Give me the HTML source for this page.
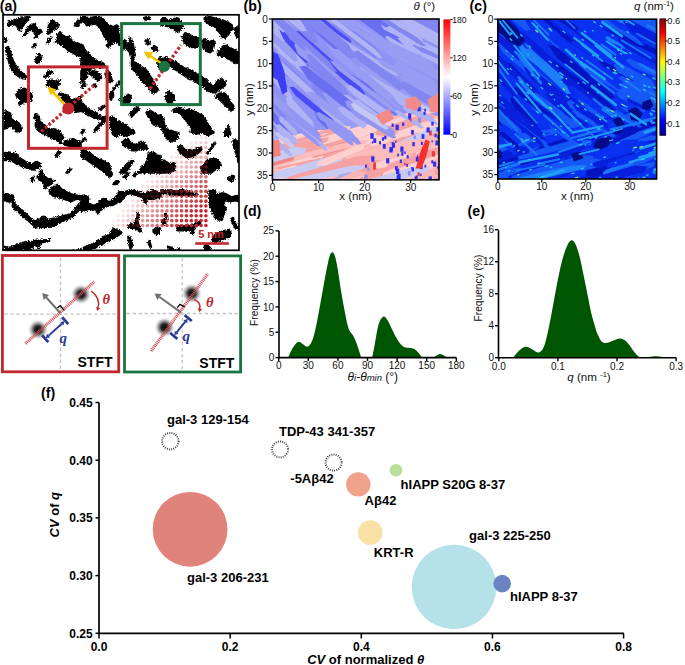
<!DOCTYPE html>
<html><head><meta charset="utf-8"><style>
html,body{margin:0;padding:0;background:#fff;width:685px;height:665px;overflow:hidden}
svg{display:block}

</style></head><body>
<svg width="685" height="665" viewBox="0 0 685 665" font-family="Liberation Sans, sans-serif"><text x="-0.30" y="10.60" font-size="14.2" text-anchor="start" font-weight="bold" font-style="normal" fill="#000" >(a)</text>
<g id="pa">
<rect x="3" y="14.7" width="236" height="235.6" fill="#fff"/>
<clipPath id="clipa"><rect x="3" y="14.7" width="236" height="235.6"/></clipPath><filter id="jag" x="0" y="0" width="100%" height="100%"><feTurbulence type="turbulence" baseFrequency="0.45" numOctaves="1" seed="3" result="t"/><feDisplacementMap in="SourceGraphic" in2="t" scale="3.2" xChannelSelector="R" yChannelSelector="G"/></filter><g clip-path="url(#clipa)"><g filter="url(#jag)" fill="#000" stroke="#000" stroke-width="1.6" stroke-linejoin="round">
<polygon points="6.6,24.0 7.5,21.6 9.6,19.8 12.0,19.2 14.4,18.6 16.8,17.4 19.2,16.2 29.5,15.8 26.5,19.2 23.5,23.4 20.5,27.6 19.2,29.8 17.4,28.8 16.2,25.8 14.4,24.0 12.0,23.4 9.6,24.0 7.8,25.2"/>
<polygon points="22.3,34.3 24.1,31.2 26.5,27.6 29.5,24.0 31.9,22.8 34.3,23.4 34.9,25.8 36.7,27.6 39.7,28.8 40.9,30.6 38.5,32.5 36.7,34.9 35.5,37.3 34.3,36.1 33.1,31.8 31.0,29.4 28.9,28.8 25.9,31.8 24.1,34.3"/>
<polygon points="45.7,32.5 47.9,28.2 47.2,25.2 49.3,21.6 51.7,18.6 53.5,20.4 54.1,22.8 57.1,22.8 58.0,24.6 54.7,27.0 51.7,28.8 49.9,31.2 47.5,33.1"/>
<polygon points="45.5,41.5 48.1,37.3 50.5,36.1 50.3,38.5 47.5,41.8"/>
<polygon points="31.0,46.3 33.4,42.7 35.1,43.0 32.7,46.9"/>
<polygon points="33.9,58.9 36.1,54.7 38.3,52.7 40.7,56.8 39.1,60.1 37.3,62.5 35.5,61.3"/>
<polygon points="54.4,40.9 56.5,34.3 58.9,30.6 61.4,33.7 65.0,36.1 68.0,35.5 71.0,39.4 75.2,42.1 80.0,43.0 80.0,55.3 75.2,54.1 71.6,51.7 68.0,50.5 65.0,47.5 60.8,43.9 57.1,42.7"/>
<polygon points="73.4,24.6 77.0,19.2 80.0,16.8 80.0,20.4 76.4,25.2"/>
<polygon points="3.6,36.7 5.4,37.3 5.8,39.7 4.2,40.9 3.6,40.9"/>
<polygon points="4.8,46.9 6.6,45.7 9.0,48.1 10.2,52.9 12.0,58.9 14.4,63.7 18.0,68.5 21.7,72.2 25.3,75.2 24.7,77.6 21.7,77.6 18.0,75.8 14.4,73.4 11.4,69.7 9.0,64.9 7.2,58.9 6.0,52.9 4.6,49.3"/>
<polygon points="15.6,92.0 17.4,89.0 21.1,87.8 24.1,87.2 25.9,89.0 25.3,92.0"/>
<polygon points="42.7,75.8 46.3,70.9 49.3,69.5 51.7,70.9 47.5,74.6 44.5,76.4"/>
<polygon points="45.1,84.2 47.5,80.0 49.9,78.2 52.9,80.6 56.5,79.4 59.5,78.8 57.7,84.2 55.9,87.2 54.1,89.0 51.7,86.6 48.1,85.4"/>
<polygon points="80.0,15.6 83.6,15.6 87.2,16.8 90.8,16.2 95.6,15.6 100.5,16.2 103.5,19.2 105.3,22.8 108.9,24.6 112.5,25.8 115.5,24.0 117.9,25.8 116.7,29.4 117.9,32.5 119.7,36.1 120.9,40.9 119.7,43.9 117.3,42.7 115.5,40.9 112.5,41.5 110.1,44.5 107.1,46.3 105.3,44.5 107.7,40.9 105.9,38.5 103.5,36.1 101.7,32.5 99.8,28.8 97.4,25.2 94.4,22.8 91.4,23.4 88.4,24.0 85.4,24.6 84.8,22.8 82.4,21.0 80.0,20.4"/>
<polygon points="80.0,44.5 81.8,43.9 83.6,48.1 86.6,51.7 89.6,54.1 93.2,57.7 96.8,60.1 100.5,61.3 102.9,62.5 104.1,66.1 101.7,66.7 98.0,66.1 94.4,65.5 92.0,66.1 89.6,68.5 86.0,69.7 82.4,68.5 80.0,67.3"/>
<polygon points="142.6,16.8 146.2,15.6 149.8,16.8 147.4,19.2 143.8,18.6"/>
<polygon points="125.7,48.1 127.5,40.9 129.3,36.7 131.1,39.7 132.3,44.5 133.5,49.3 134.1,54.1 132.9,57.7 131.7,60.1 134.1,61.3 137.7,63.7 141.4,66.1 145.0,68.5 147.4,72.2 149.8,75.8 152.2,79.4 154.6,84.2 157.0,89.0 154.6,92.0 151.0,92.0 148.6,87.8 145.0,84.2 141.4,80.6 138.9,77.0 136.5,73.4 134.1,70.9 131.7,68.5 130.5,64.9 130.5,60.1 130.5,55.3 129.3,51.7 127.5,50.5"/>
<polygon points="143.8,40.3 146.2,37.9 148.6,39.7 149.2,42.1 146.8,43.9"/>
<polygon points="150.4,46.9 152.8,44.5 155.8,46.3 156.4,48.7 153.4,49.9"/>
<polygon points="120.9,40.3 123.3,38.5 125.7,40.9 125.1,45.7 123.3,48.1 120.9,46.9"/>
<polygon points="80.0,69.7 84.8,68.5 87.2,72.2 86.0,75.8 83.6,79.4 81.2,81.8 80.0,81.8"/>
<polygon points="88.4,70.9 92.0,69.7 96.8,70.9 99.2,73.4 100.5,77.0 98.0,79.4 95.6,79.4 93.2,77.0 90.8,74.6 89.0,73.4"/>
<polygon points="104.1,72.2 106.5,69.7 108.9,70.9 110.1,75.8 111.3,79.4 108.9,81.8 106.5,79.4 104.7,75.8"/>
<polygon points="80.0,85.4 83.6,81.8 84.8,83.6 81.2,87.2"/>
<polygon points="92.0,84.2 93.8,83.0 95.6,85.4 93.8,86.6"/>
<polygon points="108.9,92.0 118.5,79.4 119.7,80.6 110.3,92.0"/>
<polygon points="157.0,57.7 160.0,56.5 160.0,68.5 157.0,67.3"/>
<polygon points="160.0,16.8 163.6,16.8 167.2,19.2 172.0,18.0 175.6,16.8 178.6,18.0 181.1,22.8 182.3,26.4 179.2,28.8 176.8,31.2 173.2,28.8 169.6,26.4 166.0,25.2 162.4,24.0 160.0,23.4"/>
<polygon points="181.1,36.1 184.1,31.8 187.7,33.1 191.3,34.9 194.9,36.1 198.5,37.3 199.7,42.1 197.3,44.5 194.9,46.9 190.1,46.3 186.5,44.5 183.5,43.3 182.3,39.7"/>
<polygon points="203.3,16.8 208.1,15.6 212.9,16.8 217.7,18.0 222.6,19.2 227.4,21.6 231.0,24.0 232.2,27.6 229.8,30.0 227.4,33.7 225.0,36.1 222.6,37.3 220.2,34.9 217.7,31.2 215.3,27.6 212.9,25.2 209.3,24.0 205.7,21.6 203.3,19.2"/>
<polygon points="233.4,27.6 237.0,25.2 238.8,26.4 238.8,36.1 235.8,36.1 234.0,32.5"/>
<polygon points="200.9,38.5 204.5,37.9 208.1,40.9 211.7,39.1 214.1,40.9 212.9,45.7 211.7,49.3 209.3,51.7 205.7,50.5 203.3,48.1 201.5,44.5"/>
<polygon points="216.5,50.5 220.2,46.9 223.8,43.3 227.4,45.7 232.2,48.1 235.8,50.5 238.8,51.7 238.8,60.1 234.6,62.5 231.0,60.1 227.4,57.7 223.8,55.3 220.2,55.3 216.5,54.1"/>
<polygon points="160.0,57.7 164.8,56.5 169.6,58.3 173.2,60.1 176.8,62.5 180.5,64.9 184.1,67.3 187.7,68.5 191.3,69.7 194.9,72.2 198.5,73.4 202.1,75.8 205.7,79.4 209.3,83.0 212.9,85.4 216.5,79.4 220.2,77.0 223.8,80.6 225.0,84.2 221.4,86.6 217.7,89.0 214.1,91.4 210.5,92.0 205.7,89.0 202.1,85.4 198.5,83.0 193.7,80.6 190.1,78.2 186.5,77.0 182.9,74.6 179.2,72.2 175.6,69.7 172.0,67.3 169.6,64.9 166.0,64.9 162.4,63.7 160.0,62.5"/>
<polygon points="164.8,92.0 167.2,89.0 169.6,92.0"/>
<polygon points="14.4,92.0 30.1,92.0 31.3,95.6 30.1,99.2 27.7,101.6 24.1,100.4 20.5,102.8 18.0,104.0 19.2,99.2 15.6,95.6"/>
<polygon points="3.6,110.0 7.2,110.0 9.6,112.5 9.6,116.1 12.0,119.7 15.6,120.3 18.0,122.1 21.1,126.9 19.2,130.5 16.8,131.7 14.4,129.3 12.0,126.9 9.6,124.5 6.0,126.9 3.6,128.1"/>
<polygon points="33.7,113.7 36.1,113.1 38.5,116.1 38.5,119.7 40.9,122.1 43.3,124.5 45.7,126.9 50.5,128.1 54.1,128.1 57.7,129.3 60.2,132.9 62.6,136.5 60.2,140.1 58.9,142.5 56.5,140.1 52.9,137.7 49.3,136.5 45.7,134.1 42.1,132.9 38.5,130.5 35.5,128.1 34.3,124.5 34.9,119.7 33.7,116.1"/>
<polygon points="57.7,92.0 67.4,94.4 69.8,99.2 73.4,98.0 77.0,96.8 80.0,95.6 80.0,110.0 74.6,111.2 71.0,107.6 67.4,105.2 65.0,101.6 61.4,98.0"/>
<polygon points="63.8,140.1 67.4,138.9 72.2,137.7 77.0,140.1 80.0,141.3 80.0,147.3 72.2,146.1 67.4,144.9 62.6,143.7"/>
<polygon points="54.1,154.6 57.7,149.7 59.5,150.9 55.9,155.8"/>
<polygon points="3.6,152.2 7.2,150.9 12.0,152.2 15.6,153.4 19.2,157.0 22.9,159.4 26.5,161.8 31.3,163.0 34.9,160.6 38.5,161.8 39.7,165.4 36.1,167.8 32.5,169.0 27.7,167.8 24.1,166.6 20.5,165.4 15.6,163.0 12.0,160.6 7.2,159.4 3.6,159.4"/>
<polygon points="65.0,172.0 68.6,167.2 70.4,168.4 66.8,172.0"/>
<polygon points="38.5,170.2 40.9,169.0 41.5,172.0 38.5,172.0"/>
<polygon points="80.0,101.6 82.4,102.8 84.8,106.4 88.4,108.8 92.0,110.0 95.6,112.5 99.2,114.9 102.9,116.1 105.3,114.9 104.1,119.7 100.5,118.5 96.8,117.3 93.2,117.3 89.6,114.9 86.0,113.7 82.4,111.2 80.0,110.0"/>
<polygon points="92.0,130.5 98.0,123.3 102.9,117.9 104.1,119.7 99.2,125.7 93.8,131.1"/>
<polygon points="80.0,131.7 82.4,128.1 83.6,129.3 81.2,132.9"/>
<polygon points="80.0,140.1 83.6,136.5 84.8,138.3 81.2,141.3"/>
<polygon points="98.0,107.6 102.9,104.0 104.1,105.2 99.2,110.0"/>
<polygon points="108.9,92.0 112.5,92.0 112.5,95.6 110.1,99.2 108.9,98.0"/>
<polygon points="118.5,98.0 123.3,95.6 128.1,93.2 130.5,96.8 128.1,101.6 124.5,102.8 120.9,101.6"/>
<polygon points="128.1,113.7 132.9,107.6 136.5,105.2 138.9,107.6 134.1,112.5 130.5,116.1"/>
<polygon points="108.9,116.1 111.3,114.9 113.7,117.3 116.1,119.7 118.5,120.9 122.1,122.1 125.7,124.5 128.1,126.9 130.5,128.1 132.9,129.3 134.1,131.7 130.5,132.9 128.1,134.1 125.7,135.3 123.3,134.1 120.9,132.9 118.5,134.1 116.1,135.3 113.7,135.3 111.3,132.9 110.1,128.1 108.9,123.3"/>
<polygon points="120.9,140.1 124.5,137.7 128.1,138.9 130.5,142.5 134.1,143.7 138.9,141.3 141.4,140.1 145.0,143.7 146.2,147.3 142.6,148.5 138.9,148.5 135.3,149.7 131.7,149.7 128.1,147.3 124.5,146.1 122.1,143.7"/>
<polygon points="145.0,111.2 148.6,108.8 152.2,111.2 155.8,113.7 160.0,114.9 160.0,125.7 155.8,124.5 152.2,123.3 149.8,119.7 147.4,116.1"/>
<polygon points="80.0,149.7 83.6,148.5 87.2,150.9 90.8,153.4 94.4,155.8 99.2,158.2 104.1,160.6 107.7,163.0 110.1,166.6 108.9,172.0 104.1,172.0 100.5,169.0 96.8,166.6 93.2,164.2 89.6,161.8 86.0,159.4 82.4,157.0 80.0,155.8"/>
<polygon points="118.5,172.0 123.3,165.4 126.9,161.8 130.5,159.4 132.9,160.6 128.1,166.6 124.5,172.0"/>
<polygon points="136.5,172.0 141.4,165.4 146.2,159.4 147.4,152.2 152.2,150.9 157.0,154.6 160.0,154.6 160.0,172.0"/>
<polygon points="163.6,95.6 167.2,93.2 170.8,92.0 173.2,94.4 173.2,99.2 170.8,101.6 167.2,101.6 164.8,99.2"/>
<polygon points="172.0,108.8 176.8,106.4 181.7,107.6 184.1,110.0 187.7,107.6 192.5,110.0 197.3,112.5 200.9,113.7 203.3,116.1 205.7,120.9 208.1,124.5 210.5,128.1 212.9,131.7 208.1,134.1 204.5,134.1 200.9,131.7 197.3,132.9 192.5,131.7 188.9,130.5 190.1,126.9 187.7,123.3 185.3,120.9 182.9,117.3 180.5,113.7 176.8,111.2 173.2,111.2"/>
<polygon points="214.1,94.4 218.9,92.0 223.8,92.0 227.4,96.8 229.8,101.6 232.2,104.0 233.4,107.6 231.0,110.0 228.6,108.8 225.0,105.2 221.4,101.6 217.7,98.0 215.3,96.8"/>
<polygon points="160.0,114.9 162.4,117.3 163.6,123.3 166.0,128.1 169.6,129.3 173.2,130.5 178.0,131.7 176.8,136.5 173.2,140.1 169.6,141.3 166.0,137.7 163.6,132.9 161.2,129.3 160.0,128.1"/>
<polygon points="176.8,146.1 179.2,143.7 182.9,147.3 185.3,149.7 188.9,148.5 192.5,149.7 196.1,147.3 199.7,146.1 200.9,148.5 197.3,152.2 193.7,154.6 190.1,155.8 186.5,157.0 182.9,154.6 179.2,152.2 178.0,149.7"/>
<polygon points="222.6,131.7 225.6,128.1 227.4,124.5 228.6,128.1 229.8,132.9 227.4,135.3 223.8,135.3"/>
<polygon points="232.2,137.7 237.0,140.1 238.8,142.5 238.8,159.4 237.0,160.6 235.8,154.6 233.4,148.5 232.2,143.7"/>
<polygon points="160.0,159.4 163.6,159.4 167.2,161.8 169.6,164.2 172.0,161.8 174.4,164.2 173.2,169.0 169.6,171.4 164.8,172.0 160.0,172.0"/>
<polygon points="199.7,166.6 203.3,163.0 205.7,159.4 208.1,158.2 211.7,157.0 215.3,158.2 217.7,159.4 220.2,164.2 217.7,167.8 214.1,169.0 210.5,172.0 200.9,172.0"/>
<polygon points="205.7,152.2 213.5,141.3 214.7,142.3 206.9,153.1"/>
<polygon points="36.1,175.6 39.7,172.0 42.1,173.2 45.7,176.8 50.5,178.0 53.5,180.4 50.5,182.8 46.9,185.2 44.5,187.6 42.7,186.4 43.3,182.8 40.9,180.4 37.3,178.6"/>
<polygon points="29.5,179.2 31.9,176.2 33.1,177.4 30.7,180.4"/>
<polygon points="48.1,190.0 52.9,185.2 56.5,183.4 60.2,187.6 63.8,190.0 68.6,192.5 73.4,193.7 80.0,194.9 80.0,197.9 74.6,198.5 69.8,200.9 65.0,198.5 60.2,197.3 55.3,196.1 51.7,194.9 49.3,192.5"/>
<polygon points="3.4,192.5 7.2,193.1 12.0,194.3 13.2,198.5 12.0,200.9 8.4,200.9 4.8,199.7 3.4,199.7"/>
<polygon points="12.0,200.9 14.4,203.3 18.0,206.9 22.9,210.5 26.5,214.1 30.1,217.7 33.7,220.1 38.5,217.7 43.3,215.3 45.7,218.9 50.5,217.7 55.3,216.5 60.2,215.3 65.0,214.1 69.8,212.9 74.6,206.9 80.0,200.9 80.0,206.9 77.0,210.5 72.2,215.3 67.4,217.7 62.6,220.1 57.7,222.5 52.9,224.9 48.1,226.1 43.3,226.1 38.5,226.1 34.9,227.3 31.3,223.7 27.7,220.1 24.1,217.7 20.5,214.1 16.8,210.5 13.2,208.1 11.4,204.5"/>
<polygon points="3.6,245.4 7.2,246.6 12.0,245.4 16.8,243.0 21.7,241.8 25.3,240.6 30.1,240.6 34.9,239.4 39.7,239.4 44.5,238.8 48.7,238.8 45.7,240.6 40.9,241.8 37.3,246.6 34.9,244.2 31.3,246.6 27.7,249.0 22.9,249.6 18.0,249.6 12.0,250.2 7.2,250.2 3.6,249.6"/>
<polygon points="72.2,250.8 77.0,249.0 80.0,247.8 80.0,250.8"/>
<polygon points="104.1,172.0 111.3,172.0 110.1,175.6 107.7,175.6 105.3,173.8"/>
<polygon points="122.1,176.8 125.7,172.0 128.1,172.0 124.5,177.4"/>
<polygon points="131.7,175.0 134.1,172.0 136.5,172.0 133.5,175.6"/>
<polygon points="111.9,183.4 114.9,179.8 118.5,179.8 116.1,183.4"/>
<polygon points="80.0,194.9 84.8,193.7 87.2,196.1 88.4,202.1 92.0,204.5 96.8,202.1 101.7,197.3 105.3,198.5 108.9,200.9 112.5,198.5 116.1,193.7 118.5,190.0 122.1,191.2 125.7,190.0 129.3,188.8 134.1,189.4 138.9,191.2 143.8,192.5 148.6,190.0 152.2,188.8 157.0,191.2 160.0,192.5 160.0,196.1 155.8,197.3 151.0,198.5 146.2,197.9 145.0,202.1 142.6,200.9 140.2,196.1 136.5,194.9 132.9,193.7 129.3,192.5 125.7,193.7 122.1,197.3 119.7,200.9 116.1,202.1 111.3,204.5 107.7,204.5 102.9,206.9 99.2,209.3 96.8,212.9 94.4,208.1 92.0,209.3 88.4,208.1 84.8,209.3 81.2,210.5 80.0,210.5"/>
<polygon points="82.4,246.6 87.2,244.2 92.0,243.0 96.8,239.4 101.7,235.8 106.5,234.6 110.1,230.9 112.5,227.3 116.1,228.5 119.7,229.7 120.9,232.2 117.3,234.6 113.7,237.0 110.1,238.2 105.3,240.6 101.7,243.0 96.8,245.4 93.2,247.8 89.6,249.6 83.6,249.6"/>
<polygon points="126.9,235.8 128.7,235.2 131.7,244.2 129.9,248.4 128.1,244.2"/>
<polygon points="146.8,240.6 148.6,240.0 150.4,245.4 148.6,246.0"/>
<polygon points="126.9,224.9 130.5,222.5 132.9,224.9 135.3,217.7 136.5,211.7 137.7,214.1 136.5,220.1 140.2,229.7 138.9,230.9 134.1,227.3 130.5,227.3 127.5,227.3"/>
<polygon points="152.2,228.5 155.8,226.1 159.4,227.3 158.2,232.2 154.6,233.4 152.2,230.9"/>
<polygon points="226.8,176.8 231.0,174.4 233.4,175.6 232.2,179.2 229.8,180.4 227.4,178.6"/>
<polygon points="208.1,190.0 212.9,188.8 216.5,193.1 221.4,191.8 225.6,193.1 231.0,196.1 235.8,194.3 238.8,196.1 238.8,200.9 234.6,199.7 228.6,200.9 225.6,199.7 222.6,200.9 225.0,208.1 222.6,214.1 221.4,218.9 217.7,218.9 214.1,217.7 211.7,211.7 209.3,206.9 208.1,202.1"/>
<polygon points="229.8,217.7 232.2,216.5 234.6,222.5 235.8,226.1 238.2,224.9 238.8,227.3 234.6,227.9 232.2,223.7"/>
<polygon points="216.5,232.2 222.6,229.7 227.4,228.5 229.8,230.9 228.6,235.8 225.0,237.0 220.2,239.4 216.5,240.6 212.9,241.2 210.5,239.4 212.9,234.6"/>
<polygon points="175.6,226.1 179.2,224.9 184.1,224.9 190.1,223.7 194.9,222.5 198.5,220.1 199.7,222.5 196.1,224.9 192.5,227.3 192.5,232.2 191.3,233.4 188.9,229.7 185.3,229.7 180.5,229.7 176.8,229.7"/>
<polygon points="160.0,188.8 164.8,188.8 169.6,189.4 174.4,190.0 179.2,188.8 184.1,189.4 188.9,191.2 193.7,192.5 196.1,193.7 190.1,194.9 184.1,193.7 180.5,194.9 175.6,193.7 169.6,193.7 164.8,192.5 160.0,192.5"/>
<polygon points="167.2,245.4 170.8,246.6 174.4,249.0 178.0,247.8 180.5,250.8 167.2,250.8"/>
<polygon points="203.3,244.8 208.1,244.2 209.3,249.0 206.9,250.8 204.5,250.2"/>
<polygon points="160.0,220.1 163.6,217.7 164.8,222.5 162.4,223.7"/>
<polygon points="163.6,212.9 165.4,212.3 166.6,216.5 164.8,217.7"/>
</g></g>
</g>
<rect x="3" y="14.8" width="236" height="235.5" fill="none" stroke="#000" stroke-width="1.7"/>
<g clip-path="url(#clipa)">
<circle cx="205.90" cy="225.50" r="1.8" fill="#c4242c" fill-opacity="1.00"/>
<circle cx="205.90" cy="220.63" r="1.8" fill="#c4242c" fill-opacity="1.00"/>
<circle cx="205.90" cy="215.76" r="1.8" fill="#c4242c" fill-opacity="1.00"/>
<circle cx="205.90" cy="210.89" r="1.8" fill="#c4242c" fill-opacity="1.00"/>
<circle cx="205.90" cy="206.02" r="1.8" fill="#c4242c" fill-opacity="1.00"/>
<circle cx="205.90" cy="201.15" r="1.8" fill="#c4242c" fill-opacity="0.98"/>
<circle cx="205.90" cy="196.28" r="1.8" fill="#c4242c" fill-opacity="0.92"/>
<circle cx="205.90" cy="191.41" r="1.8" fill="#c4242c" fill-opacity="0.86"/>
<circle cx="205.90" cy="186.54" r="1.8" fill="#c4242c" fill-opacity="0.79"/>
<circle cx="205.90" cy="181.67" r="1.8" fill="#c4242c" fill-opacity="0.73"/>
<circle cx="205.90" cy="176.80" r="1.8" fill="#c4242c" fill-opacity="0.67"/>
<circle cx="205.90" cy="171.93" r="1.8" fill="#c4242c" fill-opacity="0.60"/>
<circle cx="205.90" cy="167.06" r="1.8" fill="#c4242c" fill-opacity="0.54"/>
<circle cx="205.90" cy="162.19" r="1.8" fill="#c4242c" fill-opacity="0.48"/>
<circle cx="205.90" cy="157.32" r="1.8" fill="#c4242c" fill-opacity="0.41"/>
<circle cx="205.90" cy="152.45" r="1.8" fill="#c4242c" fill-opacity="0.35"/>
<circle cx="205.90" cy="147.58" r="1.8" fill="#c4242c" fill-opacity="0.29"/>
<circle cx="205.90" cy="142.71" r="1.8" fill="#c4242c" fill-opacity="0.22"/>
<circle cx="205.90" cy="137.84" r="1.8" fill="#c4242c" fill-opacity="0.16"/>
<circle cx="205.90" cy="132.97" r="1.8" fill="#c4242c" fill-opacity="0.10"/>
<circle cx="201.03" cy="225.50" r="1.8" fill="#c4242c" fill-opacity="1.00"/>
<circle cx="201.03" cy="220.63" r="1.8" fill="#c4242c" fill-opacity="1.00"/>
<circle cx="201.03" cy="215.76" r="1.8" fill="#c4242c" fill-opacity="1.00"/>
<circle cx="201.03" cy="210.89" r="1.8" fill="#c4242c" fill-opacity="1.00"/>
<circle cx="201.03" cy="206.02" r="1.8" fill="#c4242c" fill-opacity="1.00"/>
<circle cx="201.03" cy="201.15" r="1.8" fill="#c4242c" fill-opacity="0.94"/>
<circle cx="201.03" cy="196.28" r="1.8" fill="#c4242c" fill-opacity="0.88"/>
<circle cx="201.03" cy="191.41" r="1.8" fill="#c4242c" fill-opacity="0.82"/>
<circle cx="201.03" cy="186.54" r="1.8" fill="#c4242c" fill-opacity="0.75"/>
<circle cx="201.03" cy="181.67" r="1.8" fill="#c4242c" fill-opacity="0.69"/>
<circle cx="201.03" cy="176.80" r="1.8" fill="#c4242c" fill-opacity="0.63"/>
<circle cx="201.03" cy="171.93" r="1.8" fill="#c4242c" fill-opacity="0.57"/>
<circle cx="201.03" cy="167.06" r="1.8" fill="#c4242c" fill-opacity="0.50"/>
<circle cx="201.03" cy="162.19" r="1.8" fill="#c4242c" fill-opacity="0.44"/>
<circle cx="201.03" cy="157.32" r="1.8" fill="#c4242c" fill-opacity="0.38"/>
<circle cx="201.03" cy="152.45" r="1.8" fill="#c4242c" fill-opacity="0.31"/>
<circle cx="201.03" cy="147.58" r="1.8" fill="#c4242c" fill-opacity="0.25"/>
<circle cx="201.03" cy="142.71" r="1.8" fill="#c4242c" fill-opacity="0.19"/>
<circle cx="201.03" cy="137.84" r="1.8" fill="#c4242c" fill-opacity="0.12"/>
<circle cx="201.03" cy="132.97" r="1.8" fill="#c4242c" fill-opacity="0.06"/>
<circle cx="196.16" cy="225.50" r="1.8" fill="#c4242c" fill-opacity="1.00"/>
<circle cx="196.16" cy="220.63" r="1.8" fill="#c4242c" fill-opacity="1.00"/>
<circle cx="196.16" cy="215.76" r="1.8" fill="#c4242c" fill-opacity="1.00"/>
<circle cx="196.16" cy="210.89" r="1.8" fill="#c4242c" fill-opacity="1.00"/>
<circle cx="196.16" cy="206.02" r="1.8" fill="#c4242c" fill-opacity="0.95"/>
<circle cx="196.16" cy="201.15" r="1.8" fill="#c4242c" fill-opacity="0.89"/>
<circle cx="196.16" cy="196.28" r="1.8" fill="#c4242c" fill-opacity="0.83"/>
<circle cx="196.16" cy="191.41" r="1.8" fill="#c4242c" fill-opacity="0.77"/>
<circle cx="196.16" cy="186.54" r="1.8" fill="#c4242c" fill-opacity="0.71"/>
<circle cx="196.16" cy="181.67" r="1.8" fill="#c4242c" fill-opacity="0.64"/>
<circle cx="196.16" cy="176.80" r="1.8" fill="#c4242c" fill-opacity="0.58"/>
<circle cx="196.16" cy="171.93" r="1.8" fill="#c4242c" fill-opacity="0.52"/>
<circle cx="196.16" cy="167.06" r="1.8" fill="#c4242c" fill-opacity="0.46"/>
<circle cx="196.16" cy="162.19" r="1.8" fill="#c4242c" fill-opacity="0.39"/>
<circle cx="196.16" cy="157.32" r="1.8" fill="#c4242c" fill-opacity="0.33"/>
<circle cx="196.16" cy="152.45" r="1.8" fill="#c4242c" fill-opacity="0.27"/>
<circle cx="196.16" cy="147.58" r="1.8" fill="#c4242c" fill-opacity="0.21"/>
<circle cx="196.16" cy="142.71" r="1.8" fill="#c4242c" fill-opacity="0.14"/>
<circle cx="196.16" cy="137.84" r="1.8" fill="#c4242c" fill-opacity="0.08"/>
<circle cx="191.29" cy="225.50" r="1.8" fill="#c4242c" fill-opacity="1.00"/>
<circle cx="191.29" cy="220.63" r="1.8" fill="#c4242c" fill-opacity="1.00"/>
<circle cx="191.29" cy="215.76" r="1.8" fill="#c4242c" fill-opacity="1.00"/>
<circle cx="191.29" cy="210.89" r="1.8" fill="#c4242c" fill-opacity="0.95"/>
<circle cx="191.29" cy="206.02" r="1.8" fill="#c4242c" fill-opacity="0.89"/>
<circle cx="191.29" cy="201.15" r="1.8" fill="#c4242c" fill-opacity="0.84"/>
<circle cx="191.29" cy="196.28" r="1.8" fill="#c4242c" fill-opacity="0.78"/>
<circle cx="191.29" cy="191.41" r="1.8" fill="#c4242c" fill-opacity="0.71"/>
<circle cx="191.29" cy="186.54" r="1.8" fill="#c4242c" fill-opacity="0.65"/>
<circle cx="191.29" cy="181.67" r="1.8" fill="#c4242c" fill-opacity="0.59"/>
<circle cx="191.29" cy="176.80" r="1.8" fill="#c4242c" fill-opacity="0.53"/>
<circle cx="191.29" cy="171.93" r="1.8" fill="#c4242c" fill-opacity="0.47"/>
<circle cx="191.29" cy="167.06" r="1.8" fill="#c4242c" fill-opacity="0.41"/>
<circle cx="191.29" cy="162.19" r="1.8" fill="#c4242c" fill-opacity="0.35"/>
<circle cx="191.29" cy="157.32" r="1.8" fill="#c4242c" fill-opacity="0.28"/>
<circle cx="191.29" cy="152.45" r="1.8" fill="#c4242c" fill-opacity="0.22"/>
<circle cx="191.29" cy="147.58" r="1.8" fill="#c4242c" fill-opacity="0.16"/>
<circle cx="191.29" cy="142.71" r="1.8" fill="#c4242c" fill-opacity="0.10"/>
<circle cx="186.42" cy="225.50" r="1.8" fill="#c4242c" fill-opacity="1.00"/>
<circle cx="186.42" cy="220.63" r="1.8" fill="#c4242c" fill-opacity="1.00"/>
<circle cx="186.42" cy="215.76" r="1.8" fill="#c4242c" fill-opacity="0.95"/>
<circle cx="186.42" cy="210.89" r="1.8" fill="#c4242c" fill-opacity="0.89"/>
<circle cx="186.42" cy="206.02" r="1.8" fill="#c4242c" fill-opacity="0.84"/>
<circle cx="186.42" cy="201.15" r="1.8" fill="#c4242c" fill-opacity="0.78"/>
<circle cx="186.42" cy="196.28" r="1.8" fill="#c4242c" fill-opacity="0.72"/>
<circle cx="186.42" cy="191.41" r="1.8" fill="#c4242c" fill-opacity="0.66"/>
<circle cx="186.42" cy="186.54" r="1.8" fill="#c4242c" fill-opacity="0.60"/>
<circle cx="186.42" cy="181.67" r="1.8" fill="#c4242c" fill-opacity="0.54"/>
<circle cx="186.42" cy="176.80" r="1.8" fill="#c4242c" fill-opacity="0.48"/>
<circle cx="186.42" cy="171.93" r="1.8" fill="#c4242c" fill-opacity="0.42"/>
<circle cx="186.42" cy="167.06" r="1.8" fill="#c4242c" fill-opacity="0.36"/>
<circle cx="186.42" cy="162.19" r="1.8" fill="#c4242c" fill-opacity="0.30"/>
<circle cx="186.42" cy="157.32" r="1.8" fill="#c4242c" fill-opacity="0.23"/>
<circle cx="186.42" cy="152.45" r="1.8" fill="#c4242c" fill-opacity="0.17"/>
<circle cx="186.42" cy="147.58" r="1.8" fill="#c4242c" fill-opacity="0.11"/>
<circle cx="181.55" cy="225.50" r="1.8" fill="#c4242c" fill-opacity="0.98"/>
<circle cx="181.55" cy="220.63" r="1.8" fill="#c4242c" fill-opacity="0.94"/>
<circle cx="181.55" cy="215.76" r="1.8" fill="#c4242c" fill-opacity="0.89"/>
<circle cx="181.55" cy="210.89" r="1.8" fill="#c4242c" fill-opacity="0.84"/>
<circle cx="181.55" cy="206.02" r="1.8" fill="#c4242c" fill-opacity="0.78"/>
<circle cx="181.55" cy="201.15" r="1.8" fill="#c4242c" fill-opacity="0.72"/>
<circle cx="181.55" cy="196.28" r="1.8" fill="#c4242c" fill-opacity="0.66"/>
<circle cx="181.55" cy="191.41" r="1.8" fill="#c4242c" fill-opacity="0.60"/>
<circle cx="181.55" cy="186.54" r="1.8" fill="#c4242c" fill-opacity="0.55"/>
<circle cx="181.55" cy="181.67" r="1.8" fill="#c4242c" fill-opacity="0.49"/>
<circle cx="181.55" cy="176.80" r="1.8" fill="#c4242c" fill-opacity="0.43"/>
<circle cx="181.55" cy="171.93" r="1.8" fill="#c4242c" fill-opacity="0.36"/>
<circle cx="181.55" cy="167.06" r="1.8" fill="#c4242c" fill-opacity="0.30"/>
<circle cx="181.55" cy="162.19" r="1.8" fill="#c4242c" fill-opacity="0.24"/>
<circle cx="181.55" cy="157.32" r="1.8" fill="#c4242c" fill-opacity="0.18"/>
<circle cx="181.55" cy="152.45" r="1.8" fill="#c4242c" fill-opacity="0.12"/>
<circle cx="181.55" cy="147.58" r="1.8" fill="#c4242c" fill-opacity="0.06"/>
<circle cx="176.68" cy="225.50" r="1.8" fill="#c4242c" fill-opacity="0.92"/>
<circle cx="176.68" cy="220.63" r="1.8" fill="#c4242c" fill-opacity="0.88"/>
<circle cx="176.68" cy="215.76" r="1.8" fill="#c4242c" fill-opacity="0.83"/>
<circle cx="176.68" cy="210.89" r="1.8" fill="#c4242c" fill-opacity="0.78"/>
<circle cx="176.68" cy="206.02" r="1.8" fill="#c4242c" fill-opacity="0.72"/>
<circle cx="176.68" cy="201.15" r="1.8" fill="#c4242c" fill-opacity="0.66"/>
<circle cx="176.68" cy="196.28" r="1.8" fill="#c4242c" fill-opacity="0.61"/>
<circle cx="176.68" cy="191.41" r="1.8" fill="#c4242c" fill-opacity="0.55"/>
<circle cx="176.68" cy="186.54" r="1.8" fill="#c4242c" fill-opacity="0.49"/>
<circle cx="176.68" cy="181.67" r="1.8" fill="#c4242c" fill-opacity="0.43"/>
<circle cx="176.68" cy="176.80" r="1.8" fill="#c4242c" fill-opacity="0.37"/>
<circle cx="176.68" cy="171.93" r="1.8" fill="#c4242c" fill-opacity="0.31"/>
<circle cx="176.68" cy="167.06" r="1.8" fill="#c4242c" fill-opacity="0.25"/>
<circle cx="176.68" cy="162.19" r="1.8" fill="#c4242c" fill-opacity="0.19"/>
<circle cx="176.68" cy="157.32" r="1.8" fill="#c4242c" fill-opacity="0.13"/>
<circle cx="176.68" cy="152.45" r="1.8" fill="#c4242c" fill-opacity="0.07"/>
<circle cx="171.81" cy="225.50" r="1.8" fill="#c4242c" fill-opacity="0.86"/>
<circle cx="171.81" cy="220.63" r="1.8" fill="#c4242c" fill-opacity="0.82"/>
<circle cx="171.81" cy="215.76" r="1.8" fill="#c4242c" fill-opacity="0.77"/>
<circle cx="171.81" cy="210.89" r="1.8" fill="#c4242c" fill-opacity="0.71"/>
<circle cx="171.81" cy="206.02" r="1.8" fill="#c4242c" fill-opacity="0.66"/>
<circle cx="171.81" cy="201.15" r="1.8" fill="#c4242c" fill-opacity="0.60"/>
<circle cx="171.81" cy="196.28" r="1.8" fill="#c4242c" fill-opacity="0.55"/>
<circle cx="171.81" cy="191.41" r="1.8" fill="#c4242c" fill-opacity="0.49"/>
<circle cx="171.81" cy="186.54" r="1.8" fill="#c4242c" fill-opacity="0.43"/>
<circle cx="171.81" cy="181.67" r="1.8" fill="#c4242c" fill-opacity="0.37"/>
<circle cx="171.81" cy="176.80" r="1.8" fill="#c4242c" fill-opacity="0.31"/>
<circle cx="171.81" cy="171.93" r="1.8" fill="#c4242c" fill-opacity="0.26"/>
<circle cx="171.81" cy="167.06" r="1.8" fill="#c4242c" fill-opacity="0.20"/>
<circle cx="171.81" cy="162.19" r="1.8" fill="#c4242c" fill-opacity="0.14"/>
<circle cx="171.81" cy="157.32" r="1.8" fill="#c4242c" fill-opacity="0.08"/>
<circle cx="166.94" cy="225.50" r="1.8" fill="#c4242c" fill-opacity="0.79"/>
<circle cx="166.94" cy="220.63" r="1.8" fill="#c4242c" fill-opacity="0.75"/>
<circle cx="166.94" cy="215.76" r="1.8" fill="#c4242c" fill-opacity="0.71"/>
<circle cx="166.94" cy="210.89" r="1.8" fill="#c4242c" fill-opacity="0.65"/>
<circle cx="166.94" cy="206.02" r="1.8" fill="#c4242c" fill-opacity="0.60"/>
<circle cx="166.94" cy="201.15" r="1.8" fill="#c4242c" fill-opacity="0.55"/>
<circle cx="166.94" cy="196.28" r="1.8" fill="#c4242c" fill-opacity="0.49"/>
<circle cx="166.94" cy="191.41" r="1.8" fill="#c4242c" fill-opacity="0.43"/>
<circle cx="166.94" cy="186.54" r="1.8" fill="#c4242c" fill-opacity="0.37"/>
<circle cx="166.94" cy="181.67" r="1.8" fill="#c4242c" fill-opacity="0.32"/>
<circle cx="166.94" cy="176.80" r="1.8" fill="#c4242c" fill-opacity="0.26"/>
<circle cx="166.94" cy="171.93" r="1.8" fill="#c4242c" fill-opacity="0.20"/>
<circle cx="166.94" cy="167.06" r="1.8" fill="#c4242c" fill-opacity="0.14"/>
<circle cx="166.94" cy="162.19" r="1.8" fill="#c4242c" fill-opacity="0.08"/>
<circle cx="162.07" cy="225.50" r="1.8" fill="#c4242c" fill-opacity="0.73"/>
<circle cx="162.07" cy="220.63" r="1.8" fill="#c4242c" fill-opacity="0.69"/>
<circle cx="162.07" cy="215.76" r="1.8" fill="#c4242c" fill-opacity="0.64"/>
<circle cx="162.07" cy="210.89" r="1.8" fill="#c4242c" fill-opacity="0.59"/>
<circle cx="162.07" cy="206.02" r="1.8" fill="#c4242c" fill-opacity="0.54"/>
<circle cx="162.07" cy="201.15" r="1.8" fill="#c4242c" fill-opacity="0.49"/>
<circle cx="162.07" cy="196.28" r="1.8" fill="#c4242c" fill-opacity="0.43"/>
<circle cx="162.07" cy="191.41" r="1.8" fill="#c4242c" fill-opacity="0.37"/>
<circle cx="162.07" cy="186.54" r="1.8" fill="#c4242c" fill-opacity="0.32"/>
<circle cx="162.07" cy="181.67" r="1.8" fill="#c4242c" fill-opacity="0.26"/>
<circle cx="162.07" cy="176.80" r="1.8" fill="#c4242c" fill-opacity="0.20"/>
<circle cx="162.07" cy="171.93" r="1.8" fill="#c4242c" fill-opacity="0.14"/>
<circle cx="162.07" cy="167.06" r="1.8" fill="#c4242c" fill-opacity="0.08"/>
<circle cx="157.20" cy="225.50" r="1.8" fill="#c4242c" fill-opacity="0.67"/>
<circle cx="157.20" cy="220.63" r="1.8" fill="#c4242c" fill-opacity="0.63"/>
<circle cx="157.20" cy="215.76" r="1.8" fill="#c4242c" fill-opacity="0.58"/>
<circle cx="157.20" cy="210.89" r="1.8" fill="#c4242c" fill-opacity="0.53"/>
<circle cx="157.20" cy="206.02" r="1.8" fill="#c4242c" fill-opacity="0.48"/>
<circle cx="157.20" cy="201.15" r="1.8" fill="#c4242c" fill-opacity="0.43"/>
<circle cx="157.20" cy="196.28" r="1.8" fill="#c4242c" fill-opacity="0.37"/>
<circle cx="157.20" cy="191.41" r="1.8" fill="#c4242c" fill-opacity="0.31"/>
<circle cx="157.20" cy="186.54" r="1.8" fill="#c4242c" fill-opacity="0.26"/>
<circle cx="157.20" cy="181.67" r="1.8" fill="#c4242c" fill-opacity="0.20"/>
<circle cx="157.20" cy="176.80" r="1.8" fill="#c4242c" fill-opacity="0.14"/>
<circle cx="157.20" cy="171.93" r="1.8" fill="#c4242c" fill-opacity="0.09"/>
<circle cx="152.33" cy="225.50" r="1.8" fill="#c4242c" fill-opacity="0.60"/>
<circle cx="152.33" cy="220.63" r="1.8" fill="#c4242c" fill-opacity="0.57"/>
<circle cx="152.33" cy="215.76" r="1.8" fill="#c4242c" fill-opacity="0.52"/>
<circle cx="152.33" cy="210.89" r="1.8" fill="#c4242c" fill-opacity="0.47"/>
<circle cx="152.33" cy="206.02" r="1.8" fill="#c4242c" fill-opacity="0.42"/>
<circle cx="152.33" cy="201.15" r="1.8" fill="#c4242c" fill-opacity="0.36"/>
<circle cx="152.33" cy="196.28" r="1.8" fill="#c4242c" fill-opacity="0.31"/>
<circle cx="152.33" cy="191.41" r="1.8" fill="#c4242c" fill-opacity="0.26"/>
<circle cx="152.33" cy="186.54" r="1.8" fill="#c4242c" fill-opacity="0.20"/>
<circle cx="152.33" cy="181.67" r="1.8" fill="#c4242c" fill-opacity="0.14"/>
<circle cx="152.33" cy="176.80" r="1.8" fill="#c4242c" fill-opacity="0.09"/>
<circle cx="147.46" cy="225.50" r="1.8" fill="#c4242c" fill-opacity="0.54"/>
<circle cx="147.46" cy="220.63" r="1.8" fill="#c4242c" fill-opacity="0.50"/>
<circle cx="147.46" cy="215.76" r="1.8" fill="#c4242c" fill-opacity="0.46"/>
<circle cx="147.46" cy="210.89" r="1.8" fill="#c4242c" fill-opacity="0.41"/>
<circle cx="147.46" cy="206.02" r="1.8" fill="#c4242c" fill-opacity="0.36"/>
<circle cx="147.46" cy="201.15" r="1.8" fill="#c4242c" fill-opacity="0.30"/>
<circle cx="147.46" cy="196.28" r="1.8" fill="#c4242c" fill-opacity="0.25"/>
<circle cx="147.46" cy="191.41" r="1.8" fill="#c4242c" fill-opacity="0.20"/>
<circle cx="147.46" cy="186.54" r="1.8" fill="#c4242c" fill-opacity="0.14"/>
<circle cx="147.46" cy="181.67" r="1.8" fill="#c4242c" fill-opacity="0.08"/>
<circle cx="142.59" cy="225.50" r="1.8" fill="#c4242c" fill-opacity="0.48"/>
<circle cx="142.59" cy="220.63" r="1.8" fill="#c4242c" fill-opacity="0.44"/>
<circle cx="142.59" cy="215.76" r="1.8" fill="#c4242c" fill-opacity="0.39"/>
<circle cx="142.59" cy="210.89" r="1.8" fill="#c4242c" fill-opacity="0.35"/>
<circle cx="142.59" cy="206.02" r="1.8" fill="#c4242c" fill-opacity="0.30"/>
<circle cx="142.59" cy="201.15" r="1.8" fill="#c4242c" fill-opacity="0.24"/>
<circle cx="142.59" cy="196.28" r="1.8" fill="#c4242c" fill-opacity="0.19"/>
<circle cx="142.59" cy="191.41" r="1.8" fill="#c4242c" fill-opacity="0.14"/>
<circle cx="142.59" cy="186.54" r="1.8" fill="#c4242c" fill-opacity="0.08"/>
<circle cx="137.72" cy="225.50" r="1.8" fill="#c4242c" fill-opacity="0.41"/>
<circle cx="137.72" cy="220.63" r="1.8" fill="#c4242c" fill-opacity="0.38"/>
<circle cx="137.72" cy="215.76" r="1.8" fill="#c4242c" fill-opacity="0.33"/>
<circle cx="137.72" cy="210.89" r="1.8" fill="#c4242c" fill-opacity="0.28"/>
<circle cx="137.72" cy="206.02" r="1.8" fill="#c4242c" fill-opacity="0.23"/>
<circle cx="137.72" cy="201.15" r="1.8" fill="#c4242c" fill-opacity="0.18"/>
<circle cx="137.72" cy="196.28" r="1.8" fill="#c4242c" fill-opacity="0.13"/>
<circle cx="137.72" cy="191.41" r="1.8" fill="#c4242c" fill-opacity="0.08"/>
<circle cx="132.85" cy="225.50" r="1.8" fill="#c4242c" fill-opacity="0.35"/>
<circle cx="132.85" cy="220.63" r="1.8" fill="#c4242c" fill-opacity="0.31"/>
<circle cx="132.85" cy="215.76" r="1.8" fill="#c4242c" fill-opacity="0.27"/>
<circle cx="132.85" cy="210.89" r="1.8" fill="#c4242c" fill-opacity="0.22"/>
<circle cx="132.85" cy="206.02" r="1.8" fill="#c4242c" fill-opacity="0.17"/>
<circle cx="132.85" cy="201.15" r="1.8" fill="#c4242c" fill-opacity="0.12"/>
<circle cx="132.85" cy="196.28" r="1.8" fill="#c4242c" fill-opacity="0.07"/>
<circle cx="127.98" cy="225.50" r="1.8" fill="#c4242c" fill-opacity="0.29"/>
<circle cx="127.98" cy="220.63" r="1.8" fill="#c4242c" fill-opacity="0.25"/>
<circle cx="127.98" cy="215.76" r="1.8" fill="#c4242c" fill-opacity="0.21"/>
<circle cx="127.98" cy="210.89" r="1.8" fill="#c4242c" fill-opacity="0.16"/>
<circle cx="127.98" cy="206.02" r="1.8" fill="#c4242c" fill-opacity="0.11"/>
<circle cx="127.98" cy="201.15" r="1.8" fill="#c4242c" fill-opacity="0.06"/>
<circle cx="123.11" cy="225.50" r="1.8" fill="#c4242c" fill-opacity="0.22"/>
<circle cx="123.11" cy="220.63" r="1.8" fill="#c4242c" fill-opacity="0.19"/>
<circle cx="123.11" cy="215.76" r="1.8" fill="#c4242c" fill-opacity="0.14"/>
<circle cx="123.11" cy="210.89" r="1.8" fill="#c4242c" fill-opacity="0.10"/>
<circle cx="118.24" cy="225.50" r="1.8" fill="#c4242c" fill-opacity="0.16"/>
<circle cx="118.24" cy="220.63" r="1.8" fill="#c4242c" fill-opacity="0.12"/>
<circle cx="118.24" cy="215.76" r="1.8" fill="#c4242c" fill-opacity="0.08"/>
<circle cx="113.37" cy="225.50" r="1.8" fill="#c4242c" fill-opacity="0.10"/>
<circle cx="113.37" cy="220.63" r="1.8" fill="#c4242c" fill-opacity="0.06"/>
</g>
<rect x="28.5" y="66.9" width="78.6" height="81.4" fill="none" stroke="#c1272d" stroke-width="3"/>
<line x1="41.4" y1="131.4" x2="95" y2="84.3" stroke="#c1272d" stroke-width="3.3" stroke-dasharray="2.7 2.1"/>
<line x1="66" y1="106" x2="51" y2="90" stroke="#f4c400" stroke-width="2.6"/>
<path d="M47.1,86.4 L56.5,89.6 L50.5,95.3 Z" fill="#f4c400"/>
<circle cx="68.3" cy="108.6" r="6" fill="#c1272d"/>
<rect x="121.6" y="23.6" width="78.7" height="81" fill="none" stroke="#1a7540" stroke-width="3"/>
<line x1="150" y1="88.6" x2="181" y2="45" stroke="#c1272d" stroke-width="3.3" stroke-dasharray="2.7 2.1"/>
<line x1="161" y1="63" x2="148" y2="54.5" stroke="#f4c400" stroke-width="2.6"/>
<path d="M143.6,51.4 L153.3,52.2 L148.4,59.5 Z" fill="#f4c400"/>
<circle cx="164.3" cy="66.4" r="5.6" fill="#1a7540"/>
<rect x="195.2" y="242.2" width="33.7" height="2.6" fill="#c1272d"/>
<text x="198.20" y="238.00" font-size="11" text-anchor="start" font-weight="bold" font-style="normal" fill="#c1272d" >5 nm</text>
<defs><radialGradient id="blob"><stop offset="0" stop-color="#000" stop-opacity="0.97"/><stop offset="0.33" stop-color="#080808" stop-opacity="0.88"/><stop offset="0.62" stop-color="#202020" stop-opacity="0.4"/><stop offset="0.85" stop-color="#444" stop-opacity="0.08"/><stop offset="1" stop-color="#666" stop-opacity="0"/></radialGradient></defs>
<circle cx="81" cy="294.3" r="10.5" fill="url(#blob)"/>
<circle cx="38" cy="329.6" r="10.5" fill="url(#blob)"/>
<line x1="60.5" y1="257.5" x2="60.5" y2="369.8" stroke="#c4c4c4" stroke-width="1.3" stroke-dasharray="3.4 2.6"/>
<line x1="4.4" y1="314.1" x2="116.7" y2="314.1" stroke="#c4c4c4" stroke-width="1.3" stroke-dasharray="3.4 2.6"/>
<line x1="25.5" y1="343.5" x2="94.2" y2="281.8" stroke="#d4545e" stroke-width="3.2" stroke-dasharray="1.05 0.75"/>
<path d="M42.20,292.90 L49.02,295.12 L43.65,299.92 Z" fill="#707070"/>
<line x1="60.2" y1="313" x2="46.34" y2="297.52" stroke="#707070" stroke-width="2"/>
<polyline points="57.4,308.1 60.2,305.6 64.3,310.4" fill="none" stroke="#000" stroke-width="1.3"/>
<path d="M45.94,338.03 L47.01,333.84 L50.22,337.41 Z" fill="#2b3a96"/>
<path d="M64.46,321.37 L63.39,325.56 L60.18,321.99 Z" fill="#2b3a96"/>
<line x1="48.62" y1="335.62" x2="61.78" y2="323.78" stroke="#2b3a96" stroke-width="2"/>
<line x1="48.28" y1="342.12" x2="42.12" y2="335.28" stroke="#2b3a96" stroke-width="2.8"/>
<line x1="68.28" y1="324.12" x2="62.12" y2="317.28" stroke="#2b3a96" stroke-width="2.8"/>
<text x="59.60" y="343.30" font-size="15" text-anchor="start" font-weight="bold" font-style="italic" fill="#2b3a96" style="font-family:Liberation Serif,serif">q</text>
<path d="M91.2,291 Q101.5,299 97.6,308.5" fill="none" stroke="#c1272d" stroke-width="1.5"/>
<path d="M97.20,311.00 L96.09,306.93 L100.32,308.16 Z" fill="#c1272d"/>
<text x="102.60" y="303.60" font-size="14.5" text-anchor="start" font-weight="bold" font-style="italic" fill="#c1272d" style="font-family:Liberation Serif,serif">θ</text>
<text x="77.50" y="366.80" font-size="14" text-anchor="start" font-weight="bold" font-style="normal" fill="#000" >STFT</text>
<rect x="2.4" y="255.5" width="116.3" height="116.30000000000001" fill="none" stroke="#c1272d" stroke-width="2.8"/>
<circle cx="191.7" cy="293.4" r="10.5" fill="url(#blob)"/>
<circle cx="164.6" cy="327.3" r="10.5" fill="url(#blob)"/>
<line x1="182.2" y1="257.9" x2="182.2" y2="370" stroke="#c4c4c4" stroke-width="1.3" stroke-dasharray="3.4 2.6"/>
<line x1="126.5" y1="313.5" x2="238.6" y2="313.5" stroke="#c4c4c4" stroke-width="1.3" stroke-dasharray="3.4 2.6"/>
<line x1="151.1" y1="351" x2="207.9" y2="273.8" stroke="#d4545e" stroke-width="3.2" stroke-dasharray="1.05 0.75"/>
<path d="M154.50,293.40 L161.64,294.10 L157.43,299.94 Z" fill="#707070"/>
<line x1="180.9" y1="312.4" x2="159.53" y2="297.02" stroke="#707070" stroke-width="2"/>
<polyline points="177.3,307.6 179.9,304.4 184.6,306.6" fill="none" stroke="#000" stroke-width="1.3"/>
<path d="M174.43,335.12 L174.83,330.81 L178.56,333.83 Z" fill="#2b3a96"/>
<path d="M187.57,318.88 L187.17,323.19 L183.44,320.17 Z" fill="#2b3a96"/>
<line x1="176.69" y1="332.32" x2="185.31" y2="321.68" stroke="#2b3a96" stroke-width="2"/>
<line x1="177.38" y1="338.79" x2="170.22" y2="333.01" stroke="#2b3a96" stroke-width="2.8"/>
<line x1="191.78" y1="320.99" x2="184.62" y2="315.21" stroke="#2b3a96" stroke-width="2.8"/>
<text x="182.40" y="340.60" font-size="15" text-anchor="start" font-weight="bold" font-style="italic" fill="#2b3a96" style="font-family:Liberation Serif,serif">q</text>
<path d="M194.2,299.6 Q201.5,302.5 199.6,309" fill="none" stroke="#c1272d" stroke-width="1.5"/>
<path d="M199.50,312.20 L197.73,308.37 L202.10,308.88 Z" fill="#c1272d"/>
<text x="206.00" y="306.50" font-size="14.5" text-anchor="start" font-weight="bold" font-style="italic" fill="#c1272d" style="font-family:Liberation Serif,serif">θ</text>
<text x="199.30" y="367.90" font-size="14" text-anchor="start" font-weight="bold" font-style="normal" fill="#000" >STFT</text>
<rect x="124.5" y="255.9" width="116.1" height="116.1" fill="none" stroke="#1a7540" stroke-width="2.8"/>
<text x="243.60" y="10.50" font-size="14.2" text-anchor="start" font-weight="bold" font-style="normal" fill="#000" >(b)</text>
<rect x="272.4" y="19" width="166.60000000000002" height="160.8" fill="#8f93f3"/>
<clipPath id="clipb"><rect x="272.4" y="19" width="166.60000000000002" height="160.8"/></clipPath><g clip-path="url(#clipb)">
<polygon points="330.9,67.7 339.5,80.1 400.2,128.1 406.7,127.6 398.0,115.2 337.4,67.3" fill="#6a6ef0"/>
<polygon points="301.0,97.9 309.9,109.1 366.0,159.5 371.1,160.9 362.1,149.6 306.1,99.3" fill="#989cf3"/>
<polygon points="329.2,63.8 334.6,70.5 371.6,93.4 375.4,92.3 370.0,85.6 333.1,62.7" fill="#6a6ef0"/>
<polygon points="244.5,92.5 251.1,102.4 295.7,145.6 300.2,146.6 293.5,136.8 248.9,93.5" fill="#b0b4f5"/>
<polygon points="251.8,-0.4 258.9,11.9 308.3,67.0 313.6,68.5 306.5,56.2 257.1,1.0" fill="#4a4cf4"/>
<polygon points="347.0,4.6 354.0,16.0 407.1,54.3 413.5,52.6 406.5,41.3 353.3,2.9" fill="#6a6ef0"/>
<polygon points="295.8,12.6 299.6,19.0 329.2,40.2 332.8,39.1 329.0,32.7 299.4,11.5" fill="#8286f1"/>
<polygon points="341.6,22.9 351.4,32.7 413.3,68.6 418.9,67.8 409.1,58.0 347.3,22.1" fill="#989cf3"/>
<polygon points="368.2,-2.3 371.0,5.1 399.2,24.7 403.5,22.3 400.7,15.0 372.5,-4.7" fill="#8286f1"/>
<polygon points="384.9,36.7 389.3,41.7 418.5,58.7 421.4,57.9 417.0,52.8 387.8,35.9" fill="#b0b4f5"/>
<polygon points="249.5,74.9 256.3,88.1 305.0,148.1 310.5,149.9 303.8,136.6 255.0,76.7" fill="#989cf3"/>
<polygon points="362.8,-6.6 371.7,4.3 432.1,40.6 438.4,38.7 429.5,27.8 369.1,-8.5" fill="#b0b4f5"/>
<polygon points="225.2,18.3 232.8,30.8 285.4,85.9 290.9,87.2 283.3,74.8 230.8,19.6" fill="#6a6ef0"/>
<polygon points="285.9,33.1 289.9,39.3 319.0,62.1 322.3,61.6 318.4,55.3 289.3,32.6" fill="#8286f1"/>
<polygon points="248.6,-17.2 253.4,-6.9 291.9,36.7 296.8,37.3 292.1,26.9 253.5,-16.7" fill="#b0b4f5"/>
<polygon points="391.3,46.9 395.0,54.4 426.7,71.3 431.0,67.9 427.4,60.4 395.6,43.5" fill="#b0b4f5"/>
<polygon points="371.4,-5.3 382.1,5.3 449.8,43.4 456.0,42.2 445.3,31.6 377.6,-6.4" fill="#8286f1"/>
<polygon points="307.3,3.9 311.7,12.3 347.4,43.0 351.9,42.3 347.4,33.9 311.8,3.2" fill="#4a4cf4"/>
<polygon points="404.3,36.8 414.2,45.4 475.1,74.1 480.4,72.6 470.5,64.0 409.6,35.3" fill="#b0b4f5"/>
<polygon points="238.4,20.5 244.7,34.4 294.5,94.5 300.7,95.7 294.5,81.8 244.7,21.7" fill="#989cf3"/>
<polygon points="226.6,8.7 233.6,21.0 283.2,75.6 288.7,76.9 281.7,64.5 232.1,9.9" fill="#8286f1"/>
<polygon points="358.2,67.5 363.4,76.4 404.2,105.8 409.2,104.2 404.1,95.2 363.3,65.8" fill="#b0b4f5"/>
<polygon points="357.2,63.4 367.8,74.1 435.4,111.9 441.6,110.7 430.9,100.0 363.4,62.2" fill="#989cf3"/>
<polygon points="325.5,15.2 331.0,25.1 375.0,57.9 380.5,56.2 375.0,46.3 331.0,13.5" fill="#8286f1"/>
<polygon points="279.4,60.8 286.8,72.5 338.2,122.9 343.6,123.8 336.2,112.1 284.8,61.7" fill="#8286f1"/>
<polygon points="354.6,102.3 360.6,112.0 405.1,148.4 410.2,147.8 404.2,138.1 359.8,101.7" fill="#b0b4f5"/>
<polygon points="397.4,38.3 406.4,48.0 465.5,79.3 471.2,77.4 462.2,67.7 403.1,36.4" fill="#b0b4f5"/>
<polygon points="328.2,66.5 335.2,76.9 386.1,113.0 391.9,111.6 384.9,101.2 334.0,65.1" fill="#8286f1"/>
<polygon points="216.1,-1.1 222.8,9.1 268.8,53.0 273.6,53.8 266.8,43.6 220.8,-0.4" fill="#8286f1"/>
<polygon points="231.5,56.6 234.7,63.0 260.8,87.5 264.1,87.3 260.9,80.9 234.8,56.3" fill="#989cf3"/>
<polygon points="255.8,-13.4 260.2,-4.0 297.9,30.4 302.9,29.6 298.5,20.2 260.8,-14.2" fill="#989cf3"/>
<polygon points="400.7,-8.7 407.3,-2.2 449.6,16.6 453.6,14.7 447.0,8.2 404.7,-10.6" fill="#b0b4f5"/>
<polygon points="298.7,-7.1 301.8,0.3 331.0,24.3 335.2,22.9 332.1,15.5 302.9,-8.5" fill="#989cf3"/>
<polygon points="398.7,76.8 408.9,86.4 472.8,117.7 478.6,116.0 468.4,106.5 404.5,75.1" fill="#989cf3"/>
<polygon points="325.5,44.2 334.3,56.6 394.6,106.8 400.9,106.9 392.1,94.5 331.8,44.3" fill="#989cf3"/>
<polygon points="211.7,-8.5 218.2,1.4 262.4,45.0 266.9,45.9 260.3,36.0 216.2,-7.6" fill="#8286f1"/>
<polygon points="294.1,44.5 297.9,53.9 335.2,82.5 340.6,80.2 336.8,70.8 299.5,42.2" fill="#989cf3"/>
<polygon points="384.5,51.4 396.4,60.8 468.3,93.9 474.3,92.7 462.3,83.3 390.5,50.2" fill="#989cf3"/>
<polygon points="412.2,45.3 420.8,51.6 471.8,73.7 475.9,72.8 467.3,66.5 416.3,44.5" fill="#8286f1"/>
<polygon points="285.8,97.5 287.3,104.7 310.3,129.7 314.5,128.7 312.9,121.5 290.0,96.5" fill="#b0b4f5"/>
<polygon points="379.3,21.4 383.7,29.4 420.0,47.6 424.6,44.1 420.1,36.0 383.9,17.9" fill="#b0b4f5"/>
<polygon points="305.3,61.9 313.5,71.9 365.8,115.4 370.6,116.3 362.3,106.3 310.1,62.8" fill="#8286f1"/>
<polygon points="320.0,26.9 327.1,35.9 375.4,68.1 380.4,67.2 373.3,58.2 325.0,26.0" fill="#989cf3"/>
<polygon points="332.7,-9.6 339.0,-0.2 386.1,27.4 391.6,24.8 385.2,15.4 338.1,-12.2" fill="#6a6ef0"/>
<polygon points="216.4,89.3 221.0,100.5 262.1,144.5 267.8,144.3 263.2,133.1 222.1,89.2" fill="#8286f1"/>
<polygon points="387.6,28.2 398.9,36.5 465.0,67.6 470.3,67.1 459.0,58.9 392.9,27.8" fill="#b0b4f5"/>
<polygon points="231.3,99.7 235.5,109.3 270.0,150.2 274.4,150.9 270.2,141.3 235.7,100.4" fill="#8286f1"/>
<polygon points="244.5,47.3 249.5,57.1 288.5,98.1 293.1,98.6 288.0,88.8 249.1,47.7" fill="#b0b4f5"/>
<polygon points="367.5,-7.6 377.8,2.2 442.8,32.1 448.8,29.8 438.5,20.1 373.5,-9.8" fill="#8286f1"/>
<polygon points="357.4,98.1 365.7,107.6 417.1,149.0 421.7,149.9 413.4,140.4 362.0,99.0" fill="#8286f1"/>
<polygon points="354.0,108.5 358.1,115.4 389.3,139.7 393.1,138.9 389.0,132.0 357.8,107.7" fill="#6a6ef0"/>
<polygon points="332.7,36.1 341.7,43.9 395.3,75.8 399.7,75.9 390.8,68.1 337.2,36.2" fill="#b0b4f5"/>
<polygon points="223.8,-18.4 229.5,-6.0 278.0,41.6 284.4,41.1 278.7,28.7 230.2,-18.9" fill="#b0b4f5"/>
<polygon points="269.1,54.4 277.6,66.6 334.4,118.7 340.1,119.6 331.6,107.5 274.8,55.3" fill="#b0b4f5"/>
<polygon points="238.2,60.7 245.1,73.7 296.9,129.0 302.9,129.9 296.0,116.9 244.2,61.6" fill="#8286f1"/>
<polygon points="325.4,14.3 332.5,22.8 378.2,57.7 382.5,57.9 375.4,49.4 329.8,14.6" fill="#b0b4f5"/>
<polygon points="358.6,3.9 367.6,12.2 421.8,45.9 426.4,46.1 417.4,37.8 363.2,4.1" fill="#8286f1"/>
<polygon points="231.7,57.6 239.2,69.8 292.6,121.4 298.4,122.1 290.9,109.8 237.5,58.3" fill="#989cf3"/>
<polygon points="226.7,91.8 228.8,100.7 258.4,128.2 263.7,126.2 261.6,117.3 232.0,89.8" fill="#8286f1"/>
<polygon points="234.7,110.8 241.4,122.7 287.1,177.8 291.8,179.7 285.1,167.8 239.5,112.7" fill="#8286f1"/>
<polygon points="265.9,29.0 270.3,37.8 305.7,72.5 310.1,72.4 305.8,63.6 270.4,28.8" fill="#b0b4f5"/>
<polygon points="336.3,79.1 345.5,89.9 405.9,131.1 411.7,130.6 402.5,119.9 342.1,78.7" fill="#989cf3"/>
<polygon points="373.7,41.8 378.4,47.1 409.5,62.8 412.7,61.4 408.0,56.0 376.9,40.4" fill="#b0b4f5"/>
<polygon points="310.7,85.0 316.5,94.8 362.2,125.9 367.8,123.8 362.0,113.9 316.3,82.9" fill="#8286f1"/>
<polygon points="314.6,2.5 319.3,9.3 353.6,31.4 357.4,30.1 352.8,23.2 318.5,1.2" fill="#989cf3"/>
<polygon points="252.0,22.8 255.6,30.2 285.7,57.8 289.6,57.4 285.9,50.0 255.8,22.4" fill="#b0b4f5"/>
<polygon points="213.0,102.9 219.7,116.4 272.2,172.9 278.5,173.5 271.8,160.0 219.4,103.6" fill="#8286f1"/>
<polygon points="409.6,3.6 415.7,11.2 457.9,31.8 462.3,29.3 456.2,21.7 414.1,1.1" fill="#8286f1"/>
<polygon points="263.2,-8.3 266.4,-1.3 294.8,22.4 298.7,21.3 295.5,14.3 267.1,-9.3" fill="#4a4cf4"/>
<polygon points="271.7,41.5 278.6,52.9 330.4,96.2 336.4,95.6 329.4,84.2 277.7,40.9" fill="#b0b4f5"/>
<polygon points="352.2,101.3 357.2,111.4 400.2,143.2 405.9,141.0 400.9,130.9 358.0,99.2" fill="#b0b4f5"/>
<polygon points="368.1,37.0 375.8,46.4 429.1,71.5 434.7,68.4 426.9,59.0 373.6,33.9" fill="#989cf3"/>
<polygon points="235.0,-12.7 238.4,-1.5 276.2,40.1 282.2,39.4 278.9,28.2 241.1,-13.5" fill="#b0b4f5"/>
<polygon points="228.3,42.4 232.5,50.5 266.6,80.3 270.9,79.7 266.7,71.6 232.6,41.8" fill="#989cf3"/>
<polygon points="221.9,119.7 227.1,129.6 267.0,170.3 271.9,170.5 266.8,160.6 226.8,119.9" fill="#989cf3"/>
<polygon points="268.2,-12.9 276.5,-0.7 334.5,48.9 340.7,49.0 332.4,36.8 274.4,-12.8" fill="#6a6ef0"/>
<polygon points="216.8,54.8 222.2,65.2 263.7,108.5 268.6,108.9 263.2,98.6 221.7,55.3" fill="#8286f1"/>
<polygon points="388.6,19.4 399.6,27.6 464.6,58.4 469.8,57.9 458.8,49.6 393.9,18.8" fill="#b0b4f5"/>
<polygon points="238.4,92.7 242.2,101.2 272.5,138.4 276.3,139.2 272.5,130.7 242.2,93.5" fill="#b0b4f5"/>
<polygon points="237.4,45.3 241.6,53.0 272.4,85.4 275.9,85.9 271.7,78.3 240.9,45.9" fill="#8286f1"/>
<polygon points="263.3,28.2 266.2,35.5 294.1,61.2 298.1,60.4 295.2,53.1 267.3,27.4" fill="#989cf3"/>
<polygon points="321.7,92.5 329.2,103.7 382.3,147.3 388.1,147.1 380.6,135.9 327.4,92.2" fill="#989cf3"/>
<polygon points="343.0,98.3 351.0,108.2 403.2,148.6 408.2,148.9 400.2,139.0 348.0,98.6" fill="#8286f1"/>
<polygon points="244.5,-5.9 248.3,2.8 283.0,32.4 287.9,31.0 284.1,22.3 249.4,-7.2" fill="#b0b4f5"/>
<polygon points="378.1,61.1 383.1,66.2 415.1,81.9 418.2,80.7 413.2,75.6 381.2,59.9" fill="#989cf3"/>
<polygon points="406.2,59.7 414.1,66.6 463.0,88.0 467.3,86.4 459.4,79.5 410.5,58.1" fill="#989cf3"/>
<polygon points="342.5,94.9 345.6,102.3 374.9,126.1 379.1,124.7 376.0,117.3 346.6,93.5" fill="#b0b4f5"/>
<polygon points="314.5,112.6 317.7,119.9 345.6,146.8 349.5,146.3 346.3,139.1 318.4,112.1" fill="#6a6ef0"/>
<polygon points="293.4,30.8 301.8,43.1 359.5,94.1 365.6,94.5 357.2,82.2 299.5,31.2" fill="#4a4cf4"/>
<polygon points="245.4,105.7 246.2,114.1 270.6,140.3 275.9,138.4 275.1,130.0 250.7,103.8" fill="#b0b4f5"/>
<polygon points="318.3,103.6 322.8,110.9 356.7,138.0 360.6,137.5 356.1,130.1 322.2,103.0" fill="#b0b4f5"/>
<polygon points="289.5,87.0 294.9,95.1 333.1,126.9 337.3,126.8 331.9,118.6 293.7,86.8" fill="#4a4cf4"/>
<polygon points="394.0,64.5 398.4,72.2 433.7,90.9 438.1,87.9 433.7,80.3 398.4,61.6" fill="#989cf3"/>
<polygon points="241.6,-16.5 249.5,-4.5 302.0,49.6 307.2,51.1 299.2,39.1 246.8,-14.9" fill="#8286f1"/>
<polygon points="345.4,85.4 354.3,95.7 411.7,136.8 417.2,136.8 408.3,126.4 350.9,85.3" fill="#b0b4f5"/>
<polygon points="335.9,10.6 342.4,17.2 383.0,43.1 386.6,42.9 380.1,36.3 339.6,10.5" fill="#989cf3"/>
<polygon points="299.2,66.5 308.1,79.2 370.5,128.0 377.2,127.4 368.4,114.6 306.0,65.8" fill="#6a6ef0"/>
<polygon points="353.3,51.9 358.6,60.6 399.2,90.3 404.0,89.0 398.7,80.3 358.1,50.6" fill="#8286f1"/>
<polygon points="273.2,-4.7 278.4,4.0 318.5,33.8 323.3,32.5 318.1,23.8 278.0,-5.9" fill="#8286f1"/>
<polygon points="272.1,105.3 279.9,115.4 329.2,160.3 333.8,161.5 326.1,151.4 276.7,106.5" fill="#8286f1"/>
<polygon points="398.8,83.4 408.6,93.8 471.8,129.1 477.9,127.5 468.2,117.1 404.9,81.8" fill="#8286f1"/>
<polygon points="307.0,92.1 316.7,103.8 380.2,150.5 386.4,150.3 376.7,138.6 313.2,91.9" fill="#989cf3"/>
<polygon points="284.3,-3.0 292.0,9.9 349.5,58.4 356.3,57.6 348.7,44.8 291.1,-3.7" fill="#8286f1"/>
<polygon points="233.7,72.9 239.7,84.3 284.6,133.6 289.8,134.5 283.8,123.1 238.9,73.8" fill="#6a6ef0"/>
<polygon points="268.0,8.8 276.7,20.2 332.2,70.9 337.4,72.2 328.7,60.8 273.2,10.1" fill="#8286f1"/>
<polygon points="252.8,-18.7 259.4,-5.9 312.3,43.0 318.9,42.5 312.3,29.8 259.4,-19.1" fill="#8286f1"/>
<polygon points="306.2,54.3 310.6,62.5 345.0,95.1 349.2,95.1 344.7,86.8 310.3,54.2" fill="#8286f1"/>
<polygon points="249.2,-16.1 255.3,-6.0 301.6,31.5 307.0,30.8 300.8,20.7 254.5,-16.8" fill="#b0b4f5"/>
<polygon points="329.5,60.6 338.2,70.0 391.6,111.0 396.2,111.9 387.6,102.4 334.2,61.4" fill="#989cf3"/>
<polygon points="403.5,20.5 411.6,30.5 467.4,60.6 473.3,58.1 465.2,48.1 409.4,18.0" fill="#b0b4f5"/>
<polygon points="272.4,150.4 284.3,148.1 296.2,137.2 308.1,135.1 320.0,140.1 331.9,136.8 343.8,133.9 355.7,128.1 367.6,128.7 379.5,126.4 391.4,123.8 403.3,117.5 415.2,117.8 427.1,115.1 439.0,116.0 439.0,179.8 272.4,179.8" fill="#f9b6b6"/>
<polygon points="400.0,158.5 407.3,158.0 441.2,143.1 442.3,140.0 435.0,140.5 401.1,155.4" fill="#ffd0d0"/>
<polygon points="332.7,141.0 345.7,141.9 409.3,124.7 412.2,119.5 399.1,118.6 335.5,135.8" fill="#f28484"/>
<polygon points="392.5,198.7 407.2,196.6 481.9,174.0 485.9,170.3 471.3,172.4 396.5,195.1" fill="#ffd0d0"/>
<polygon points="246.6,171.1 259.1,171.2 318.6,150.6 321.0,145.5 308.5,145.4 249.0,166.0" fill="#ffd0d0"/>
<polygon points="323.3,164.1 334.5,162.5 388.2,139.2 390.3,135.0 379.0,136.5 325.4,159.8" fill="#fbbcbc"/>
<polygon points="409.3,200.7 422.4,199.3 483.7,171.9 485.9,166.5 472.8,167.9 411.4,195.3" fill="#f7a2a2"/>
<polygon points="297.3,162.5 311.8,161.7 384.6,141.6 388.4,137.4 373.9,138.2 301.0,158.3" fill="#f7a2a2"/>
<polygon points="364.7,181.5 373.2,182.0 413.7,169.2 415.3,165.6 406.8,165.1 366.4,177.9" fill="#c8caf4"/>
<polygon points="213.9,176.3 225.6,174.0 283.3,150.8 286.0,147.3 274.4,149.6 216.7,172.8" fill="#ffd0d0"/>
<polygon points="314.4,196.0 324.3,197.7 369.2,183.2 370.6,177.8 360.7,176.2 315.8,190.7" fill="#ffd0d0"/>
<polygon points="387.0,123.2 395.8,122.9 440.1,111.0 442.4,108.3 433.5,108.5 389.2,120.4" fill="#ffd0d0"/>
<polygon points="300.2,171.3 308.7,172.7 343.6,156.9 343.8,151.6 335.3,150.2 300.4,166.0" fill="#f7a2a2"/>
<polygon points="219.0,164.0 231.3,164.8 293.1,151.0 296.2,146.8 283.8,146.0 222.1,159.8" fill="#ffd0d0"/>
<polygon points="363.1,161.5 377.6,161.0 449.0,138.8 452.3,133.7 437.8,134.3 366.4,156.5" fill="#fbbcbc"/>
<polygon points="201.1,192.8 215.5,192.3 284.5,167.7 287.4,162.1 273.0,162.6 204.0,187.2" fill="#c8caf4"/>
<polygon points="434.4,174.0 441.7,176.6 475.3,168.6 476.5,164.0 469.2,161.4 435.6,169.4" fill="#f7a2a2"/>
<polygon points="430.2,136.0 438.6,136.5 477.3,122.8 478.6,118.8 470.2,118.2 431.5,132.0" fill="#f7a2a2"/>
<polygon points="247.7,156.7 254.1,157.7 283.1,147.7 283.9,144.2 277.4,143.2 248.5,153.1" fill="#c8caf4"/>
<polygon points="234.5,153.9 249.5,153.9 325.0,134.7 328.8,129.9 313.8,129.9 238.3,149.1" fill="#ffd0d0"/>
<polygon points="417.6,192.5 425.2,192.6 458.4,177.4 459.1,173.5 451.6,173.5 418.4,188.7" fill="#ffd0d0"/>
<polygon points="288.6,188.9 299.9,189.3 349.8,168.1 351.1,162.4 339.9,162.0 289.9,183.2" fill="#fbbcbc"/>
<polygon points="235.9,181.7 245.2,181.9 288.7,166.0 290.3,161.8 281.0,161.7 237.5,177.6" fill="#fbbcbc"/>
<polygon points="258.9,179.7 270.1,179.6 321.9,159.1 323.6,154.0 312.4,154.1 260.6,174.6" fill="#ffd0d0"/>
<polygon points="362.4,128.2 372.1,129.1 419.4,116.5 421.5,112.4 411.8,111.4 364.4,124.1" fill="#fbbcbc"/>
<polygon points="224.4,177.6 233.7,176.6 276.6,157.1 278.1,153.1 268.8,154.1 225.8,173.7" fill="#ffd0d0"/>
<polygon points="308.3,174.5 317.5,176.0 362.8,165.6 364.8,161.5 355.5,160.1 310.3,170.5" fill="#fbbcbc"/>
<polygon points="424.0,194.9 431.9,196.8 465.1,184.0 465.5,178.9 457.6,177.0 424.4,189.8" fill="#ffd0d0"/>
<polygon points="353.9,171.3 368.3,169.2 439.7,143.3 443.1,139.0 428.8,141.1 357.4,167.0" fill="#fbbcbc"/>
<polygon points="235.3,169.9 246.2,169.0 300.1,150.9 302.6,147.3 291.7,148.2 237.8,166.3" fill="#f7a2a2"/>
<polygon points="213.2,177.4 227.7,174.2 299.7,143.5 303.1,139.0 288.5,142.2 216.6,173.0" fill="#ffd0d0"/>
<polygon points="363.2,145.7 374.9,146.0 433.1,131.2 436.0,127.3 424.3,127.0 366.1,141.8" fill="#fbbcbc"/>
<polygon points="252.2,197.1 266.2,194.9 336.5,170.2 340.1,166.3 326.1,168.6 255.7,193.2" fill="#ffd0d0"/>
<polygon points="382.9,165.0 389.6,166.6 415.9,154.4 415.7,149.7 409.0,148.1 382.7,160.3" fill="#f7a2a2"/>
<polygon points="210.4,185.5 223.1,184.1 282.8,158.2 285.0,153.1 272.3,154.6 212.6,180.5" fill="#fbbcbc"/>
<polygon points="408.6,135.4 420.4,132.6 477.9,106.8 480.6,103.1 468.9,105.8 411.3,131.7" fill="#ffd0d0"/>
<polygon points="361.3,185.9 367.9,188.0 397.1,179.8 397.9,175.6 391.4,173.5 362.1,181.7" fill="#c8caf4"/>
<polygon points="386.9,141.9 393.1,143.9 418.0,134.3 418.1,129.8 411.9,127.8 387.0,137.4" fill="#f7a2a2"/>
<polygon points="316.4,148.4 325.2,149.9 362.9,134.5 363.5,129.2 354.6,127.8 316.9,143.1" fill="#ffd0d0"/>
<polygon points="280.2,151.2 292.1,151.1 348.5,131.1 350.7,126.3 338.9,126.4 282.5,146.3" fill="#ffd0d0"/>
<polygon points="311.7,181.1 323.3,181.9 377.4,163.1 379.2,157.6 367.6,156.8 313.6,175.6" fill="#ffd0d0"/>
<polygon points="311.8,168.4 323.0,169.8 377.7,156.9 380.2,152.3 369.1,150.9 314.3,163.9" fill="#f7a2a2"/>
<polygon points="396.9,146.0 405.1,145.7 442.2,129.5 443.3,125.8 435.1,126.0 398.1,142.2" fill="#c8caf4"/>
<polygon points="355.3,169.0 362.3,171.7 394.3,164.6 395.4,160.0 388.5,157.3 356.4,164.5" fill="#f7a2a2"/>
<polygon points="358.5,183.2 365.2,186.1 393.1,177.3 393.4,172.2 386.8,169.4 358.8,178.1" fill="#f7a2a2"/>
<polygon points="369.9,146.2 378.4,145.6 420.1,130.7 421.9,127.6 413.3,128.3 371.7,143.2" fill="#ffd0d0"/>
<polygon points="303.6,191.5 312.0,190.5 350.9,173.0 352.4,169.6 344.0,170.6 305.0,188.1" fill="#a4a8f2"/>
<polygon points="405.2,162.5 414.7,161.3 459.4,141.7 461.2,138.0 451.7,139.3 407.0,158.9" fill="#ffd0d0"/>
<polygon points="256.6,157.6 271.6,157.6 344.1,133.5 347.2,127.6 332.1,127.6 259.6,151.7" fill="#f7a2a2"/>
<polygon points="387.1,131.2 394.1,134.0 423.7,124.4 424.1,119.2 417.0,116.5 387.4,126.1" fill="#fbbcbc"/>
<polygon points="267.8,172.0 277.4,172.6 325.8,162.0 328.2,158.8 318.6,158.2 270.3,168.8" fill="#f7a2a2"/>
<polygon points="295.0,174.1 304.0,176.4 346.9,166.5 348.6,161.7 339.6,159.3 296.7,169.3" fill="#f7a2a2"/>
<polygon points="221.0,195.3 231.4,196.6 278.9,180.3 280.4,174.9 270.0,173.6 222.4,189.9" fill="#fbbcbc"/>
<polygon points="270.6,186.9 281.1,187.1 329.2,168.0 330.7,163.0 320.1,162.7 272.0,181.8" fill="#fbbcbc"/>
<polygon points="263.6,178.9 270.7,181.9 301.7,173.3 302.3,168.1 295.2,165.1 264.3,173.7" fill="#ffd0d0"/>
<polygon points="215.3,176.1 229.0,174.5 298.2,153.4 301.8,149.7 288.1,151.3 218.9,172.4" fill="#fbbcbc"/>
<polygon points="347.5,147.2 354.1,149.1 381.7,138.8 382.0,134.4 375.5,132.5 347.8,142.8" fill="#ffd0d0"/>
<polygon points="280.4,175.8 291.1,177.2 341.6,162.1 343.5,156.9 332.8,155.4 282.3,170.6" fill="#c8caf4"/>
<polygon points="283.2,193.5 292.9,192.8 338.0,173.4 339.5,169.3 329.8,170.0 284.8,189.4" fill="#a4a8f2"/>
<polygon points="364.9,176.3 370.9,179.4 396.7,172.3 397.0,167.3 391.0,164.2 365.2,171.3" fill="#f7a2a2"/>
<polygon points="344.3,159.0 356.4,159.0 417.2,143.8 420.3,139.9 408.2,139.9 347.4,155.2" fill="#fbbcbc"/>
<polygon points="371.9,167.0 379.2,168.7 413.2,159.8 414.4,155.9 407.2,154.3 373.2,163.2" fill="#ffd0d0"/>
<polygon points="374.8,190.6 385.6,189.3 435.8,166.5 437.6,162.0 426.8,163.3 376.5,186.1" fill="#ffd0d0"/>
<polygon points="409.0,193.0 422.8,191.6 488.5,165.2 491.2,159.9 477.4,161.3 411.7,187.8" fill="#f7a2a2"/>
<polygon points="253.7,169.1 265.7,167.5 321.7,141.6 323.6,136.7 311.6,138.2 255.7,164.1" fill="#f28484"/>
<polygon points="305.2,156.2 314.6,157.4 359.5,145.1 361.3,140.7 351.9,139.5 307.1,151.9" fill="#f28484"/>
<polygon points="346.2,141.2 359.5,138.5 426.0,112.1 429.2,108.2 415.9,110.9 349.4,137.3" fill="#ffd0d0"/>
<polygon points="375.4,134.9 385.7,135.9 433.0,119.6 434.6,114.5 424.3,113.5 377.0,129.9" fill="#f7a2a2"/>
<polygon points="208.3,188.3 220.3,189.6 278.1,174.1 280.6,168.9 268.6,167.6 210.8,183.1" fill="#fbbcbc"/>
<polygon points="381.5,178.8 396.1,177.3 463.1,146.4 465.3,140.2 450.7,141.6 383.7,172.5" fill="#ffd0d0"/>
<polygon points="294.3,147.1 300.7,147.5 330.2,136.7 331.1,133.5 324.7,133.1 295.2,144.0" fill="#ffd0d0"/>
<polygon points="283.2,181.5 291.1,183.7 324.4,171.6 324.9,166.4 317.1,164.3 283.7,176.4" fill="#c8caf4"/>
<polygon points="257.5,169.3 266.7,168.3 312.5,152.4 314.7,149.4 305.4,150.4 259.7,166.3" fill="#f7a2a2"/>
<polygon points="348.8,190.1 362.2,190.9 426.9,172.2 429.7,166.7 416.3,165.9 351.6,184.6" fill="#c8caf4"/>
<polygon points="285.0,181.8 299.4,181.8 370.1,160.9 373.4,155.7 359.0,155.8 288.3,176.7" fill="#f7a2a2"/>
<polygon points="269.4,160.4 282.3,159.3 347.3,140.5 350.6,136.9 337.7,138.0 272.7,156.8" fill="#f7a2a2"/>
<polygon points="290.8,147.5 299.8,147.3 343.7,133.8 345.7,130.6 336.8,130.8 292.8,144.4" fill="#f7a2a2"/>
<polygon points="255.9,168.7 261.9,170.0 286.7,159.1 286.8,155.2 280.7,154.0 256.0,164.8" fill="#a4a8f2"/>
<polygon points="289.9,192.7 296.7,191.9 328.4,177.8 329.5,175.1 322.8,175.9 291.1,190.0" fill="#ffd0d0"/>
<polygon points="372.3,159.1 382.7,161.2 431.8,148.4 433.7,143.2 423.3,141.1 374.3,153.9" fill="#fbbcbc"/>
<polygon points="234.4,176.2 247.8,174.3 314.4,151.0 317.7,147.1 304.3,148.9 237.7,172.2" fill="#f7a2a2"/>
<polygon points="218.5,181.6 230.7,180.6 288.2,157.2 290.4,152.4 278.2,153.3 220.7,176.8" fill="#ffd0d0"/>
<polygon points="285.9,160.3 299.0,160.0 365.2,143.7 368.7,139.8 355.6,140.1 289.4,156.4" fill="#fbbcbc"/>
<polygon points="306.3,146.1 320.9,145.6 393.2,124.0 396.7,119.0 382.0,119.4 309.7,141.1" fill="#ffd0d0"/>
<polygon points="316.9,165.6 325.3,165.5 363.5,149.3 364.6,145.3 356.2,145.3 318.0,161.5" fill="#ffd0d0"/>
<polygon points="267.4,164.0 276.6,165.0 315.7,147.7 316.3,142.4 307.1,141.4 267.9,158.7" fill="#f7a2a2"/>
<polygon points="288.3,196.3 297.0,195.2 338.1,177.1 339.6,173.6 330.9,174.6 289.8,192.8" fill="#fbbcbc"/>
<polygon points="223.4,195.6 235.7,194.5 294.8,172.1 297.3,167.6 285.1,168.8 225.9,191.2" fill="#c8caf4"/>
<polygon points="247.5,169.6 261.1,168.0 326.6,142.1 329.4,137.3 315.9,138.9 250.3,164.8" fill="#f7a2a2"/>
<polygon points="385.8,168.7 398.0,168.4 456.3,148.2 458.7,143.4 446.5,143.6 388.3,163.9" fill="#f7a2a2"/>
<polygon points="241.5,168.9 250.0,169.9 291.8,159.9 293.7,156.3 285.2,155.2 243.4,165.3" fill="#fbbcbc"/>
<polygon points="259.7,167.2 265.5,168.0 293.3,160.3 294.4,157.6 288.6,156.8 260.8,164.5" fill="#f28484"/>
<polygon points="228.7,154.1 237.3,155.5 277.3,143.4 278.7,138.9 270.1,137.5 230.1,149.6" fill="#ffd0d0"/>
<polygon points="241.7,166.8 252.7,168.3 304.4,153.5 306.4,148.3 295.5,146.8 243.8,161.7" fill="#c8caf4"/>
<polygon points="396.8,135.8 405.8,136.7 447.1,122.6 448.5,118.1 439.5,117.2 398.2,131.3" fill="#ffd0d0"/>
<polygon points="272.5,186.7 287.2,186.6 362.1,169.6 366.1,165.6 351.4,165.7 276.5,182.6" fill="#c8caf4"/>
<polygon points="262.4,129.2 265.5,134.8 289.5,156.3 292.4,156.0 289.4,150.4 265.4,128.9" fill="#aeb2f5"/>
<polygon points="390.3,99.4 395.5,104.5 428.5,120.0 431.7,118.7 426.5,113.5 393.4,98.1" fill="#9296f2"/>
<polygon points="285.6,106.3 289.6,112.5 318.2,136.8 321.3,136.8 317.3,130.6 288.7,106.3" fill="#9296f2"/>
<polygon points="325.5,123.5 328.4,128.5 351.0,145.3 353.7,144.6 350.9,139.6 328.3,122.7" fill="#9296f2"/>
<polygon points="396.2,93.1 399.6,97.8 423.8,110.4 426.5,108.8 423.2,104.1 399.0,91.5" fill="#aeb2f5"/>
<polygon points="402.1,107.8 407.0,111.7 436.4,124.7 438.9,124.0 434.1,120.0 404.7,107.0" fill="#aeb2f5"/>
<polygon points="407.3,99.7 410.3,103.1 430.1,112.0 432.1,110.9 429.1,107.5 409.3,98.6" fill="#c4c6f4"/>
<polygon points="394.6,110.7 398.0,114.9 421.1,128.5 423.5,127.7 420.2,123.4 397.1,109.8" fill="#aeb2f5"/>
<polygon points="275.1,132.6 276.7,136.7 292.5,149.4 294.8,148.5 293.3,144.3 277.5,131.6" fill="#c4c6f4"/>
<polygon points="359.4,110.6 363.4,116.2 392.0,136.1 395.2,135.3 391.2,129.7 362.5,109.9" fill="#9296f2"/>
<polygon points="250.6,123.4 252.9,127.5 270.7,142.3 273.0,141.8 270.8,137.7 252.9,122.9" fill="#aeb2f5"/>
<polygon points="393.7,97.5 398.8,103.7 433.1,123.9 436.6,122.8 431.6,116.6 397.3,96.3" fill="#aeb2f5"/>
<polygon points="289.0,117.4 293.5,124.1 324.8,150.6 328.2,150.6 323.7,144.0 292.4,117.4" fill="#aeb2f5"/>
<polygon points="337.6,108.1 341.3,112.4 366.1,125.5 368.6,124.5 364.9,120.2 340.1,107.1" fill="#aeb2f5"/>
<polygon points="340.0,108.4 342.0,113.9 362.8,128.6 366.1,126.7 364.2,121.1 343.3,106.4" fill="#aeb2f5"/>
<polygon points="350.0,109.9 355.5,116.6 392.6,138.7 396.4,137.6 390.9,131.0 353.8,108.9" fill="#9296f2"/>
<polygon points="275.9,125.5 277.2,130.6 294.7,144.8 297.8,143.3 296.4,138.3 279.0,124.0" fill="#aeb2f5"/>
<polygon points="324.1,120.6 328.2,126.4 357.9,144.8 361.3,143.5 357.2,137.7 327.5,119.3" fill="#9296f2"/>
<polygon points="284.0,117.2 288.3,123.0 317.5,146.0 320.5,146.0 316.2,140.2 287.0,117.1" fill="#9296f2"/>
<polygon points="278.8,117.3 279.8,121.8 294.9,135.8 297.6,134.7 296.5,130.2 281.5,116.2" fill="#aeb2f5"/>
<polygon points="278.5,108.5 284.1,114.8 319.7,141.1 323.0,141.3 317.3,135.0 281.7,108.7" fill="#9296f2"/>
<polygon points="344.9,101.9 347.7,107.4 371.6,120.9 374.8,118.8 372.0,113.3 348.1,99.8" fill="#9296f2"/>
<polygon points="315.5,113.3 320.0,119.6 352.4,138.9 356.0,137.5 351.5,131.3 319.1,111.9" fill="#9296f2"/>
<polygon points="372.8,119.9 374.8,124.2 393.0,135.1 395.4,133.5 393.4,129.2 375.3,118.3" fill="#9296f2"/>
<polygon points="350.5,104.0 354.7,110.2 385.4,129.7 388.9,128.4 384.8,122.3 354.1,102.8" fill="#c4c6f4"/>
<polygon points="272.4,51.2 278.2,54.4 284.1,70.5 287.4,91.4 282.4,94.6 277.4,80.1 272.4,76.9" fill="#3c3ef6"/>
<rect x="381.9" y="137.3" width="2.1" height="3.4" fill="#2e2ef2"/>
<rect x="365.0" y="164.6" width="1.9" height="3.0" fill="#2e2ef2"/>
<rect x="438.7" y="130.4" width="3.1" height="5.1" fill="#2e2ef2"/>
<rect x="411.6" y="167.5" width="2.4" height="4.0" fill="#2e2ef2"/>
<rect x="420.9" y="141.7" width="2.0" height="3.2" fill="#2e2ef2"/>
<rect x="428.9" y="130.6" width="2.9" height="4.7" fill="#f03a3a"/>
<rect x="417.6" y="172.4" width="2.2" height="3.5" fill="#f03a3a"/>
<rect x="397.4" y="173.8" width="3.2" height="5.2" fill="#2e2ef2"/>
<rect x="436.4" y="127.2" width="2.7" height="4.3" fill="#2e2ef2"/>
<rect x="402.1" y="122.5" width="2.1" height="3.4" fill="#2e2ef2"/>
<rect x="407.8" y="170.9" width="2.8" height="4.5" fill="#8a8ef0"/>
<rect x="428.2" y="179.0" width="2.8" height="4.5" fill="#2e2ef2"/>
<rect x="428.6" y="176.5" width="3.3" height="5.3" fill="#2e2ef2"/>
<rect x="417.5" y="106.2" width="3.1" height="5.1" fill="#2e2ef2"/>
<rect x="428.1" y="178.8" width="1.5" height="2.4" fill="#f03a3a"/>
<rect x="386.1" y="158.2" width="3.2" height="5.2" fill="#2e2ef2"/>
<rect x="417.9" y="117.4" width="3.2" height="5.2" fill="#8a8ef0"/>
<rect x="401.9" y="179.7" width="2.0" height="3.2" fill="#2e2ef2"/>
<rect x="367.2" y="167.5" width="2.0" height="3.2" fill="#8a8ef0"/>
<rect x="431.3" y="121.8" width="2.3" height="3.8" fill="#2e2ef2"/>
<rect x="412.3" y="142.1" width="2.5" height="4.1" fill="#2e2ef2"/>
<rect x="434.5" y="133.8" width="2.2" height="3.6" fill="#2e2ef2"/>
<rect x="437.3" y="135.1" width="2.5" height="4.1" fill="#2e2ef2"/>
<rect x="395.2" y="140.6" width="1.3" height="2.2" fill="#2e2ef2"/>
<rect x="411.1" y="130.0" width="2.8" height="4.5" fill="#2e2ef2"/>
<rect x="417.0" y="155.4" width="1.3" height="2.2" fill="#2e2ef2"/>
<rect x="414.7" y="176.4" width="1.8" height="3.0" fill="#2e2ef2"/>
<rect x="408.5" y="116.4" width="2.1" height="3.4" fill="#2e2ef2"/>
<rect x="391.7" y="142.1" width="2.0" height="3.2" fill="#2e2ef2"/>
<rect x="406.7" y="155.1" width="2.0" height="3.2" fill="#2e2ef2"/>
<rect x="424.3" y="108.8" width="1.7" height="2.8" fill="#2e2ef2"/>
<rect x="426.5" y="127.4" width="3.2" height="5.1" fill="#2e2ef2"/>
<rect x="389.3" y="147.2" width="3.2" height="5.3" fill="#2e2ef2"/>
<rect x="424.5" y="164.7" width="1.7" height="2.8" fill="#2e2ef2"/>
<rect x="424.5" y="146.4" width="3.0" height="5.0" fill="#2e2ef2"/>
<rect x="423.5" y="111.8" width="2.0" height="3.3" fill="#2e2ef2"/>
<rect x="395.5" y="124.7" width="3.3" height="5.4" fill="#2e2ef2"/>
<rect x="364.4" y="174.5" width="3.2" height="5.2" fill="#8a8ef0"/>
<rect x="396.6" y="175.2" width="3.3" height="5.4" fill="#2e2ef2"/>
<rect x="419.9" y="164.6" width="2.7" height="4.5" fill="#2e2ef2"/>
<rect x="408.2" y="113.3" width="3.1" height="5.0" fill="#2e2ef2"/>
<rect x="431.8" y="151.2" width="3.3" height="5.4" fill="#f03a3a"/>
<rect x="431.5" y="140.3" width="1.3" height="2.2" fill="#2e2ef2"/>
<rect x="413.7" y="135.5" width="2.2" height="3.6" fill="#8a8ef0"/>
<rect x="409.9" y="118.4" width="1.8" height="3.0" fill="#f03a3a"/>
<rect x="399.8" y="159.5" width="2.1" height="3.4" fill="#2e2ef2"/>
<rect x="404.1" y="162.7" width="1.7" height="2.7" fill="#f03a3a"/>
<rect x="433.1" y="161.7" width="3.1" height="5.0" fill="#2e2ef2"/>
<rect x="411.2" y="167.0" width="1.4" height="2.3" fill="#2e2ef2"/>
<rect x="384.2" y="135.7" width="2.2" height="3.6" fill="#2e2ef2"/>
<rect x="437.1" y="166.2" width="1.5" height="2.4" fill="#2e2ef2"/>
<rect x="390.4" y="146.9" width="2.6" height="4.2" fill="#2e2ef2"/>
<rect x="373.3" y="138.3" width="2.9" height="4.7" fill="#2e2ef2"/>
<rect x="392.0" y="142.9" width="3.0" height="4.9" fill="#2e2ef2"/>
<rect x="424.1" y="144.6" width="2.2" height="3.6" fill="#2e2ef2"/>
<rect x="401.2" y="152.1" width="2.2" height="3.6" fill="#2e2ef2"/>
<rect x="404.2" y="151.4" width="1.5" height="2.4" fill="#2e2ef2"/>
<rect x="396.0" y="168.6" width="3.3" height="5.4" fill="#2e2ef2"/>
<rect x="431.3" y="160.3" width="1.9" height="3.1" fill="#2e2ef2"/>
<rect x="373.3" y="162.4" width="2.7" height="4.5" fill="#f03a3a"/>
<rect x="423.4" y="148.8" width="2.9" height="4.7" fill="#2e2ef2"/>
<rect x="371.8" y="141.4" width="1.3" height="2.1" fill="#2e2ef2"/>
<rect x="430.0" y="103.2" width="1.4" height="2.2" fill="#f03a3a"/>
<rect x="373.1" y="165.2" width="2.8" height="4.5" fill="#f03a3a"/>
<rect x="435.4" y="140.5" width="3.0" height="4.9" fill="#2e2ef2"/>
<rect x="421.6" y="134.2" width="2.8" height="4.7" fill="#2e2ef2"/>
<rect x="420.2" y="173.7" width="1.4" height="2.3" fill="#2e2ef2"/>
<rect x="406.3" y="163.8" width="1.8" height="3.0" fill="#2e2ef2"/>
<rect x="382.8" y="144.0" width="2.9" height="4.8" fill="#2e2ef2"/>
<rect x="391.6" y="123.5" width="2.1" height="3.4" fill="#2e2ef2"/>
<rect x="370.3" y="133.2" width="3.4" height="5.6" fill="#2e2ef2"/>
<rect x="415.8" y="157.1" width="2.8" height="4.5" fill="#2e2ef2"/>
<rect x="400.3" y="146.5" width="3.2" height="5.3" fill="#2e2ef2"/>
<rect x="371.2" y="156.3" width="3.3" height="5.4" fill="#2e2ef2"/>
<rect x="397.2" y="153.6" width="1.7" height="2.8" fill="#2e2ef2"/>
<rect x="379.0" y="141.2" width="2.0" height="3.2" fill="#2e2ef2"/>
<rect x="415.8" y="175.5" width="1.9" height="3.2" fill="#2e2ef2"/>
<rect x="395.0" y="166.1" width="2.6" height="4.2" fill="#2e2ef2"/>
<polygon points="405.7,99.4 415.7,96.2 422.3,104.2 415.7,110.7 405.7,107.4" fill="#f38a8a"/>
<polygon points="427.3,99.4 439.0,93.0 439.0,112.3 430.7,112.3" fill="#f38a8a"/>
<polygon points="375.7,115.5 389.0,109.0 394.0,118.7 382.4,125.1" fill="#f38a8a"/>
<polygon points="415.7,168.5 420.7,150.9 425.7,139.6 429.8,141.2 426.5,155.7 421.5,168.5" fill="#f53030"/>
<polygon points="272.4,141.2 279.1,139.6 280.7,155.7 272.4,157.3" fill="#f48080"/>
</g>
<rect x="272.4" y="19" width="166.60000000000002" height="160.8" fill="none" stroke="#000" stroke-width="1.6"/>
<line x1="268.9" y1="19.00" x2="272.4" y2="19.00" stroke="#000" stroke-width="1.2"/>
<text x="267.90" y="22.50" font-size="10" text-anchor="end" font-weight="normal" font-style="normal" fill="#111" >0</text>
<line x1="268.9" y1="41.33" x2="272.4" y2="41.33" stroke="#000" stroke-width="1.2"/>
<text x="267.90" y="44.83" font-size="10" text-anchor="end" font-weight="normal" font-style="normal" fill="#111" >5</text>
<line x1="268.9" y1="63.66" x2="272.4" y2="63.66" stroke="#000" stroke-width="1.2"/>
<text x="267.90" y="67.16" font-size="10" text-anchor="end" font-weight="normal" font-style="normal" fill="#111" >10</text>
<line x1="268.9" y1="85.99" x2="272.4" y2="85.99" stroke="#000" stroke-width="1.2"/>
<text x="267.90" y="89.49" font-size="10" text-anchor="end" font-weight="normal" font-style="normal" fill="#111" >15</text>
<line x1="268.9" y1="108.32" x2="272.4" y2="108.32" stroke="#000" stroke-width="1.2"/>
<text x="267.90" y="111.82" font-size="10" text-anchor="end" font-weight="normal" font-style="normal" fill="#111" >20</text>
<line x1="268.9" y1="130.65" x2="272.4" y2="130.65" stroke="#000" stroke-width="1.2"/>
<text x="267.90" y="134.15" font-size="10" text-anchor="end" font-weight="normal" font-style="normal" fill="#111" >25</text>
<line x1="268.9" y1="152.98" x2="272.4" y2="152.98" stroke="#000" stroke-width="1.2"/>
<text x="267.90" y="156.48" font-size="10" text-anchor="end" font-weight="normal" font-style="normal" fill="#111" >30</text>
<line x1="268.9" y1="175.31" x2="272.4" y2="175.31" stroke="#000" stroke-width="1.2"/>
<text x="267.90" y="178.81" font-size="10" text-anchor="end" font-weight="normal" font-style="normal" fill="#111" >35</text>
<line x1="272.60" y1="179.8" x2="272.60" y2="183.3" stroke="#000" stroke-width="1.2"/>
<text x="272.60" y="190.80" font-size="10" text-anchor="middle" font-weight="normal" font-style="normal" fill="#111" >0</text>
<line x1="318.63" y1="179.8" x2="318.63" y2="183.3" stroke="#000" stroke-width="1.2"/>
<text x="318.63" y="190.80" font-size="10" text-anchor="middle" font-weight="normal" font-style="normal" fill="#111" >10</text>
<line x1="364.66" y1="179.8" x2="364.66" y2="183.3" stroke="#000" stroke-width="1.2"/>
<text x="364.66" y="190.80" font-size="10" text-anchor="middle" font-weight="normal" font-style="normal" fill="#111" >20</text>
<line x1="410.69" y1="179.8" x2="410.69" y2="183.3" stroke="#000" stroke-width="1.2"/>
<text x="410.69" y="190.80" font-size="10" text-anchor="middle" font-weight="normal" font-style="normal" fill="#111" >30</text>
<text x="355.50" y="199.50" font-size="11.5" text-anchor="middle" font-weight="normal" font-style="normal" fill="#111" >x (nm)</text>
<text transform="translate(252.6,99.5) rotate(-90)" x="0" y="0" font-size="11.5" text-anchor="middle" fill="#111">y (nm)</text>
<defs><linearGradient id="gb" x1="0" y1="1" x2="0" y2="0"><stop offset="0" stop-color="#0000ff"/><stop offset="0.5" stop-color="#ffffff"/><stop offset="1" stop-color="#ff0000"/></linearGradient></defs>
<rect x="443.4" y="19.4" width="7" height="115.3" fill="url(#gb)"/>
<line x1="450.4" y1="134.70" x2="452.5" y2="134.70" stroke="#000" stroke-width="1"/>
<text x="452.30" y="137.90" font-size="8.6" text-anchor="start" font-weight="normal" font-style="normal" fill="#111" >0</text>
<line x1="450.4" y1="96.27" x2="452.5" y2="96.27" stroke="#000" stroke-width="1"/>
<text x="452.30" y="99.47" font-size="8.6" text-anchor="start" font-weight="normal" font-style="normal" fill="#111" >60</text>
<line x1="450.4" y1="57.83" x2="452.5" y2="57.83" stroke="#000" stroke-width="1"/>
<text x="452.30" y="61.03" font-size="8.6" text-anchor="start" font-weight="normal" font-style="normal" fill="#111" >120</text>
<line x1="450.4" y1="19.40" x2="452.5" y2="19.40" stroke="#000" stroke-width="1"/>
<text x="452.30" y="22.60" font-size="8.6" text-anchor="start" font-weight="normal" font-style="normal" fill="#111" >180</text>
<text x="413.50" y="9.80" font-size="11.5" text-anchor="start" font-weight="normal" font-style="normal" fill="#111" ><tspan font-style="italic">θ</tspan> (°)</text>
<text x="469.60" y="10.50" font-size="14.2" text-anchor="start" font-weight="bold" font-style="normal" fill="#000" >(c)</text>
<rect x="497.8" y="19.2" width="158.8" height="159.8" fill="#0a3cf0"/>
<clipPath id="clipc"><rect x="497.8" y="19.2" width="158.8" height="159.8"/></clipPath><g clip-path="url(#clipc)">
<rect x="497.8" y="19.2" width="158.8" height="159.8" fill="#0a30f0"/>
<polygon points="553.6,68.8 561.7,80.8 619.5,126.5 625.8,125.9 617.7,113.9 559.9,68.3" fill="#1658f6"/>
<polygon points="525.1,98.9 533.5,109.6 586.9,157.7 591.8,158.9 583.4,148.1 530.0,100.1" fill="#1658f6"/>
<polygon points="552.0,64.3 557.1,70.8 592.3,92.6 596.0,91.5 590.9,85.0 555.7,63.2" fill="#0820dc"/>
<polygon points="471.2,93.4 477.5,102.8 520.0,144.1 524.3,144.9 518.0,135.5 475.5,94.2" fill="#0414c0"/>
<polygon points="478.2,1.3 484.8,13.1 531.9,65.6 537.0,67.0 530.4,55.2 483.3,2.6" fill="#0a30f0"/>
<polygon points="568.9,5.9 575.5,16.9 626.1,53.5 632.2,51.6 625.7,40.6 575.1,4.1" fill="#0a30f0"/>
<polygon points="520.1,13.4 523.7,19.6 551.8,39.8 555.3,38.7 551.8,32.5 523.6,12.2" fill="#1658f6"/>
<polygon points="563.8,24.0 573.0,33.5 632.0,67.7 637.4,66.7 628.2,57.3 569.2,23.1" fill="#0a30f0"/>
<polygon points="589.1,-1.4 591.6,5.7 618.5,24.4 622.7,22.0 620.2,14.8 593.3,-3.9" fill="#1658f6"/>
<polygon points="605.0,37.2 609.2,42.1 637.0,58.2 639.8,57.4 635.7,52.5 607.8,36.3" fill="#1c80f8"/>
<polygon points="476.0,76.3 482.3,89.0 528.8,146.1 534.1,147.7 527.8,135.1 481.3,77.9" fill="#0a30f0"/>
<polygon points="584.0,-5.3 592.3,5.2 650.0,39.8 656.0,37.9 647.6,27.3 590.0,-7.3" fill="#1c80f8"/>
<polygon points="452.8,19.9 460.0,31.9 510.1,84.4 515.4,85.6 508.3,73.6 458.2,21.1" fill="#0a30f0"/>
<polygon points="510.7,33.8 514.4,39.8 542.2,61.5 545.4,60.9 541.7,54.9 514.0,33.2" fill="#1c80f8"/>
<polygon points="475.1,-15.7 479.5,-5.7 516.3,35.8 521.1,36.2 516.7,26.3 479.9,-15.3" fill="#0820dc"/>
<polygon points="611.2,47.3 614.5,54.7 644.8,70.7 649.0,67.4 645.6,60.0 615.4,44.0" fill="#0a30f0"/>
<polygon points="592.2,-4.0 602.3,6.3 666.8,42.6 672.8,41.3 662.7,31.0 598.2,-5.2" fill="#1658f6"/>
<polygon points="531.1,5.0 535.2,13.1 569.2,42.4 573.5,41.6 569.4,33.5 535.4,4.2" fill="#0414c0"/>
<polygon points="623.5,37.6 632.9,45.9 690.9,73.3 696.1,71.8 686.7,63.4 628.6,36.1" fill="#0a30f0"/>
<polygon points="465.4,22.2 471.3,35.5 518.8,92.8 524.8,93.9 519.0,80.6 471.5,23.3" fill="#0a30f0"/>
<polygon points="454.2,10.3 460.7,22.2 508.0,74.2 513.3,75.3 506.8,63.5 459.4,11.4" fill="#0820dc"/>
<polygon points="579.6,68.1 584.4,76.8 623.3,104.8 628.2,103.1 623.4,94.4 584.5,66.4" fill="#0a30f0"/>
<polygon points="578.6,64.3 588.7,74.6 653.1,110.7 659.1,109.4 649.0,99.1 584.6,63.0" fill="#1658f6"/>
<polygon points="548.4,16.3 553.5,25.8 595.5,57.1 600.9,55.3 595.7,45.8 553.8,14.5" fill="#0820dc"/>
<polygon points="504.5,62.0 511.5,73.3 560.5,121.3 565.7,122.0 558.7,110.8 509.7,62.8" fill="#0414c0"/>
<polygon points="576.2,102.9 581.8,112.2 624.2,146.9 629.2,146.3 623.6,136.9 581.2,102.2" fill="#0414c0"/>
<polygon points="616.9,39.1 625.4,48.6 681.8,78.4 687.3,76.5 678.8,67.0 622.5,37.2" fill="#0820dc"/>
<polygon points="551.0,67.3 557.5,77.4 606.1,111.8 611.7,110.3 605.2,100.2 556.6,65.8" fill="#0820dc"/>
<polygon points="444.1,0.3 450.5,10.1 494.3,52.0 498.9,52.7 492.6,42.9 448.7,1.0" fill="#0820dc"/>
<polygon points="458.8,57.2 461.8,63.3 486.7,86.7 489.9,86.4 486.9,80.3 462.0,56.9" fill="#1658f6"/>
<polygon points="482.0,-12.2 486.0,-3.1 522.0,29.7 526.9,28.9 522.8,19.8 486.9,-13.0" fill="#1658f6"/>
<polygon points="620.1,-7.9 626.3,-1.5 666.7,16.4 670.6,14.5 664.3,8.1 624.0,-9.8" fill="#0414c0"/>
<polygon points="522.9,-6.1 525.7,1.1 553.5,23.9 557.6,22.4 554.8,15.2 527.0,-7.6" fill="#0820dc"/>
<polygon points="618.2,77.5 627.8,86.7 688.8,116.6 694.4,114.8 684.7,105.6 623.7,75.7" fill="#1658f6"/>
<polygon points="548.4,45.5 556.7,57.5 614.1,105.3 620.3,105.3 612.0,93.3 554.5,45.4" fill="#0414c0"/>
<polygon points="439.9,-7.0 446.1,2.5 488.2,44.0 492.5,44.9 486.3,35.3 444.3,-6.2" fill="#0414c0"/>
<polygon points="518.5,45.3 522.0,54.4 557.5,81.6 562.8,79.3 559.3,70.1 523.8,42.9" fill="#1c80f8"/>
<polygon points="604.6,52.2 616.0,61.4 684.4,92.9 690.2,91.6 678.9,82.5 610.4,50.9" fill="#0a30f0"/>
<polygon points="631.0,45.9 639.2,52.0 687.8,73.0 691.8,72.1 683.6,66.0 635.0,45.0" fill="#0a30f0"/>
<polygon points="510.6,97.8 511.9,104.8 533.8,128.6 537.9,127.6 536.5,120.7 514.6,96.8" fill="#0414c0"/>
<polygon points="599.7,22.0 603.8,29.9 638.4,47.2 642.8,43.7 638.7,35.8 604.1,18.5" fill="#0820dc"/>
<polygon points="529.1,63.0 536.9,72.6 586.8,114.0 591.4,114.8 583.6,105.2 533.8,63.7" fill="#0a30f0"/>
<polygon points="543.2,27.9 549.9,36.6 595.9,67.2 600.7,66.3 594.0,57.6 548.0,26.9" fill="#0820dc"/>
<polygon points="555.3,-8.5 561.2,0.7 606.1,26.9 611.4,24.3 605.4,15.1 560.5,-11.1" fill="#0a30f0"/>
<polygon points="444.4,90.2 448.7,101.0 487.9,142.9 493.4,142.6 489.2,131.8 450.0,89.9" fill="#0a30f0"/>
<polygon points="607.6,29.2 618.3,37.1 681.3,66.8 686.4,66.2 675.7,58.3 612.7,28.6" fill="#0414c0"/>
<polygon points="458.6,100.4 462.6,109.6 495.4,148.7 499.7,149.2 495.7,140.0 462.9,101.0" fill="#0414c0"/>
<polygon points="471.2,48.4 475.9,57.8 513.0,96.9 517.5,97.2 512.8,87.8 475.7,48.7" fill="#0820dc"/>
<polygon points="588.5,-6.4 598.2,3.0 660.1,31.5 665.9,29.2 656.2,19.7 594.2,-8.8" fill="#1658f6"/>
<polygon points="578.8,98.9 586.7,108.0 635.7,147.4 640.1,148.2 632.3,139.1 583.2,99.7" fill="#1658f6"/>
<polygon points="575.6,108.7 579.4,115.4 609.2,138.6 612.8,137.7 609.1,131.0 579.3,107.9" fill="#1658f6"/>
<polygon points="555.3,37.0 563.8,44.5 614.9,74.9 619.2,74.9 610.7,67.4 559.6,37.0" fill="#0a30f0"/>
<polygon points="451.4,-16.8 456.7,-4.8 503.0,40.5 509.2,39.9 503.9,28.0 457.7,-17.4" fill="#0a30f0"/>
<polygon points="494.7,55.7 502.6,67.4 556.8,117.1 562.3,117.9 554.3,106.2 500.2,56.5" fill="#0820dc"/>
<polygon points="465.2,62.1 471.7,74.5 521.0,127.3 526.9,128.0 520.4,115.5 471.0,62.8" fill="#1658f6"/>
<polygon points="548.3,15.4 555.0,23.6 598.6,56.8 602.7,57.0 596.1,48.8 552.5,15.6" fill="#0a30f0"/>
<polygon points="580.0,5.0 588.5,13.0 640.1,45.2 644.6,45.3 636.1,37.3 584.4,5.1" fill="#1658f6"/>
<polygon points="459.0,58.9 466.1,70.6 517.0,119.8 522.6,120.3 515.5,108.6 464.7,59.4" fill="#0820dc"/>
<polygon points="454.3,92.3 456.1,100.9 484.3,127.1 489.5,125.0 487.6,116.4 459.5,90.2" fill="#1658f6"/>
<polygon points="461.9,111.8 468.2,123.2 511.7,175.8 516.3,177.5 510.0,166.1 466.5,113.5" fill="#0a30f0"/>
<polygon points="491.6,30.0 495.7,38.5 529.4,71.6 533.8,71.4 529.7,62.9 496.0,29.8" fill="#0414c0"/>
<polygon points="558.7,80.0 567.4,90.4 624.9,129.6 630.6,129.1 621.9,118.7 564.4,79.4" fill="#0820dc"/>
<polygon points="594.4,42.2 598.8,47.4 628.5,62.3 631.5,60.9 627.1,55.7 597.4,40.8" fill="#0414c0"/>
<polygon points="534.3,85.6 539.7,95.1 583.3,124.7 588.8,122.5 583.3,113.0 539.7,83.4" fill="#0a30f0"/>
<polygon points="538.1,3.4 542.4,10.0 575.1,31.0 578.9,29.7 574.5,23.0 541.8,2.0" fill="#0414c0"/>
<polygon points="478.3,23.7 481.7,30.8 510.4,57.1 514.2,56.6 510.8,49.5 482.1,23.2" fill="#0a30f0"/>
<polygon points="441.2,104.0 447.5,117.0 497.4,170.8 503.6,171.3 497.3,158.4 447.4,104.5" fill="#0a30f0"/>
<polygon points="628.6,4.4 634.3,11.8 674.5,31.4 678.8,28.9 673.1,21.5 632.9,1.9" fill="#1658f6"/>
<polygon points="489.0,-7.3 492.0,-0.5 519.1,22.0 522.9,20.9 519.9,14.2 492.8,-8.4" fill="#0a30f0"/>
<polygon points="497.1,42.7 503.6,53.7 553.0,94.9 558.8,94.2 552.3,83.2 502.9,41.9" fill="#1658f6"/>
<polygon points="573.9,101.8 578.5,111.6 619.5,141.9 625.1,139.6 620.4,129.9 579.5,99.6" fill="#1658f6"/>
<polygon points="589.0,37.8 596.3,46.9 647.1,70.8 652.5,67.7 645.1,58.5 594.4,34.6" fill="#0a30f0"/>
<polygon points="462.1,-11.2 465.2,-0.4 501.2,39.3 507.2,38.4 504.1,27.6 468.1,-12.1" fill="#1658f6"/>
<polygon points="455.8,43.3 459.7,51.1 492.1,79.4 496.3,78.7 492.4,70.9 460.0,42.5" fill="#1658f6"/>
<polygon points="449.7,120.3 454.5,129.8 492.6,168.6 497.3,168.8 492.5,159.2 454.4,120.4" fill="#1658f6"/>
<polygon points="493.8,-11.3 501.6,0.6 556.9,47.8 562.9,47.8 555.1,36.0 499.8,-11.3" fill="#1658f6"/>
<polygon points="444.8,55.9 449.9,65.9 489.4,107.1 494.2,107.5 489.1,97.5 449.6,56.3" fill="#0820dc"/>
<polygon points="608.6,20.3 619.0,28.3 680.9,57.7 685.9,57.1 675.5,49.1 613.6,19.7" fill="#0a30f0"/>
<polygon points="465.4,93.4 468.9,101.6 497.8,137.0 501.5,137.7 497.9,129.5 469.1,94.1" fill="#1658f6"/>
<polygon points="464.4,46.2 468.3,53.5 497.7,84.5 501.1,84.9 497.2,77.6 467.9,46.6" fill="#1658f6"/>
<polygon points="489.1,29.0 491.8,36.1 518.4,60.6 522.3,59.7 519.6,52.6 493.0,28.1" fill="#0820dc"/>
<polygon points="544.8,93.3 551.8,104.1 602.5,145.7 608.1,145.3 601.0,134.6 550.4,93.0" fill="#0820dc"/>
<polygon points="565.1,99.1 572.6,108.5 622.4,147.1 627.2,147.3 619.7,137.8 569.9,99.2" fill="#0a30f0"/>
<polygon points="471.2,-4.8 474.7,3.6 507.8,31.8 512.6,30.4 509.1,22.0 476.0,-6.2" fill="#1658f6"/>
<polygon points="598.6,61.5 603.2,66.4 633.8,81.4 636.7,80.2 632.1,75.2 601.5,60.2" fill="#0414c0"/>
<polygon points="625.3,60.2 632.8,66.9 679.4,87.3 683.6,85.6 676.1,78.9 629.5,58.6" fill="#1658f6"/>
<polygon points="564.6,95.3 567.5,102.4 595.4,125.1 599.5,123.6 596.6,116.5 568.6,93.8" fill="#0820dc"/>
<polygon points="537.9,112.9 540.9,119.9 567.5,145.6 571.3,145.0 568.4,138.0 541.7,112.4" fill="#0a30f0"/>
<polygon points="517.8,32.2 525.7,44.1 580.7,92.7 586.6,92.9 578.7,81.1 523.7,32.5" fill="#0820dc"/>
<polygon points="472.1,106.0 472.7,114.2 495.9,139.2 501.1,137.2 500.5,129.1 477.3,104.1" fill="#0820dc"/>
<polygon points="541.5,104.0 545.8,111.1 578.1,136.9 581.9,136.3 577.6,129.2 545.4,103.3" fill="#0820dc"/>
<polygon points="514.1,87.6 519.2,95.4 555.6,125.7 559.7,125.5 554.6,117.7 518.2,87.3" fill="#0414c0"/>
<polygon points="613.7,64.9 617.8,72.4 651.5,90.2 655.8,87.2 651.6,79.8 618.0,61.9" fill="#1658f6"/>
<polygon points="468.5,-14.7 475.9,-3.2 525.9,48.4 530.9,49.7 523.5,38.2 473.5,-13.3" fill="#0a30f0"/>
<polygon points="567.4,86.2 575.8,96.2 630.5,135.4 635.8,135.2 627.4,125.2 572.7,86.1" fill="#0a30f0"/>
<polygon points="558.3,11.5 564.5,17.9 603.1,42.6 606.7,42.3 600.5,36.0 561.9,11.3" fill="#0a30f0"/>
<polygon points="523.4,67.6 531.7,79.9 591.2,126.4 597.7,125.6 589.4,113.3 529.9,66.9" fill="#0820dc"/>
<polygon points="574.9,52.7 579.9,61.1 618.5,89.4 623.2,88.0 618.3,79.5 579.6,51.3" fill="#0a30f0"/>
<polygon points="498.6,-3.6 503.4,4.8 541.6,33.2 546.3,31.9 541.5,23.5 503.3,-4.9" fill="#0820dc"/>
<polygon points="497.6,106.1 504.9,115.8 551.9,158.6 556.3,159.7 549.0,150.0 502.0,107.1" fill="#0820dc"/>
<polygon points="618.3,84.1 627.5,94.2 687.8,127.9 693.7,126.2 684.5,116.0 624.2,82.4" fill="#1658f6"/>
<polygon points="530.8,93.0 539.9,104.3 600.4,148.8 606.4,148.5 597.3,137.2 536.8,92.8" fill="#1658f6"/>
<polygon points="509.2,-1.4 516.3,11.0 571.2,57.2 577.8,56.4 570.7,43.9 515.8,-2.3" fill="#0a30f0"/>
<polygon points="460.9,74.0 466.6,85.0 509.4,132.0 514.4,132.8 508.7,121.8 466.0,74.8" fill="#1658f6"/>
<polygon points="493.6,10.4 501.8,21.3 554.8,69.6 559.8,70.8 551.6,59.8 498.6,11.5" fill="#0820dc"/>
<polygon points="479.1,-17.0 485.3,-4.7 535.7,41.9 542.1,41.3 535.9,29.1 485.5,-17.6" fill="#0a30f0"/>
<polygon points="530.0,55.1 534.1,63.0 566.9,94.1 571.0,93.9 566.8,86.0 534.0,54.9" fill="#1c80f8"/>
<polygon points="475.6,-14.7 481.4,-5.0 525.5,30.8 530.8,30.0 525.0,20.2 480.9,-15.5" fill="#1658f6"/>
<polygon points="552.3,61.6 560.5,70.6 611.3,109.7 615.9,110.4 607.6,101.4 556.8,62.3" fill="#0414c0"/>
<polygon points="622.8,21.5 630.4,31.2 683.6,59.9 689.3,57.3 681.7,47.6 628.5,18.9" fill="#0820dc"/>
<polygon points="619.4,157.5 626.5,157.1 658.7,142.9 659.8,139.8 652.7,140.2 620.5,154.4" fill="#1658f6"/>
<polygon points="555.3,140.0 567.7,141.1 628.4,124.7 631.1,119.5 618.6,118.5 557.9,134.9" fill="#0820dc"/>
<polygon points="612.3,197.2 626.3,195.3 697.5,173.7 701.3,170.2 687.3,172.0 616.1,193.7" fill="#1658f6"/>
<polygon points="473.2,169.9 485.2,170.0 541.9,150.5 544.1,145.4 532.1,145.2 475.4,164.8" fill="#0a30f0"/>
<polygon points="546.3,162.8 557.1,161.4 608.2,139.2 610.2,135.0 599.4,136.4 548.3,158.6" fill="#0a30f0"/>
<polygon points="628.2,199.1 640.8,197.9 699.3,171.8 701.3,166.5 688.7,167.7 630.3,193.8" fill="#1658f6"/>
<polygon points="521.5,161.3 535.3,160.7 604.8,141.5 608.4,137.4 594.5,138.0 525.0,157.2" fill="#0a30f0"/>
<polygon points="585.8,180.4 593.9,180.9 632.5,168.7 634.0,165.2 625.9,164.7 587.3,176.8" fill="#0a30f0"/>
<polygon points="442.1,174.9 453.2,172.8 508.2,150.7 510.8,147.3 499.7,149.4 444.7,171.5" fill="#1658f6"/>
<polygon points="537.9,194.8 547.3,196.6 590.1,182.7 591.4,177.4 581.9,175.6 539.1,189.5" fill="#0a30f0"/>
<polygon points="607.0,122.4 615.5,122.3 657.7,110.9 659.8,108.2 651.4,108.4 609.1,119.7" fill="#0a30f0"/>
<polygon points="524.3,170.2 532.5,171.7 565.7,156.6 565.9,151.4 557.7,149.9 524.4,164.9" fill="#0a30f0"/>
<polygon points="446.9,163.0 458.6,163.8 517.5,150.7 520.5,146.5 508.7,145.6 449.8,158.8" fill="#0a30f0"/>
<polygon points="584.2,160.3 598.1,159.9 666.1,138.7 669.3,133.8 655.4,134.1 587.3,155.3" fill="#1658f6"/>
<polygon points="429.8,191.3 443.6,191.0 509.4,167.5 512.1,162.0 498.3,162.4 432.5,185.8" fill="#0a30f0"/>
<polygon points="652.3,173.1 659.2,175.7 691.3,168.1 692.3,163.5 685.3,160.9 653.3,168.5" fill="#1c80f8"/>
<polygon points="648.2,135.1 656.2,135.8 693.2,122.7 694.4,118.7 686.3,118.1 649.4,131.1" fill="#0820dc"/>
<polygon points="474.3,155.8 480.4,156.9 508.0,147.4 508.7,143.9 502.6,142.8 475.0,152.3" fill="#0414c0"/>
<polygon points="461.6,152.7 476.0,152.9 548.0,134.6 551.6,129.9 537.2,129.8 465.2,148.0" fill="#1658f6"/>
<polygon points="636.2,191.3 643.5,191.5 675.1,177.0 675.8,173.2 668.5,173.0 636.9,187.4" fill="#0820dc"/>
<polygon points="513.3,187.5 524.0,188.1 571.7,167.8 572.8,162.2 562.0,161.7 514.4,181.9" fill="#1658f6"/>
<polygon points="463.0,180.5 472.0,180.8 513.4,165.6 514.9,161.5 505.9,161.3 464.5,176.5" fill="#1c80f8"/>
<polygon points="484.9,178.3 495.7,178.4 545.0,158.9 546.6,153.9 535.9,153.8 486.5,173.4" fill="#0a30f0"/>
<polygon points="583.5,127.4 592.9,128.4 638.0,116.4 639.9,112.3 630.6,111.3 585.5,123.4" fill="#0820dc"/>
<polygon points="452.0,176.3 460.9,175.5 501.9,156.8 503.2,153.0 494.3,153.8 453.4,172.4" fill="#0a30f0"/>
<polygon points="532.0,173.5 540.9,175.0 584.0,165.1 585.9,161.1 577.0,159.6 533.9,169.5" fill="#0414c0"/>
<polygon points="642.3,193.7 649.9,195.7 681.5,183.5 681.8,178.5 674.3,176.4 642.7,188.6" fill="#0a30f0"/>
<polygon points="575.5,169.9 589.2,168.0 657.3,143.3 660.6,139.1 646.8,141.0 578.8,165.7" fill="#0820dc"/>
<polygon points="462.4,168.7 472.9,167.9 524.2,150.7 526.6,147.2 516.2,148.0 464.8,165.2" fill="#1658f6"/>
<polygon points="441.3,175.9 455.3,172.9 523.8,143.6 527.1,139.2 513.1,142.2 444.5,171.5" fill="#0820dc"/>
<polygon points="584.4,144.8 595.5,145.1 651.0,131.1 653.7,127.2 642.5,126.8 587.1,140.9" fill="#1658f6"/>
<polygon points="478.5,195.6 491.9,193.5 558.9,170.1 562.3,166.2 548.9,168.3 481.9,191.7" fill="#1658f6"/>
<polygon points="603.1,163.9 609.6,165.7 634.6,154.0 634.4,149.4 627.9,147.7 602.9,159.3" fill="#0414c0"/>
<polygon points="438.7,184.0 450.8,182.8 507.7,158.1 509.8,153.1 497.7,154.4 440.8,179.1" fill="#1658f6"/>
<polygon points="627.6,134.2 638.9,131.6 693.8,107.0 696.3,103.4 685.0,106.0 630.2,130.6" fill="#0a30f0"/>
<polygon points="582.6,184.8 588.8,187.0 616.7,179.2 617.4,175.1 611.2,172.9 583.3,180.7" fill="#1658f6"/>
<polygon points="606.9,141.1 612.9,143.2 636.7,134.0 636.7,129.6 630.7,127.5 606.9,136.6" fill="#0414c0"/>
<polygon points="539.7,147.4 548.2,149.0 584.1,134.3 584.6,129.1 576.1,127.6 540.2,142.2" fill="#1658f6"/>
<polygon points="505.3,150.1 516.6,150.1 570.4,131.1 572.4,126.3 561.1,126.3 507.4,145.3" fill="#1658f6"/>
<polygon points="535.3,179.8 546.4,180.7 597.9,162.8 599.6,157.4 588.5,156.5 537.0,174.4" fill="#1658f6"/>
<polygon points="535.4,167.4 546.0,168.8 598.2,156.5 600.6,152.0 589.9,150.5 537.7,162.9" fill="#0820dc"/>
<polygon points="616.5,145.0 624.3,144.9 659.7,129.4 660.7,125.7 652.9,125.9 617.5,141.3" fill="#1658f6"/>
<polygon points="576.9,168.1 583.5,170.8 614.1,164.0 615.1,159.5 608.4,156.8 577.9,163.6" fill="#1658f6"/>
<polygon points="579.9,182.2 586.3,185.1 612.9,176.7 613.2,171.7 606.8,168.8 580.1,177.1" fill="#0820dc"/>
<polygon points="590.7,145.3 598.9,144.7 638.6,130.5 640.3,127.5 632.1,128.1 592.4,142.3" fill="#0820dc"/>
<polygon points="527.6,190.2 535.6,189.4 572.7,172.7 574.0,169.3 566.0,170.2 528.9,186.9" fill="#0820dc"/>
<polygon points="624.4,161.3 633.5,160.3 676.1,141.6 677.7,138.0 668.7,139.1 626.0,157.8" fill="#0820dc"/>
<polygon points="482.7,156.4 497.1,156.5 566.2,133.5 569.1,127.7 554.7,127.6 485.6,150.5" fill="#1658f6"/>
<polygon points="607.1,130.5 613.9,133.3 642.1,124.1 642.4,119.0 635.6,116.2 607.4,125.4" fill="#0a30f0"/>
<polygon points="493.4,171.0 502.6,171.6 548.7,161.5 551.0,158.4 541.8,157.8 495.8,167.8" fill="#0414c0"/>
<polygon points="519.3,173.1 527.9,175.4 568.8,166.0 570.4,161.2 561.8,158.8 520.9,168.3" fill="#1658f6"/>
<polygon points="448.8,194.0 458.7,195.4 504.1,179.8 505.4,174.5 495.5,173.1 450.1,188.7" fill="#0a30f0"/>
<polygon points="496.1,185.5 506.2,186.0 552.0,167.7 553.3,162.8 543.2,162.4 497.4,180.6" fill="#1658f6"/>
<polygon points="489.4,177.8 496.3,180.9 525.8,172.7 526.3,167.6 519.5,164.5 490.0,172.7" fill="#1658f6"/>
<polygon points="443.3,174.8 456.4,173.4 522.4,153.3 525.8,149.7 512.7,151.1 446.7,171.2" fill="#1658f6"/>
<polygon points="569.4,146.4 575.7,148.3 602.1,138.5 602.3,134.2 596.0,132.2 569.7,142.0" fill="#0820dc"/>
<polygon points="505.4,174.6 515.7,176.2 563.8,161.8 565.6,156.6 555.3,155.1 507.2,169.5" fill="#0a30f0"/>
<polygon points="508.1,192.1 517.4,191.5 560.4,173.1 561.8,169.0 552.5,169.6 509.5,188.1" fill="#1658f6"/>
<polygon points="585.9,175.3 591.8,178.5 616.3,171.7 616.6,166.8 610.8,163.6 586.2,170.4" fill="#0414c0"/>
<polygon points="566.4,158.0 577.9,158.1 635.9,143.5 638.8,139.8 627.2,139.6 569.3,154.2" fill="#0a30f0"/>
<polygon points="592.7,166.1 599.6,167.8 632.0,159.3 633.2,155.5 626.3,153.8 593.8,162.3" fill="#0820dc"/>
<polygon points="595.4,189.1 605.7,188.1 653.6,166.3 655.2,161.9 644.9,163.0 597.0,184.7" fill="#1658f6"/>
<polygon points="628.0,191.4 641.2,190.3 703.9,165.1 706.4,159.9 693.2,161.1 630.5,186.3" fill="#0820dc"/>
<polygon points="480.0,167.7 491.5,166.3 544.8,141.6 546.6,136.8 535.1,138.1 481.8,162.8" fill="#0a30f0"/>
<polygon points="529.1,155.2 538.1,156.6 580.8,144.7 582.5,140.5 573.5,139.2 530.8,151.0" fill="#0a30f0"/>
<polygon points="568.1,139.9 580.9,137.5 644.2,112.4 647.3,108.6 634.5,111.0 571.2,136.1" fill="#1658f6"/>
<polygon points="596.0,134.0 605.9,135.1 650.9,119.5 652.4,114.5 642.5,113.5 597.5,129.0" fill="#0a30f0"/>
<polygon points="436.7,187.1 448.2,188.5 503.3,173.7 505.6,168.6 494.2,167.2 439.0,182.0" fill="#0820dc"/>
<polygon points="601.8,177.2 615.8,176.0 679.7,146.6 681.7,140.4 667.7,141.6 603.8,171.0" fill="#1658f6"/>
<polygon points="518.7,146.2 524.8,146.7 552.9,136.4 553.8,133.3 547.6,132.8 519.5,143.1" fill="#0a30f0"/>
<polygon points="508.1,180.4 515.6,182.6 547.5,171.1 547.9,166.0 540.3,163.8 508.5,175.3" fill="#0820dc"/>
<polygon points="483.6,168.2 492.4,167.3 536.1,152.1 538.1,149.2 529.3,150.1 485.6,165.3" fill="#0820dc"/>
<polygon points="570.7,188.7 583.5,189.7 645.1,171.8 647.7,166.5 634.9,165.6 573.3,183.4" fill="#0820dc"/>
<polygon points="509.8,180.5 523.6,180.6 591.0,160.7 594.1,155.6 580.3,155.5 512.9,175.4" fill="#1658f6"/>
<polygon points="494.9,159.2 507.2,158.3 569.2,140.4 572.4,136.8 560.0,137.8 498.1,155.7" fill="#0414c0"/>
<polygon points="515.3,146.6 523.9,146.5 565.8,133.6 567.7,130.5 559.1,130.6 517.3,143.5" fill="#1658f6"/>
<polygon points="482.1,167.7 487.9,169.0 511.4,158.7 511.5,154.8 505.7,153.5 482.1,163.8" fill="#0414c0"/>
<polygon points="514.5,191.5 521.0,190.8 551.2,177.4 552.2,174.7 545.8,175.4 515.6,188.8" fill="#0820dc"/>
<polygon points="593.1,158.1 603.0,160.3 649.8,148.1 651.6,142.9 641.6,140.8 594.8,152.9" fill="#0a30f0"/>
<polygon points="461.6,174.8 474.4,173.1 537.8,150.9 540.9,147.1 528.2,148.7 464.7,170.9" fill="#0820dc"/>
<polygon points="446.4,180.2 458.1,179.4 512.9,157.1 515.0,152.3 503.3,153.1 448.5,175.4" fill="#0820dc"/>
<polygon points="510.7,159.2 523.2,159.0 586.3,143.5 589.6,139.7 577.0,139.8 513.9,155.4" fill="#1658f6"/>
<polygon points="530.1,144.9 544.1,144.7 613.0,124.0 616.2,119.1 602.2,119.4 533.3,140.0" fill="#0a30f0"/>
<polygon points="540.2,164.4 548.3,164.5 584.7,149.1 585.7,145.1 577.6,145.0 541.2,160.5" fill="#0820dc"/>
<polygon points="493.0,162.9 501.9,164.0 539.2,147.5 539.6,142.3 530.8,141.2 493.5,157.6" fill="#1658f6"/>
<polygon points="513.0,194.9 521.3,194.0 560.5,176.7 561.9,173.3 553.5,174.2 514.4,191.5" fill="#0a30f0"/>
<polygon points="451.1,194.2 462.8,193.2 519.2,171.9 521.6,167.5 509.8,168.4 453.5,189.8" fill="#1658f6"/>
<polygon points="474.1,168.3 487.0,166.8 549.5,142.1 552.2,137.4 539.2,138.9 476.7,163.5" fill="#0a30f0"/>
<polygon points="605.9,167.4 617.6,167.3 673.1,148.0 675.4,143.3 663.7,143.4 608.2,162.7" fill="#0a30f0"/>
<polygon points="468.3,167.9 476.5,169.0 516.3,159.4 518.1,155.9 509.9,154.8 470.1,164.4" fill="#0820dc"/>
<polygon points="485.7,166.3 491.3,167.1 517.8,159.8 518.8,157.1 513.2,156.3 486.7,163.6" fill="#0414c0"/>
<polygon points="456.1,153.1 464.4,154.6 502.5,143.1 503.8,138.7 495.6,137.2 457.4,148.7" fill="#0a30f0"/>
<polygon points="468.6,165.7 479.0,167.3 528.4,153.2 530.3,148.1 519.8,146.5 470.5,160.6" fill="#0820dc"/>
<polygon points="616.4,134.9 625.0,135.9 664.4,122.5 665.6,118.1 657.0,117.0 617.6,130.5" fill="#0414c0"/>
<polygon points="497.9,185.5 512.0,185.4 583.4,169.3 587.1,165.3 573.1,165.3 501.7,181.4" fill="#1c80f8"/>
<polygon points="488.3,129.2 491.2,134.7 514.0,155.1 516.9,154.8 514.0,149.4 491.2,128.9" fill="#0a30f0"/>
<polygon points="610.2,99.5 615.1,104.5 646.6,119.2 649.6,117.9 644.7,112.9 613.2,98.1" fill="#0a30f0"/>
<polygon points="510.4,106.6 514.1,112.5 541.4,135.7 544.4,135.6 540.7,129.7 513.4,106.5" fill="#0820dc"/>
<polygon points="548.4,123.5 551.1,128.3 572.6,144.4 575.3,143.6 572.7,138.7 551.1,122.7" fill="#1658f6"/>
<polygon points="615.8,93.1 618.9,97.7 642.0,109.7 644.7,108.1 641.6,103.5 618.5,91.5" fill="#1658f6"/>
<polygon points="621.5,107.7 626.0,111.6 654.1,124.0 656.5,123.2 651.9,119.4 623.9,107.0" fill="#1658f6"/>
<polygon points="626.4,99.7 629.2,102.9 648.1,111.4 650.0,110.3 647.2,107.0 628.3,98.5" fill="#0820dc"/>
<polygon points="614.3,110.6 617.5,114.7 639.5,127.7 641.8,126.8 638.7,122.7 616.7,109.8" fill="#1658f6"/>
<polygon points="500.4,132.4 501.8,136.4 516.9,148.5 519.2,147.5 517.8,143.5 502.7,131.4" fill="#0414c0"/>
<polygon points="580.7,110.7 584.5,116.2 611.8,135.1 614.8,134.3 611.1,128.8 583.7,109.9" fill="#0a30f0"/>
<polygon points="477.1,123.3 479.1,127.3 496.2,141.4 498.4,140.9 496.3,136.9 479.2,122.8" fill="#0a30f0"/>
<polygon points="613.5,97.7 618.2,103.7 650.9,123.0 654.4,121.8 649.6,115.8 616.9,96.5" fill="#0a30f0"/>
<polygon points="513.6,117.7 517.8,124.1 547.7,149.4 550.9,149.3 546.8,142.9 516.9,117.6" fill="#1658f6"/>
<polygon points="560.0,108.1 563.4,112.2 587.1,124.7 589.5,123.7 586.0,119.5 562.4,107.1" fill="#0820dc"/>
<polygon points="562.3,108.4 564.0,113.8 583.9,127.8 587.2,125.8 585.4,120.4 565.5,106.4" fill="#0820dc"/>
<polygon points="571.7,110.1 576.9,116.5 612.3,137.6 616.0,136.5 610.8,130.1 575.4,109.0" fill="#1658f6"/>
<polygon points="501.2,125.4 502.3,130.4 519.0,143.9 522.0,142.4 520.8,137.5 504.1,123.9" fill="#0a30f0"/>
<polygon points="547.1,120.6 550.9,126.3 579.3,143.8 582.5,142.5 578.7,136.8 550.4,119.3" fill="#0a30f0"/>
<polygon points="508.9,117.3 512.9,122.9 540.7,144.9 543.6,144.8 539.6,139.2 511.8,117.2" fill="#0820dc"/>
<polygon points="503.9,117.2 504.8,121.6 519.2,134.9 521.8,133.9 520.9,129.5 506.5,116.1" fill="#1658f6"/>
<polygon points="503.6,108.8 508.9,114.9 542.8,140.0 546.0,140.1 540.7,134.0 506.7,108.9" fill="#0820dc"/>
<polygon points="566.9,101.9 569.5,107.3 592.3,120.1 595.4,118.0 592.8,112.6 570.0,99.8" fill="#1658f6"/>
<polygon points="538.8,113.4 543.1,119.5 574.0,137.9 577.5,136.5 573.3,130.4 542.3,112.0" fill="#0a30f0"/>
<polygon points="593.5,119.7 595.4,123.9 612.7,134.3 615.1,132.7 613.2,128.6 595.9,118.1" fill="#0a30f0"/>
<polygon points="572.3,104.2 576.2,110.2 605.5,128.7 608.9,127.4 605.0,121.5 575.7,102.9" fill="#0820dc"/>
<polygon points="497.8,19.2 507.3,19.2 516.9,28.8 524.8,40.0 520.0,46.4 510.5,43.2 502.6,35.2 497.8,32.0" fill="#030c84"/>
<polygon points="642.3,102.3 650.2,99.1 653.4,105.5 648.7,110.3 642.3,108.7" fill="#030c84"/>
<polygon points="628.0,110.3 636.0,107.1 642.3,113.5 639.1,121.5 631.2,119.9" fill="#030c84"/>
<polygon points="612.1,119.9 620.1,116.7 624.8,124.7 621.7,132.7 613.7,134.3 616.9,126.3" fill="#030c84"/>
<polygon points="596.3,140.6 604.2,137.5 612.1,137.5 609.0,145.4 599.4,150.2 593.1,147.0" fill="#030c84"/>
<polygon points="570.8,153.4 580.4,151.8 583.6,158.2 574.0,161.4" fill="#030c84"/>
<polygon points="497.8,150.2 501.0,150.2 502.6,158.2 497.8,158.2" fill="#030c84"/>
<line x1="560.9" y1="105.1" x2="578.8" y2="122.7" stroke="#20a0f8" stroke-width="2.3" stroke-linecap="round"/>
<line x1="514.2" y1="97.1" x2="536.7" y2="122.8" stroke="#1a78f8" stroke-width="2.0" stroke-linecap="round"/>
<line x1="497.8" y1="147.1" x2="510.6" y2="144.0" stroke="#20a0f8" stroke-width="2.8" stroke-linecap="round"/>
<line x1="596.1" y1="114.5" x2="606.5" y2="121.4" stroke="#20a0f8" stroke-width="1.7" stroke-linecap="round"/>
<line x1="515.1" y1="51.8" x2="533.2" y2="69.1" stroke="#1a78f8" stroke-width="2.6" stroke-linecap="round"/>
<line x1="572.6" y1="118.6" x2="596.1" y2="138.1" stroke="#1a78f8" stroke-width="1.9" stroke-linecap="round"/>
<line x1="656.2" y1="178.3" x2="687.3" y2="171.5" stroke="#1a78f8" stroke-width="1.9" stroke-linecap="round"/>
<line x1="532.4" y1="23.0" x2="548.1" y2="40.1" stroke="#20a0f8" stroke-width="2.1" stroke-linecap="round"/>
<line x1="649.3" y1="153.4" x2="666.2" y2="147.6" stroke="#20a0f8" stroke-width="2.2" stroke-linecap="round"/>
<line x1="653.2" y1="77.9" x2="680.0" y2="90.4" stroke="#20a0f8" stroke-width="1.9" stroke-linecap="round"/>
<line x1="497.1" y1="67.0" x2="516.8" y2="93.8" stroke="#1a78f8" stroke-width="1.9" stroke-linecap="round"/>
<line x1="499.6" y1="21.3" x2="510.0" y2="34.7" stroke="#20a0f8" stroke-width="2.1" stroke-linecap="round"/>
<line x1="515.2" y1="134.0" x2="536.6" y2="155.1" stroke="#1a78f8" stroke-width="2.1" stroke-linecap="round"/>
<line x1="519.1" y1="56.5" x2="540.9" y2="83.2" stroke="#1a78f8" stroke-width="2.7" stroke-linecap="round"/>
<line x1="518.7" y1="77.4" x2="538.0" y2="100.3" stroke="#1a78f8" stroke-width="2.8" stroke-linecap="round"/>
<line x1="519.2" y1="54.5" x2="533.0" y2="70.6" stroke="#1a78f8" stroke-width="1.7" stroke-linecap="round"/>
<line x1="497.7" y1="109.0" x2="517.0" y2="130.4" stroke="#1a78f8" stroke-width="2.1" stroke-linecap="round"/>
<line x1="649.5" y1="92.4" x2="681.0" y2="110.3" stroke="#1a78f8" stroke-width="1.8" stroke-linecap="round"/>
<line x1="640.6" y1="148.4" x2="657.2" y2="143.4" stroke="#20a0f8" stroke-width="2.7" stroke-linecap="round"/>
<line x1="516.3" y1="170.6" x2="544.5" y2="164.7" stroke="#1a78f8" stroke-width="1.7" stroke-linecap="round"/>
<line x1="488.7" y1="172.7" x2="519.0" y2="163.4" stroke="#1a78f8" stroke-width="2.6" stroke-linecap="round"/>
<line x1="586.1" y1="60.4" x2="612.4" y2="79.0" stroke="#1a78f8" stroke-width="1.9" stroke-linecap="round"/>
<line x1="579.6" y1="154.2" x2="598.9" y2="149.4" stroke="#20a0f8" stroke-width="1.8" stroke-linecap="round"/>
<line x1="484.8" y1="56.4" x2="493.7" y2="66.8" stroke="#1a78f8" stroke-width="2.0" stroke-linecap="round"/>
<line x1="581.9" y1="33.3" x2="611.3" y2="55.7" stroke="#20a0f8" stroke-width="2.4" stroke-linecap="round"/>
<line x1="602.7" y1="109.3" x2="613.6" y2="116.3" stroke="#1a78f8" stroke-width="2.7" stroke-linecap="round"/>
<line x1="604.4" y1="172.8" x2="632.6" y2="163.1" stroke="#1a78f8" stroke-width="2.5" stroke-linecap="round"/>
<line x1="537.6" y1="178.9" x2="563.5" y2="170.3" stroke="#20a0f8" stroke-width="2.7" stroke-linecap="round"/>
<line x1="610.7" y1="129.3" x2="647.4" y2="121.0" stroke="#1a78f8" stroke-width="2.4" stroke-linecap="round"/>
<line x1="639.3" y1="157.4" x2="672.1" y2="148.2" stroke="#20a0f8" stroke-width="2.3" stroke-linecap="round"/>
<line x1="591.1" y1="75.4" x2="614.1" y2="93.1" stroke="#1a78f8" stroke-width="2.4" stroke-linecap="round"/>
<line x1="655.4" y1="158.8" x2="677.7" y2="153.6" stroke="#20a0f8" stroke-width="2.3" stroke-linecap="round"/>
<line x1="558.9" y1="151.9" x2="590.2" y2="141.5" stroke="#1a78f8" stroke-width="2.3" stroke-linecap="round"/>
<line x1="565.9" y1="49.8" x2="585.2" y2="67.2" stroke="#20a0f8" stroke-width="2.7" stroke-linecap="round"/>
<line x1="526.6" y1="13.1" x2="548.7" y2="34.8" stroke="#1a78f8" stroke-width="1.8" stroke-linecap="round"/>
<line x1="640.1" y1="121.9" x2="675.8" y2="112.1" stroke="#1a78f8" stroke-width="2.4" stroke-linecap="round"/>
<line x1="516.6" y1="83.5" x2="540.8" y2="112.2" stroke="#20a0f8" stroke-width="2.1" stroke-linecap="round"/>
<line x1="583.8" y1="64.3" x2="604.9" y2="79.2" stroke="#20a0f8" stroke-width="2.6" stroke-linecap="round"/>
<line x1="606.2" y1="170.6" x2="622.2" y2="165.8" stroke="#1a78f8" stroke-width="1.9" stroke-linecap="round"/>
<line x1="519.3" y1="80.7" x2="536.6" y2="99.9" stroke="#1a78f8" stroke-width="2.6" stroke-linecap="round"/>
<line x1="653.5" y1="87.1" x2="665.1" y2="92.6" stroke="#20a0f8" stroke-width="1.6" stroke-linecap="round"/>
<line x1="605.7" y1="106.9" x2="634.2" y2="125.8" stroke="#1a78f8" stroke-width="1.8" stroke-linecap="round"/>
<line x1="561.4" y1="15.4" x2="574.8" y2="28.3" stroke="#1a78f8" stroke-width="1.7" stroke-linecap="round"/>
<line x1="591.8" y1="86.1" x2="615.7" y2="104.8" stroke="#20a0f8" stroke-width="2.8" stroke-linecap="round"/>
<line x1="601.5" y1="44.7" x2="615.3" y2="54.5" stroke="#1a78f8" stroke-width="2.2" stroke-linecap="round"/>
<line x1="606.7" y1="41.3" x2="624.8" y2="53.1" stroke="#20a0f8" stroke-width="2.2" stroke-linecap="round"/>
<line x1="589.3" y1="138.1" x2="622.1" y2="128.8" stroke="#20a0f8" stroke-width="1.7" stroke-linecap="round"/>
<line x1="644.8" y1="132.4" x2="668.3" y2="124.8" stroke="#20a0f8" stroke-width="2.7" stroke-linecap="round"/>
<line x1="547.7" y1="106.7" x2="571.5" y2="131.4" stroke="#20a0f8" stroke-width="2.2" stroke-linecap="round"/>
<line x1="595.7" y1="45.6" x2="623.1" y2="67.2" stroke="#20a0f8" stroke-width="2.5" stroke-linecap="round"/>
<line x1="519.2" y1="162.2" x2="557.8" y2="154.6" stroke="#20a0f8" stroke-width="2.5" stroke-linecap="round"/>
<line x1="537.9" y1="163.9" x2="559.2" y2="159.3" stroke="#1a78f8" stroke-width="2.1" stroke-linecap="round"/>
<line x1="578.0" y1="140.1" x2="590.4" y2="136.8" stroke="#20a0f8" stroke-width="1.7" stroke-linecap="round"/>
<line x1="621.6" y1="40.2" x2="650.7" y2="58.0" stroke="#1a78f8" stroke-width="1.8" stroke-linecap="round"/>
<line x1="572.1" y1="132.6" x2="602.7" y2="126.0" stroke="#20a0f8" stroke-width="2.2" stroke-linecap="round"/>
<line x1="647.7" y1="25.6" x2="671.5" y2="37.8" stroke="#1a78f8" stroke-width="2.5" stroke-linecap="round"/>
<line x1="593.5" y1="98.9" x2="614.9" y2="116.5" stroke="#1a78f8" stroke-width="2.1" stroke-linecap="round"/>
<line x1="629.6" y1="162.3" x2="663.8" y2="151.6" stroke="#20a0f8" stroke-width="2.2" stroke-linecap="round"/>
<line x1="582.0" y1="44.9" x2="602.4" y2="61.2" stroke="#20a0f8" stroke-width="1.6" stroke-linecap="round"/>
<line x1="651.3" y1="97.8" x2="681.7" y2="113.9" stroke="#20a0f8" stroke-width="2.2" stroke-linecap="round"/>
<line x1="602.6" y1="22.3" x2="621.8" y2="36.1" stroke="#20a0f8" stroke-width="2.7" stroke-linecap="round"/>
<line x1="528.9" y1="90.6" x2="546.7" y2="107.0" stroke="#20a0f8" stroke-width="2.7" stroke-linecap="round"/>
<line x1="565.2" y1="64.4" x2="588.2" y2="82.6" stroke="#20a0f8" stroke-width="1.8" stroke-linecap="round"/>
<line x1="618.0" y1="15.0" x2="633.8" y2="24.5" stroke="#20a0f8" stroke-width="2.0" stroke-linecap="round"/>
<line x1="544.0" y1="115.2" x2="568.7" y2="136.3" stroke="#1a78f8" stroke-width="2.2" stroke-linecap="round"/>
<line x1="525.7" y1="44.4" x2="542.4" y2="61.9" stroke="#1a78f8" stroke-width="2.1" stroke-linecap="round"/>
<line x1="574.4" y1="38.0" x2="598.1" y2="55.9" stroke="#20a0f8" stroke-width="2.2" stroke-linecap="round"/>
<line x1="630.6" y1="113.8" x2="645.9" y2="124.3" stroke="#20a0f8" stroke-width="2.6" stroke-linecap="round"/>
<line x1="639.6" y1="64.2" x2="672.7" y2="82.5" stroke="#1a78f8" stroke-width="2.8" stroke-linecap="round"/>
<line x1="637.0" y1="33.7" x2="665.3" y2="49.2" stroke="#1a78f8" stroke-width="1.7" stroke-linecap="round"/>
<line x1="627.3" y1="82.0" x2="640.1" y2="90.7" stroke="#1a78f8" stroke-width="2.4" stroke-linecap="round"/>
<line x1="485.0" y1="44.9" x2="508.4" y2="74.3" stroke="#20a0f8" stroke-width="1.7" stroke-linecap="round"/>
<line x1="570.3" y1="138.4" x2="600.4" y2="130.4" stroke="#1a78f8" stroke-width="1.7" stroke-linecap="round"/>
<line x1="500.5" y1="17.5" x2="517.4" y2="37.7" stroke="#20a0f8" stroke-width="1.8" stroke-linecap="round"/>
<line x1="514.2" y1="45.4" x2="539.4" y2="76.1" stroke="#20a0f8" stroke-width="1.7" stroke-linecap="round"/>
<line x1="507.6" y1="171.2" x2="510.2" y2="170.6" stroke="#28c0f8" stroke-width="1.3"/>
<line x1="549.7" y1="93.8" x2="551.9" y2="95.6" stroke="#28c0f8" stroke-width="1.3"/>
<line x1="593.2" y1="21.3" x2="596.0" y2="23.1" stroke="#28c0f8" stroke-width="1.3"/>
<line x1="526.6" y1="91.7" x2="529.1" y2="94.0" stroke="#28c0f8" stroke-width="1.3"/>
<line x1="528.8" y1="45.6" x2="530.9" y2="47.4" stroke="#28c0f8" stroke-width="1.3"/>
<line x1="639.6" y1="147.3" x2="642.8" y2="146.5" stroke="#80e880" stroke-width="1.3"/>
<line x1="597.7" y1="83.8" x2="600.3" y2="85.4" stroke="#28c0f8" stroke-width="1.3"/>
<line x1="653.8" y1="147.8" x2="655.9" y2="147.3" stroke="#80e880" stroke-width="1.3"/>
<line x1="616.0" y1="143.5" x2="619.4" y2="142.6" stroke="#28c0f8" stroke-width="1.3"/>
<line x1="640.2" y1="159.8" x2="643.3" y2="159.0" stroke="#28c0f8" stroke-width="1.3"/>
<line x1="619.3" y1="84.0" x2="622.2" y2="85.7" stroke="#28c0f8" stroke-width="1.3"/>
<line x1="552.1" y1="94.1" x2="553.3" y2="95.1" stroke="#28c0f8" stroke-width="1.3"/>
<line x1="599.2" y1="118.9" x2="601.0" y2="120.0" stroke="#80e880" stroke-width="1.3"/>
<line x1="603.6" y1="73.2" x2="606.3" y2="74.8" stroke="#28c0f8" stroke-width="1.3"/>
<line x1="582.5" y1="81.5" x2="585.8" y2="83.7" stroke="#28c0f8" stroke-width="1.3"/>
<line x1="609.2" y1="140.9" x2="613.0" y2="139.9" stroke="#28c0f8" stroke-width="1.3"/>
<line x1="595.5" y1="137.3" x2="597.6" y2="136.7" stroke="#28c0f8" stroke-width="1.3"/>
<line x1="505.8" y1="50.4" x2="507.6" y2="52.1" stroke="#28c0f8" stroke-width="1.3"/>
<line x1="537.6" y1="163.9" x2="540.4" y2="163.2" stroke="#28c0f8" stroke-width="1.3"/>
<line x1="651.4" y1="110.0" x2="655.0" y2="111.7" stroke="#28c0f8" stroke-width="1.3"/>
<line x1="626.4" y1="31.4" x2="629.0" y2="32.8" stroke="#28c0f8" stroke-width="1.3"/>
<line x1="505.0" y1="167.8" x2="506.8" y2="167.3" stroke="#28c0f8" stroke-width="1.3"/>
<line x1="524.7" y1="98.4" x2="526.9" y2="100.4" stroke="#28c0f8" stroke-width="1.3"/>
<line x1="647.9" y1="86.4" x2="650.4" y2="87.7" stroke="#28c0f8" stroke-width="1.3"/>
<line x1="555.9" y1="64.9" x2="558.3" y2="66.8" stroke="#28c0f8" stroke-width="1.3"/>
<line x1="542.8" y1="133.7" x2="544.6" y2="135.1" stroke="#28c0f8" stroke-width="1.3"/>
<line x1="536.7" y1="26.0" x2="538.2" y2="27.3" stroke="#28c0f8" stroke-width="1.3"/>
<line x1="559.7" y1="162.6" x2="563.0" y2="161.8" stroke="#28c0f8" stroke-width="1.3"/>
<line x1="654.8" y1="170.1" x2="656.4" y2="169.7" stroke="#80e880" stroke-width="1.3"/>
<line x1="566.0" y1="95.5" x2="569.2" y2="97.9" stroke="#28c0f8" stroke-width="1.3"/>
<line x1="580.9" y1="169.0" x2="584.1" y2="168.1" stroke="#28c0f8" stroke-width="1.3"/>
<line x1="653.2" y1="149.7" x2="656.1" y2="148.9" stroke="#28c0f8" stroke-width="1.3"/>
<line x1="596.9" y1="92.0" x2="598.6" y2="93.1" stroke="#28c0f8" stroke-width="1.3"/>
<line x1="581.7" y1="39.1" x2="583.8" y2="40.5" stroke="#28c0f8" stroke-width="1.3"/>
<line x1="570.1" y1="61.1" x2="572.5" y2="62.8" stroke="#28c0f8" stroke-width="1.3"/>
<line x1="621.3" y1="104.0" x2="624.8" y2="106.0" stroke="#80e880" stroke-width="1.3"/>
<line x1="614.4" y1="57.3" x2="615.9" y2="58.2" stroke="#80e880" stroke-width="1.3"/>
<line x1="622.3" y1="119.1" x2="624.4" y2="120.2" stroke="#28c0f8" stroke-width="1.3"/>
<line x1="606.6" y1="109.5" x2="609.1" y2="111.0" stroke="#28c0f8" stroke-width="1.3"/>
<line x1="617.4" y1="49.5" x2="619.3" y2="50.6" stroke="#80e880" stroke-width="1.3"/>
<line x1="643.2" y1="159.6" x2="644.8" y2="159.2" stroke="#28c0f8" stroke-width="1.3"/>
<line x1="540.8" y1="87.1" x2="543.2" y2="89.1" stroke="#28c0f8" stroke-width="1.3"/>
<line x1="583.8" y1="30.8" x2="585.2" y2="31.7" stroke="#28c0f8" stroke-width="1.3"/>
<line x1="585.2" y1="120.1" x2="587.3" y2="121.4" stroke="#28c0f8" stroke-width="1.3"/>
<line x1="531.2" y1="74.1" x2="533.8" y2="76.3" stroke="#28c0f8" stroke-width="1.3"/>
<line x1="509.6" y1="38.3" x2="512.2" y2="40.8" stroke="#28c0f8" stroke-width="1.3"/>
<line x1="619.9" y1="53.3" x2="622.1" y2="54.5" stroke="#28c0f8" stroke-width="1.3"/>
<line x1="626.4" y1="78.2" x2="629.2" y2="79.7" stroke="#80e880" stroke-width="1.3"/>
<line x1="549.5" y1="106.9" x2="552.1" y2="109.0" stroke="#80e880" stroke-width="1.3"/>
<line x1="565.7" y1="78.2" x2="567.1" y2="79.2" stroke="#80e880" stroke-width="1.3"/>
<line x1="510.3" y1="32.5" x2="512.4" y2="34.5" stroke="#28c0f8" stroke-width="1.3"/>
<line x1="606.6" y1="67.0" x2="609.6" y2="68.7" stroke="#28c0f8" stroke-width="1.3"/>
<line x1="531.7" y1="125.0" x2="533.0" y2="126.1" stroke="#28c0f8" stroke-width="1.3"/>
<line x1="612.9" y1="130.1" x2="615.1" y2="129.5" stroke="#28c0f8" stroke-width="1.3"/>
<line x1="554.6" y1="135.2" x2="557.0" y2="134.6" stroke="#28c0f8" stroke-width="1.3"/>
<line x1="610.4" y1="110.2" x2="613.7" y2="112.1" stroke="#80e880" stroke-width="1.3"/>
<line x1="642.8" y1="89.2" x2="646.0" y2="90.8" stroke="#28c0f8" stroke-width="1.3"/>
<line x1="548.2" y1="83.1" x2="551.2" y2="85.5" stroke="#80e880" stroke-width="1.3"/>
<line x1="537.2" y1="77.0" x2="539.1" y2="78.6" stroke="#28c0f8" stroke-width="1.3"/>
<line x1="560.6" y1="81.1" x2="562.2" y2="82.3" stroke="#28c0f8" stroke-width="1.3"/>
<line x1="624.4" y1="105.6" x2="627.5" y2="107.3" stroke="#28c0f8" stroke-width="1.3"/>
<line x1="525.8" y1="140.5" x2="529.4" y2="139.5" stroke="#28c0f8" stroke-width="1.3"/>
<line x1="501.3" y1="101.6" x2="503.4" y2="103.6" stroke="#28c0f8" stroke-width="1.3"/>
<line x1="651.3" y1="123.3" x2="654.7" y2="122.4" stroke="#28c0f8" stroke-width="1.3"/>
<line x1="584.6" y1="145.1" x2="586.3" y2="144.7" stroke="#28c0f8" stroke-width="1.3"/>
<line x1="614.8" y1="162.9" x2="616.5" y2="162.4" stroke="#28c0f8" stroke-width="1.3"/>
<line x1="520.6" y1="138.4" x2="523.0" y2="140.5" stroke="#28c0f8" stroke-width="1.3"/>
<line x1="532.8" y1="141.5" x2="535.5" y2="140.8" stroke="#28c0f8" stroke-width="1.3"/>
<line x1="560.4" y1="73.2" x2="563.6" y2="75.5" stroke="#28c0f8" stroke-width="1.3"/>
<line x1="576.2" y1="105.1" x2="578.9" y2="107.0" stroke="#28c0f8" stroke-width="1.3"/>
<line x1="643.1" y1="84.8" x2="646.3" y2="86.4" stroke="#28c0f8" stroke-width="1.3"/>
<line x1="633.3" y1="148.0" x2="636.8" y2="147.1" stroke="#80e880" stroke-width="1.3"/>
<line x1="649.9" y1="121.5" x2="652.6" y2="120.8" stroke="#28c0f8" stroke-width="1.3"/>
<line x1="625.2" y1="86.6" x2="627.4" y2="87.8" stroke="#28c0f8" stroke-width="1.3"/>
<line x1="615.5" y1="177.6" x2="617.9" y2="176.9" stroke="#28c0f8" stroke-width="1.3"/>
<line x1="530.3" y1="87.1" x2="531.9" y2="88.6" stroke="#80e880" stroke-width="1.3"/>
<line x1="507.2" y1="68.5" x2="508.5" y2="69.7" stroke="#28c0f8" stroke-width="1.3"/>
<line x1="621.0" y1="47.9" x2="622.5" y2="48.7" stroke="#28c0f8" stroke-width="1.3"/>
<line x1="590.5" y1="164.5" x2="592.1" y2="164.1" stroke="#28c0f8" stroke-width="1.3"/>
<line x1="527.1" y1="53.9" x2="528.7" y2="55.3" stroke="#28c0f8" stroke-width="1.3"/>
<line x1="592.3" y1="55.0" x2="593.9" y2="56.1" stroke="#28c0f8" stroke-width="1.3"/>
<line x1="525.2" y1="140.2" x2="527.4" y2="139.7" stroke="#28c0f8" stroke-width="1.3"/>
<line x1="627.6" y1="95.8" x2="629.4" y2="96.9" stroke="#80e880" stroke-width="1.3"/>
<line x1="643.0" y1="73.9" x2="645.5" y2="75.2" stroke="#80e880" stroke-width="1.3"/>
<line x1="574.4" y1="54.5" x2="575.8" y2="55.5" stroke="#80e880" stroke-width="1.3"/>
<line x1="625.1" y1="80.7" x2="627.5" y2="82.1" stroke="#28c0f8" stroke-width="1.3"/>
<line x1="541.4" y1="177.4" x2="544.4" y2="176.6" stroke="#28c0f8" stroke-width="1.3"/>
<line x1="499.5" y1="94.7" x2="501.3" y2="96.4" stroke="#28c0f8" stroke-width="1.3"/>
<line x1="611.1" y1="116.1" x2="612.7" y2="117.0" stroke="#28c0f8" stroke-width="1.3"/>
<line x1="548.9" y1="60.7" x2="551.8" y2="62.9" stroke="#28c0f8" stroke-width="1.3"/>
<line x1="599.0" y1="177.9" x2="601.0" y2="177.3" stroke="#28c0f8" stroke-width="1.3"/>
<line x1="521.7" y1="142.3" x2="523.2" y2="141.9" stroke="#28c0f8" stroke-width="1.3"/>
<line x1="632.2" y1="150.6" x2="633.8" y2="150.1" stroke="#28c0f8" stroke-width="1.3"/>
<line x1="611.6" y1="34.7" x2="613.9" y2="36.1" stroke="#28c0f8" stroke-width="1.3"/>
<line x1="649.5" y1="112.9" x2="652.8" y2="114.5" stroke="#28c0f8" stroke-width="1.3"/>
<line x1="623.1" y1="85.8" x2="626.5" y2="87.7" stroke="#28c0f8" stroke-width="1.3"/>
<line x1="629.0" y1="52.5" x2="631.5" y2="53.9" stroke="#28c0f8" stroke-width="1.3"/>
<line x1="522.8" y1="152.2" x2="525.0" y2="151.6" stroke="#28c0f8" stroke-width="1.3"/>
<line x1="509.9" y1="68.1" x2="511.8" y2="69.9" stroke="#28c0f8" stroke-width="1.3"/>
<line x1="554.9" y1="129.0" x2="556.3" y2="130.1" stroke="#28c0f8" stroke-width="1.3"/>
<line x1="571.1" y1="173.7" x2="574.6" y2="172.8" stroke="#28c0f8" stroke-width="1.3"/>
<line x1="499.8" y1="79.5" x2="502.1" y2="81.8" stroke="#28c0f8" stroke-width="1.3"/>
<line x1="587.4" y1="92.4" x2="588.7" y2="93.2" stroke="#80e880" stroke-width="1.3"/>
<line x1="624.8" y1="52.2" x2="627.4" y2="53.7" stroke="#28c0f8" stroke-width="1.3"/>
<line x1="557.5" y1="105.5" x2="559.3" y2="106.8" stroke="#28c0f8" stroke-width="1.3"/>
<line x1="560.1" y1="125.7" x2="561.8" y2="127.0" stroke="#28c0f8" stroke-width="1.3"/>
<line x1="614.0" y1="71.8" x2="617.3" y2="73.8" stroke="#28c0f8" stroke-width="1.3"/>
<line x1="612.7" y1="72.2" x2="615.8" y2="74.0" stroke="#28c0f8" stroke-width="1.3"/>
<line x1="520.2" y1="34.3" x2="522.5" y2="36.4" stroke="#28c0f8" stroke-width="1.3"/>
<line x1="526.4" y1="83.5" x2="529.1" y2="85.9" stroke="#28c0f8" stroke-width="1.3"/>
<line x1="512.1" y1="55.4" x2="513.5" y2="56.7" stroke="#28c0f8" stroke-width="1.3"/>
<line x1="562.4" y1="30.8" x2="565.4" y2="33.1" stroke="#28c0f8" stroke-width="1.3"/>
<line x1="579.0" y1="122.6" x2="581.8" y2="124.6" stroke="#28c0f8" stroke-width="1.3"/>
<line x1="559.1" y1="72.2" x2="561.1" y2="73.7" stroke="#28c0f8" stroke-width="1.3"/>
<line x1="561.4" y1="131.0" x2="564.6" y2="133.4" stroke="#28c0f8" stroke-width="1.3"/>
<line x1="602.6" y1="116.5" x2="604.0" y2="117.3" stroke="#28c0f8" stroke-width="1.3"/>
<line x1="552.1" y1="123.2" x2="553.5" y2="124.3" stroke="#28c0f8" stroke-width="1.3"/>
<line x1="578.7" y1="145.2" x2="582.1" y2="144.3" stroke="#28c0f8" stroke-width="1.3"/>
<line x1="522.9" y1="141.7" x2="526.6" y2="140.7" stroke="#28c0f8" stroke-width="1.3"/>
<line x1="553.8" y1="99.2" x2="555.2" y2="100.3" stroke="#28c0f8" stroke-width="1.3"/>
<line x1="654.5" y1="101.7" x2="657.5" y2="103.1" stroke="#28c0f8" stroke-width="1.3"/>
<line x1="529.1" y1="170.2" x2="532.1" y2="169.4" stroke="#28c0f8" stroke-width="1.3"/>
<line x1="511.0" y1="58.3" x2="513.2" y2="60.3" stroke="#28c0f8" stroke-width="1.3"/>
<line x1="550.1" y1="167.7" x2="552.4" y2="167.0" stroke="#28c0f8" stroke-width="1.3"/>
<line x1="517.5" y1="174.8" x2="519.3" y2="174.3" stroke="#80e880" stroke-width="1.3"/>
<line x1="584.1" y1="108.8" x2="586.5" y2="110.4" stroke="#28c0f8" stroke-width="1.3"/>
<line x1="642.2" y1="177.7" x2="645.6" y2="176.8" stroke="#28c0f8" stroke-width="1.3"/>
<line x1="517.3" y1="151.0" x2="519.4" y2="150.4" stroke="#80e880" stroke-width="1.3"/>
<line x1="536.0" y1="110.9" x2="538.8" y2="113.2" stroke="#28c0f8" stroke-width="1.3"/>
<line x1="584.8" y1="31.4" x2="586.1" y2="32.3" stroke="#28c0f8" stroke-width="1.3"/>
<line x1="654.5" y1="169.3" x2="657.6" y2="168.5" stroke="#28c0f8" stroke-width="1.3"/>
<line x1="604.4" y1="137.1" x2="606.8" y2="136.4" stroke="#28c0f8" stroke-width="1.3"/>
<line x1="625.4" y1="21.8" x2="627.2" y2="22.8" stroke="#28c0f8" stroke-width="1.3"/>
<line x1="520.5" y1="80.9" x2="522.7" y2="82.9" stroke="#28c0f8" stroke-width="1.3"/>
<line x1="580.3" y1="61.3" x2="582.7" y2="63.0" stroke="#28c0f8" stroke-width="1.3"/>
<line x1="599.7" y1="25.3" x2="602.4" y2="26.9" stroke="#28c0f8" stroke-width="1.3"/>
<line x1="650.1" y1="115.1" x2="652.7" y2="114.4" stroke="#28c0f8" stroke-width="1.3"/>
<line x1="596.9" y1="129.4" x2="600.1" y2="128.5" stroke="#28c0f8" stroke-width="1.3"/>
<line x1="574.9" y1="178.1" x2="578.4" y2="177.2" stroke="#80e880" stroke-width="1.3"/>
<line x1="562.8" y1="88.5" x2="565.1" y2="90.3" stroke="#80e880" stroke-width="1.3"/>
<line x1="581.3" y1="103.1" x2="583.5" y2="104.6" stroke="#80e880" stroke-width="1.3"/>
<line x1="548.7" y1="27.9" x2="551.3" y2="30.0" stroke="#80e880" stroke-width="1.3"/>
<line x1="614.0" y1="114.7" x2="617.0" y2="116.4" stroke="#28c0f8" stroke-width="1.3"/>
<line x1="592.0" y1="30.4" x2="593.6" y2="31.3" stroke="#28c0f8" stroke-width="1.3"/>
<line x1="577.6" y1="82.6" x2="579.0" y2="83.5" stroke="#28c0f8" stroke-width="1.3"/>
<line x1="581.4" y1="57.4" x2="583.2" y2="58.7" stroke="#28c0f8" stroke-width="1.3"/>
<line x1="535.3" y1="30.1" x2="538.1" y2="32.6" stroke="#80e880" stroke-width="1.3"/>
<line x1="603.5" y1="157.7" x2="606.0" y2="157.0" stroke="#28c0f8" stroke-width="1.3"/>
<line x1="533.0" y1="138.5" x2="535.8" y2="137.8" stroke="#80e880" stroke-width="1.3"/>
<line x1="513.5" y1="145.8" x2="515.2" y2="145.4" stroke="#28c0f8" stroke-width="1.3"/>
<line x1="648.8" y1="19.3" x2="650.7" y2="20.2" stroke="#28c0f8" stroke-width="1.3"/>
<line x1="549.4" y1="29.2" x2="552.3" y2="31.5" stroke="#28c0f8" stroke-width="1.3"/>
<line x1="560.9" y1="76.2" x2="563.2" y2="78.0" stroke="#28c0f8" stroke-width="1.3"/>
<line x1="502.7" y1="162.8" x2="504.9" y2="162.2" stroke="#28c0f8" stroke-width="1.3"/>
<line x1="646.1" y1="175.4" x2="648.7" y2="174.7" stroke="#28c0f8" stroke-width="1.3"/>
<line x1="544.7" y1="166.6" x2="548.3" y2="165.7" stroke="#28c0f8" stroke-width="1.3"/>
<line x1="630.9" y1="75.8" x2="633.2" y2="77.1" stroke="#28c0f8" stroke-width="1.3"/>
<line x1="637.5" y1="178.3" x2="639.4" y2="177.7" stroke="#28c0f8" stroke-width="1.3"/>
<line x1="528.2" y1="159.9" x2="529.8" y2="159.4" stroke="#28c0f8" stroke-width="1.3"/>
<line x1="613.1" y1="69.2" x2="616.3" y2="71.1" stroke="#80e880" stroke-width="1.3"/>
</g>
<rect x="497.8" y="19.2" width="158.8" height="159.8" fill="none" stroke="#000" stroke-width="1.6"/>
<line x1="494.3" y1="19.20" x2="497.8" y2="19.20" stroke="#000" stroke-width="1.2"/>
<text x="493.30" y="22.70" font-size="10" text-anchor="end" font-weight="normal" font-style="normal" fill="#111" >0</text>
<line x1="494.3" y1="41.40" x2="497.8" y2="41.40" stroke="#000" stroke-width="1.2"/>
<text x="493.30" y="44.90" font-size="10" text-anchor="end" font-weight="normal" font-style="normal" fill="#111" >5</text>
<line x1="494.3" y1="63.60" x2="497.8" y2="63.60" stroke="#000" stroke-width="1.2"/>
<text x="493.30" y="67.10" font-size="10" text-anchor="end" font-weight="normal" font-style="normal" fill="#111" >10</text>
<line x1="494.3" y1="85.80" x2="497.8" y2="85.80" stroke="#000" stroke-width="1.2"/>
<text x="493.30" y="89.30" font-size="10" text-anchor="end" font-weight="normal" font-style="normal" fill="#111" >15</text>
<line x1="494.3" y1="108.00" x2="497.8" y2="108.00" stroke="#000" stroke-width="1.2"/>
<text x="493.30" y="111.50" font-size="10" text-anchor="end" font-weight="normal" font-style="normal" fill="#111" >20</text>
<line x1="494.3" y1="130.20" x2="497.8" y2="130.20" stroke="#000" stroke-width="1.2"/>
<text x="493.30" y="133.70" font-size="10" text-anchor="end" font-weight="normal" font-style="normal" fill="#111" >25</text>
<line x1="494.3" y1="152.40" x2="497.8" y2="152.40" stroke="#000" stroke-width="1.2"/>
<text x="493.30" y="155.90" font-size="10" text-anchor="end" font-weight="normal" font-style="normal" fill="#111" >30</text>
<line x1="494.3" y1="174.60" x2="497.8" y2="174.60" stroke="#000" stroke-width="1.2"/>
<text x="493.30" y="178.10" font-size="10" text-anchor="end" font-weight="normal" font-style="normal" fill="#111" >35</text>
<line x1="497.80" y1="179.0" x2="497.80" y2="182.5" stroke="#000" stroke-width="1.2"/>
<text x="497.80" y="190.00" font-size="10" text-anchor="middle" font-weight="normal" font-style="normal" fill="#111" >0</text>
<line x1="541.80" y1="179.0" x2="541.80" y2="182.5" stroke="#000" stroke-width="1.2"/>
<text x="541.80" y="190.00" font-size="10" text-anchor="middle" font-weight="normal" font-style="normal" fill="#111" >10</text>
<line x1="585.80" y1="179.0" x2="585.80" y2="182.5" stroke="#000" stroke-width="1.2"/>
<text x="585.80" y="190.00" font-size="10" text-anchor="middle" font-weight="normal" font-style="normal" fill="#111" >20</text>
<line x1="629.80" y1="179.0" x2="629.80" y2="182.5" stroke="#000" stroke-width="1.2"/>
<text x="629.80" y="190.00" font-size="10" text-anchor="middle" font-weight="normal" font-style="normal" fill="#111" >30</text>
<text x="577.20" y="199.50" font-size="11.5" text-anchor="middle" font-weight="normal" font-style="normal" fill="#111" >x (nm)</text>
<text transform="translate(478,99.5) rotate(-90)" x="0" y="0" font-size="11.5" text-anchor="middle" fill="#111">y (nm)</text>
<defs><linearGradient id="gc" x1="0" y1="1" x2="0" y2="0"><stop offset="0.000" stop-color="#00008f"/><stop offset="0.125" stop-color="#0000ff"/><stop offset="0.250" stop-color="#0080ff"/><stop offset="0.375" stop-color="#00ffff"/><stop offset="0.500" stop-color="#80ff80"/><stop offset="0.625" stop-color="#ffff00"/><stop offset="0.750" stop-color="#ff8000"/><stop offset="0.875" stop-color="#ff0000"/><stop offset="1.000" stop-color="#800000"/></linearGradient></defs>
<rect x="659.8" y="18.8" width="6" height="116.6" fill="url(#gc)" stroke="#000" stroke-width="0.6"/>
<line x1="665.6" y1="123.30" x2="667.5" y2="123.30" stroke="#000" stroke-width="1"/>
<text x="667.30" y="126.60" font-size="9.2" text-anchor="start" font-weight="normal" font-style="normal" fill="#111" >0.1</text>
<line x1="665.6" y1="102.74" x2="667.5" y2="102.74" stroke="#000" stroke-width="1"/>
<text x="667.30" y="106.04" font-size="9.2" text-anchor="start" font-weight="normal" font-style="normal" fill="#111" >0.2</text>
<line x1="665.6" y1="82.18" x2="667.5" y2="82.18" stroke="#000" stroke-width="1"/>
<text x="667.30" y="85.48" font-size="9.2" text-anchor="start" font-weight="normal" font-style="normal" fill="#111" >0.3</text>
<line x1="665.6" y1="61.62" x2="667.5" y2="61.62" stroke="#000" stroke-width="1"/>
<text x="667.30" y="64.92" font-size="9.2" text-anchor="start" font-weight="normal" font-style="normal" fill="#111" >0.4</text>
<line x1="665.6" y1="41.06" x2="667.5" y2="41.06" stroke="#000" stroke-width="1"/>
<text x="667.30" y="44.36" font-size="9.2" text-anchor="start" font-weight="normal" font-style="normal" fill="#111" >0.5</text>
<line x1="665.6" y1="20.50" x2="667.5" y2="20.50" stroke="#000" stroke-width="1"/>
<text x="667.30" y="23.80" font-size="9.2" text-anchor="start" font-weight="normal" font-style="normal" fill="#111" >0.6</text>
<text x="634.00" y="10.30" font-size="11.5" text-anchor="start" font-weight="normal" font-style="normal" fill="#111" ><tspan font-style="italic">q</tspan> (nm<tspan dy="-4" font-size="7.5">-1</tspan><tspan dy="4">)</tspan></text>
<text x="243.20" y="216.30" font-size="14.2" text-anchor="start" font-weight="bold" font-style="normal" fill="#000" >(d)</text>
<path d="M288.10,357.60 C288.85,356.03 290.95,350.82 292.60,348.20 C294.25,345.58 296.20,342.50 298.00,341.90 C299.80,341.30 301.83,343.78 303.40,344.60 C304.97,345.42 306.03,347.25 307.40,346.80 C308.77,346.35 310.30,344.67 311.60,341.90 C312.90,339.13 314.00,335.15 315.20,330.20 C316.40,325.25 317.60,318.52 318.80,312.20 C320.00,305.88 321.20,298.92 322.40,292.30 C323.60,285.68 324.80,278.52 326.00,272.50 C327.20,266.48 328.55,259.57 329.60,256.20 C330.65,252.83 331.40,252.30 332.30,252.30 C333.20,252.30 334.10,253.43 335.00,256.20 C335.90,258.97 336.65,262.88 337.70,268.90 C338.75,274.92 340.10,285.08 341.30,292.30 C342.50,299.52 343.70,306.18 344.90,312.20 C346.10,318.22 347.13,324.50 348.50,328.40 C349.87,332.30 351.73,333.05 353.10,335.60 C354.47,338.15 355.65,341.00 356.70,343.70 C357.75,346.40 358.65,349.48 359.40,351.80 C360.15,354.12 360.90,356.63 361.20,357.60 Z" fill="#005600"/>
<path d="M372.20,357.60 C372.65,355.23 374.02,348.18 374.90,343.40 C375.78,338.62 376.63,332.73 377.50,328.90 C378.37,325.07 379.00,322.48 380.10,320.40 C381.20,318.32 382.78,316.30 384.10,316.40 C385.42,316.50 386.70,318.92 388.00,321.00 C389.30,323.08 390.48,326.05 391.90,328.90 C393.32,331.75 394.97,335.47 396.50,338.10 C398.03,340.73 399.57,343.12 401.10,344.70 C402.63,346.28 404.05,347.03 405.70,347.60 C407.35,348.17 409.47,347.82 411.00,348.10 C412.53,348.38 413.70,348.55 414.90,349.30 C416.10,350.05 416.98,351.22 418.20,352.60 C419.42,353.98 421.53,356.77 422.20,357.60 Z" fill="#005600"/>
<path d="M433.60,357.60 C434.17,357.20 435.95,355.82 437.00,355.20 C438.05,354.58 438.90,353.93 439.90,353.90 C440.90,353.87 441.90,354.38 443.00,355.00 C444.10,355.62 445.92,357.17 446.50,357.60 Z" fill="#005600"/>
<path d="M279,231 V357.6 H456.3" fill="none" stroke="#000" stroke-width="1.6"/>
<line x1="275.5" y1="357.60" x2="279" y2="357.60" stroke="#000" stroke-width="1.4"/>
<text x="274.20" y="361.20" font-size="10" text-anchor="end" font-weight="normal" font-style="normal" fill="#111" >0</text>
<line x1="275.5" y1="332.25" x2="279" y2="332.25" stroke="#000" stroke-width="1.4"/>
<text x="274.20" y="335.85" font-size="10" text-anchor="end" font-weight="normal" font-style="normal" fill="#111" >5</text>
<line x1="275.5" y1="306.90" x2="279" y2="306.90" stroke="#000" stroke-width="1.4"/>
<text x="274.20" y="310.50" font-size="10" text-anchor="end" font-weight="normal" font-style="normal" fill="#111" >10</text>
<line x1="275.5" y1="281.55" x2="279" y2="281.55" stroke="#000" stroke-width="1.4"/>
<text x="274.20" y="285.15" font-size="10" text-anchor="end" font-weight="normal" font-style="normal" fill="#111" >15</text>
<line x1="275.5" y1="256.20" x2="279" y2="256.20" stroke="#000" stroke-width="1.4"/>
<text x="274.20" y="259.80" font-size="10" text-anchor="end" font-weight="normal" font-style="normal" fill="#111" >20</text>
<line x1="275.5" y1="230.85" x2="279" y2="230.85" stroke="#000" stroke-width="1.4"/>
<text x="274.20" y="234.45" font-size="10" text-anchor="end" font-weight="normal" font-style="normal" fill="#111" >25</text>
<line x1="278.70" y1="357.6" x2="278.70" y2="361.1" stroke="#000" stroke-width="1.4"/>
<text x="278.70" y="369.20" font-size="10" text-anchor="middle" font-weight="normal" font-style="normal" fill="#111" >0</text>
<line x1="308.30" y1="357.6" x2="308.30" y2="361.1" stroke="#000" stroke-width="1.4"/>
<text x="308.30" y="369.20" font-size="10" text-anchor="middle" font-weight="normal" font-style="normal" fill="#111" >30</text>
<line x1="337.90" y1="357.6" x2="337.90" y2="361.1" stroke="#000" stroke-width="1.4"/>
<text x="337.90" y="369.20" font-size="10" text-anchor="middle" font-weight="normal" font-style="normal" fill="#111" >60</text>
<line x1="367.50" y1="357.6" x2="367.50" y2="361.1" stroke="#000" stroke-width="1.4"/>
<text x="367.50" y="369.20" font-size="10" text-anchor="middle" font-weight="normal" font-style="normal" fill="#111" >90</text>
<line x1="397.10" y1="357.6" x2="397.10" y2="361.1" stroke="#000" stroke-width="1.4"/>
<text x="397.10" y="369.20" font-size="10" text-anchor="middle" font-weight="normal" font-style="normal" fill="#111" >120</text>
<line x1="426.70" y1="357.6" x2="426.70" y2="361.1" stroke="#000" stroke-width="1.4"/>
<text x="426.70" y="369.20" font-size="10" text-anchor="middle" font-weight="normal" font-style="normal" fill="#111" >150</text>
<line x1="456.31" y1="357.6" x2="456.31" y2="361.1" stroke="#000" stroke-width="1.4"/>
<text x="456.31" y="369.20" font-size="10" text-anchor="middle" font-weight="normal" font-style="normal" fill="#111" >180</text>
<text transform="translate(257.5,292.5) rotate(-90)" font-size="10.2" text-anchor="middle" fill="#111">Frequency (%)</text>
<text x="347.50" y="381.30" font-size="12" text-anchor="start" font-weight="normal" font-style="normal" fill="#111" xml:space="preserve"><tspan font-style="italic">θ<tspan font-size="9.5">i</tspan>-θ<tspan font-size="9.5">min</tspan></tspan> (°)</text>
<text x="467.60" y="216.30" font-size="14.2" text-anchor="start" font-weight="bold" font-style="normal" fill="#000" >(e)</text>
<path d="M512.90,357.70 C514.05,356.42 517.65,351.83 519.80,350.00 C521.95,348.17 523.82,346.87 525.80,346.70 C527.78,346.53 529.55,348.02 531.70,349.00 C533.85,349.98 536.70,352.92 538.70,352.60 C540.70,352.28 542.22,350.33 543.70,347.10 C545.18,343.87 546.28,338.83 547.60,333.20 C548.92,327.57 550.27,320.25 551.60,313.30 C552.93,306.35 554.28,298.43 555.60,291.50 C556.92,284.57 558.18,277.65 559.50,271.70 C560.82,265.75 562.17,260.27 563.50,255.80 C564.83,251.33 566.18,247.48 567.50,244.90 C568.82,242.32 570.08,240.47 571.40,240.30 C572.72,240.13 574.07,241.32 575.40,243.90 C576.73,246.48 578.08,250.83 579.40,255.80 C580.72,260.77 581.98,267.42 583.30,273.70 C584.62,279.98 585.97,286.90 587.30,293.50 C588.63,300.10 589.98,307.68 591.30,313.30 C592.62,318.92 594.17,323.75 595.20,327.20 C596.23,330.65 596.50,331.70 597.50,334.00 C598.50,336.30 599.87,339.48 601.20,341.00 C602.53,342.52 603.85,343.00 605.50,343.10 C607.15,343.20 609.33,342.20 611.10,341.60 C612.87,341.00 614.55,340.02 616.10,339.50 C617.65,338.98 618.95,338.37 620.40,338.50 C621.85,338.63 623.45,339.38 624.80,340.30 C626.15,341.22 627.05,342.23 628.50,344.00 C629.95,345.77 631.95,348.93 633.50,350.90 C635.05,352.87 636.67,354.67 637.80,355.80 C638.93,356.93 639.88,357.38 640.30,357.70 Z" fill="#005600"/>
<path d="M646.00,357.70 C647.00,357.52 650.27,356.85 652.00,356.60 C653.73,356.35 654.90,356.18 656.40,356.20 C657.90,356.22 659.03,356.45 661.00,356.70 C662.97,356.95 667.00,357.53 668.20,357.70 Z" fill="#005600"/>
<path d="M498.5,230.2 V357.7 H676.3" fill="none" stroke="#000" stroke-width="1.6"/>
<line x1="495" y1="357.70" x2="498.5" y2="357.70" stroke="#000" stroke-width="1.4"/>
<text x="494.00" y="361.30" font-size="10" text-anchor="end" font-weight="normal" font-style="normal" fill="#111" >0</text>
<line x1="495" y1="325.70" x2="498.5" y2="325.70" stroke="#000" stroke-width="1.4"/>
<text x="494.00" y="329.30" font-size="10" text-anchor="end" font-weight="normal" font-style="normal" fill="#111" >4</text>
<line x1="495" y1="293.70" x2="498.5" y2="293.70" stroke="#000" stroke-width="1.4"/>
<text x="494.00" y="297.30" font-size="10" text-anchor="end" font-weight="normal" font-style="normal" fill="#111" >8</text>
<line x1="495" y1="261.70" x2="498.5" y2="261.70" stroke="#000" stroke-width="1.4"/>
<text x="494.00" y="265.30" font-size="10" text-anchor="end" font-weight="normal" font-style="normal" fill="#111" >12</text>
<line x1="495" y1="229.70" x2="498.5" y2="229.70" stroke="#000" stroke-width="1.4"/>
<text x="494.00" y="233.30" font-size="10" text-anchor="end" font-weight="normal" font-style="normal" fill="#111" >16</text>
<line x1="498.80" y1="357.7" x2="498.80" y2="361.2" stroke="#000" stroke-width="1.4"/>
<text x="498.80" y="369.50" font-size="10" text-anchor="middle" font-weight="normal" font-style="normal" fill="#111" >0.0</text>
<line x1="557.90" y1="357.7" x2="557.90" y2="361.2" stroke="#000" stroke-width="1.4"/>
<text x="557.90" y="369.50" font-size="10" text-anchor="middle" font-weight="normal" font-style="normal" fill="#111" >0.1</text>
<line x1="617.00" y1="357.7" x2="617.00" y2="361.2" stroke="#000" stroke-width="1.4"/>
<text x="617.00" y="369.50" font-size="10" text-anchor="middle" font-weight="normal" font-style="normal" fill="#111" >0.2</text>
<line x1="676.10" y1="357.7" x2="676.10" y2="361.2" stroke="#000" stroke-width="1.4"/>
<text x="676.10" y="369.50" font-size="10" text-anchor="middle" font-weight="normal" font-style="normal" fill="#111" >0.3</text>
<text transform="translate(481.5,288) rotate(-90)" font-size="10.2" text-anchor="middle" fill="#111">Frequency (%)</text>
<text x="567.30" y="381.20" font-size="11.6" text-anchor="start" font-weight="normal" font-style="normal" fill="#111" xml:space="preserve"><tspan font-style="italic">q</tspan> (nm <tspan dy="-4.5" font-size="7.5">-1</tspan><tspan dy="4.5">)</tspan></text>
<text x="41.00" y="397.60" font-size="14.2" text-anchor="start" font-weight="bold" font-style="normal" fill="#000" >(f)</text>
<circle cx="170.3" cy="441.2" r="8.2" fill="none" stroke="#3a3a3a" stroke-width="2.0" stroke-dasharray="0.9 1.3"/>
<circle cx="280.1" cy="449.4" r="8.0" fill="none" stroke="#3a3a3a" stroke-width="2.0" stroke-dasharray="0.9 1.3"/>
<circle cx="333.6" cy="462.6" r="8.0" fill="none" stroke="#3a3a3a" stroke-width="2.0" stroke-dasharray="0.9 1.3"/>
<circle cx="190.1" cy="529.3" r="37.4" fill="#e0837b"/>
<circle cx="454" cy="587" r="42.3" fill="#b5e1e9"/>
<circle cx="502.2" cy="583.6" r="8.8" fill="#6a83c1"/>
<circle cx="358.3" cy="484.4" r="12.2" fill="#f0a28c"/>
<circle cx="396" cy="470.2" r="6.3" fill="#badf9b"/>
<circle cx="370.2" cy="532.5" r="12.3" fill="#f9e1a6"/>
<path d="M99,402.5 V633.3 H623.8" fill="none" stroke="#000" stroke-width="1.7"/>
<line x1="95.5" y1="633.30" x2="99" y2="633.30" stroke="#000" stroke-width="1.5"/>
<text x="92.60" y="637.60" font-size="12" text-anchor="end" font-weight="bold" font-style="normal" fill="#000" >0.25</text>
<line x1="95.5" y1="575.60" x2="99" y2="575.60" stroke="#000" stroke-width="1.5"/>
<text x="92.60" y="579.90" font-size="12" text-anchor="end" font-weight="bold" font-style="normal" fill="#000" >0.30</text>
<line x1="95.5" y1="517.90" x2="99" y2="517.90" stroke="#000" stroke-width="1.5"/>
<text x="92.60" y="522.20" font-size="12" text-anchor="end" font-weight="bold" font-style="normal" fill="#000" >0.35</text>
<line x1="95.5" y1="460.20" x2="99" y2="460.20" stroke="#000" stroke-width="1.5"/>
<text x="92.60" y="464.50" font-size="12" text-anchor="end" font-weight="bold" font-style="normal" fill="#000" >0.40</text>
<line x1="95.5" y1="402.50" x2="99" y2="402.50" stroke="#000" stroke-width="1.5"/>
<text x="92.60" y="406.80" font-size="12" text-anchor="end" font-weight="bold" font-style="normal" fill="#000" >0.45</text>
<line x1="99.00" y1="633.3" x2="99.00" y2="638.5" stroke="#000" stroke-width="1.5"/>
<text x="99.00" y="651.00" font-size="12" text-anchor="middle" font-weight="bold" font-style="normal" fill="#000" >0.0</text>
<line x1="230.15" y1="633.3" x2="230.15" y2="638.5" stroke="#000" stroke-width="1.5"/>
<text x="230.15" y="651.00" font-size="12" text-anchor="middle" font-weight="bold" font-style="normal" fill="#000" >0.2</text>
<line x1="361.30" y1="633.3" x2="361.30" y2="638.5" stroke="#000" stroke-width="1.5"/>
<text x="361.30" y="651.00" font-size="12" text-anchor="middle" font-weight="bold" font-style="normal" fill="#000" >0.4</text>
<line x1="492.45" y1="633.3" x2="492.45" y2="638.5" stroke="#000" stroke-width="1.5"/>
<text x="492.45" y="651.00" font-size="12" text-anchor="middle" font-weight="bold" font-style="normal" fill="#000" >0.6</text>
<line x1="623.60" y1="633.3" x2="623.60" y2="638.5" stroke="#000" stroke-width="1.5"/>
<text x="623.60" y="651.00" font-size="12" text-anchor="middle" font-weight="bold" font-style="normal" fill="#000" >0.8</text>
<text transform="translate(58.9,514.7) rotate(-90)" font-size="13" font-weight="bold" text-anchor="middle"><tspan font-style="italic">CV</tspan> of <tspan font-style="italic">q</tspan></text>
<text x="365.70" y="664.30" font-size="13" text-anchor="middle" font-weight="bold" font-style="normal" fill="#000" ><tspan font-style="italic">CV</tspan> of normalized <tspan font-style="italic">θ</tspan></text>
<text x="167.00" y="423.80" font-size="13" text-anchor="start" font-weight="bold" font-style="normal" fill="#000" >gal-3 129-154</text>
<text x="279.00" y="436.10" font-size="13" text-anchor="start" font-weight="bold" font-style="normal" fill="#000" >TDP-43 341-357</text>
<text x="290.30" y="482.70" font-size="13" text-anchor="start" font-weight="bold" font-style="normal" fill="#000" >-5Aβ42</text>
<text x="400.60" y="489.10" font-size="13" text-anchor="start" font-weight="bold" font-style="normal" fill="#000" >hIAPP S20G 8-37</text>
<text x="364.60" y="504.90" font-size="13" text-anchor="start" font-weight="bold" font-style="normal" fill="#000" >Aβ42</text>
<text x="373.80" y="557.40" font-size="13" text-anchor="start" font-weight="bold" font-style="normal" fill="#000" >KRT-R</text>
<text x="187.00" y="581.80" font-size="13" text-anchor="start" font-weight="bold" font-style="normal" fill="#000" >gal-3 206-231</text>
<text x="469.10" y="540.00" font-size="13" text-anchor="start" font-weight="bold" font-style="normal" fill="#000" >gal-3 225-250</text>
<text x="510.00" y="600.50" font-size="13" text-anchor="start" font-weight="bold" font-style="normal" fill="#000" >hIAPP 8-37</text></svg>
</body></html>
